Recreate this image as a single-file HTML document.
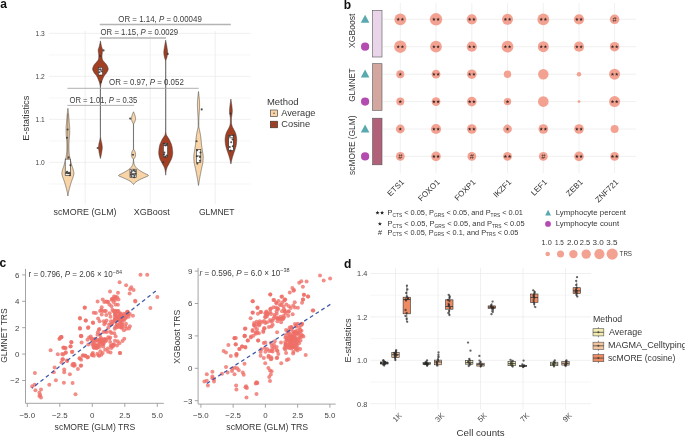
<!DOCTYPE html>
<html><head><meta charset="utf-8"><style>
html,body{margin:0;padding:0;background:#fff;}
svg{display:block;will-change:transform;}
text{font-family:"Liberation Sans", sans-serif;}
</style></head><body>
<svg width="685" height="437" viewBox="0 0 685 437">
<rect width="685" height="437" fill="#fff"/>
<line x1="49.00" y1="183.90" x2="250.50" y2="183.90" stroke="#f4f4f4" stroke-width="0.8"/>
<line x1="49.00" y1="162.40" x2="250.50" y2="162.40" stroke="#ececec" stroke-width="0.8"/>
<line x1="49.00" y1="140.90" x2="250.50" y2="140.90" stroke="#f4f4f4" stroke-width="0.8"/>
<line x1="49.00" y1="119.40" x2="250.50" y2="119.40" stroke="#ececec" stroke-width="0.8"/>
<line x1="49.00" y1="97.90" x2="250.50" y2="97.90" stroke="#f4f4f4" stroke-width="0.8"/>
<line x1="49.00" y1="76.40" x2="250.50" y2="76.40" stroke="#ececec" stroke-width="0.8"/>
<line x1="49.00" y1="54.90" x2="250.50" y2="54.90" stroke="#f4f4f4" stroke-width="0.8"/>
<line x1="49.00" y1="33.40" x2="250.50" y2="33.40" stroke="#ececec" stroke-width="0.8"/>
<line x1="85.20" y1="31.00" x2="85.20" y2="203.70" stroke="#ececec" stroke-width="0.8"/>
<line x1="150.20" y1="31.00" x2="150.20" y2="203.70" stroke="#ececec" stroke-width="0.8"/>
<line x1="215.20" y1="31.00" x2="215.20" y2="203.70" stroke="#ececec" stroke-width="0.8"/>
<text x="44.80" y="36.10" font-size="7.6" text-anchor="end" textLength="9.20" lengthAdjust="spacingAndGlyphs" fill="#444">1.3</text>
<text x="44.80" y="79.10" font-size="7.6" text-anchor="end" textLength="9.20" lengthAdjust="spacingAndGlyphs" fill="#444">1.2</text>
<text x="44.80" y="122.10" font-size="7.6" text-anchor="end" textLength="9.20" lengthAdjust="spacingAndGlyphs" fill="#444">1.1</text>
<text x="44.80" y="165.10" font-size="7.6" text-anchor="end" textLength="9.20" lengthAdjust="spacingAndGlyphs" fill="#444">1.0</text>
<text x="28.80" y="118.20" font-size="9.2" text-anchor="middle" textLength="45.00" lengthAdjust="spacingAndGlyphs" fill="#363636" transform="rotate(-90 28.80 118.20)">E-statistics</text>
<text x="85.00" y="214.70" font-size="9.8" text-anchor="middle" textLength="63.00" lengthAdjust="spacingAndGlyphs" fill="#363636">scMORE (GLM)</text>
<text x="151.80" y="214.70" font-size="9.8" text-anchor="middle" textLength="36.00" lengthAdjust="spacingAndGlyphs" fill="#363636">XGBoost</text>
<text x="216.70" y="214.70" font-size="9.8" text-anchor="middle" textLength="35.60" lengthAdjust="spacingAndGlyphs" fill="#363636">GLMNET</text>
<path d="M67.90,108.30 L67.95,108.63 L67.99,108.96 L68.04,109.30 L68.09,109.63 L68.14,109.96 L68.18,110.29 L68.23,110.63 L68.28,110.96 L68.32,111.29 L68.36,111.62 L68.40,111.95 L68.43,112.29 L68.46,112.62 L68.49,112.95 L68.52,113.28 L68.55,113.62 L68.58,113.95 L68.61,114.28 L68.64,114.61 L68.66,114.94 L68.69,115.28 L68.71,115.61 L68.74,115.94 L68.76,116.27 L68.79,116.60 L68.81,116.94 L68.84,117.27 L68.87,117.60 L68.89,117.93 L68.92,118.27 L68.95,118.60 L68.98,118.93 L69.01,119.26 L69.03,119.59 L69.06,119.93 L69.09,120.26 L69.12,120.59 L69.15,120.92 L69.18,121.26 L69.20,121.59 L69.23,121.92 L69.26,122.25 L69.29,122.58 L69.31,122.92 L69.34,123.25 L69.37,123.58 L69.39,123.91 L69.42,124.25 L69.45,124.58 L69.48,124.91 L69.52,125.24 L69.55,125.57 L69.58,125.91 L69.61,126.24 L69.64,126.57 L69.66,126.90 L69.68,127.24 L69.69,127.57 L69.70,127.90 L69.70,128.23 L69.70,128.56 L69.70,128.90 L69.70,129.23 L69.70,129.56 L69.70,129.89 L69.70,130.22 L69.70,130.56 L69.70,130.89 L69.70,131.22 L69.70,131.55 L69.70,131.89 L69.70,132.22 L69.70,132.55 L69.70,132.88 L69.70,133.21 L69.69,133.55 L69.68,133.88 L69.66,134.21 L69.63,134.54 L69.61,134.88 L69.58,135.21 L69.54,135.54 L69.51,135.87 L69.47,136.20 L69.43,136.54 L69.39,136.87 L69.36,137.20 L69.32,137.53 L69.29,137.87 L69.26,138.20 L69.23,138.53 L69.21,138.86 L69.19,139.19 L69.17,139.53 L69.15,139.86 L69.13,140.19 L69.11,140.52 L69.09,140.86 L69.07,141.19 L69.05,141.52 L69.03,141.85 L69.02,142.18 L69.00,142.52 L68.98,142.85 L68.97,143.18 L68.95,143.51 L68.94,143.85 L68.93,144.18 L68.92,144.51 L68.91,144.84 L68.91,145.17 L68.90,145.51 L68.90,145.84 L68.90,146.17 L68.90,146.50 L68.90,146.83 L68.91,147.17 L68.91,147.50 L68.92,147.83 L68.92,148.16 L68.93,148.50 L68.94,148.83 L68.94,149.16 L68.95,149.49 L68.96,149.82 L68.97,150.16 L68.98,150.49 L68.99,150.82 L69.01,151.15 L69.02,151.49 L69.04,151.82 L69.07,152.15 L69.10,152.48 L69.13,152.81 L69.17,153.15 L69.21,153.48 L69.25,153.81 L69.29,154.14 L69.33,154.48 L69.37,154.81 L69.42,155.14 L69.47,155.47 L69.52,155.80 L69.58,156.14 L69.64,156.47 L69.70,156.80 L69.77,157.13 L69.83,157.47 L69.90,157.80 L69.98,158.13 L70.05,158.46 L70.13,158.79 L70.20,159.13 L70.28,159.46 L70.35,159.79 L70.43,160.12 L70.50,160.45 L70.58,160.79 L70.66,161.12 L70.74,161.45 L70.83,161.78 L70.91,162.12 L71.00,162.45 L71.09,162.78 L71.17,163.11 L71.26,163.44 L71.36,163.78 L71.45,164.11 L71.54,164.44 L71.64,164.77 L71.73,165.11 L71.83,165.44 L71.94,165.77 L72.05,166.10 L72.16,166.43 L72.28,166.77 L72.40,167.10 L72.52,167.43 L72.63,167.76 L72.75,168.10 L72.86,168.43 L72.97,168.76 L73.07,169.09 L73.16,169.42 L73.24,169.76 L73.32,170.09 L73.40,170.42 L73.47,170.75 L73.55,171.09 L73.63,171.42 L73.70,171.75 L73.76,172.08 L73.81,172.41 L73.86,172.75 L73.89,173.08 L73.90,173.41 L73.89,173.74 L73.86,174.07 L73.82,174.41 L73.75,174.74 L73.67,175.07 L73.58,175.40 L73.48,175.74 L73.38,176.07 L73.28,176.40 L73.18,176.73 L73.08,177.06 L72.98,177.40 L72.87,177.73 L72.74,178.06 L72.62,178.39 L72.49,178.73 L72.35,179.06 L72.23,179.39 L72.10,179.72 L71.98,180.05 L71.87,180.39 L71.75,180.72 L71.64,181.05 L71.53,181.38 L71.42,181.72 L71.31,182.05 L71.20,182.38 L71.09,182.71 L70.99,183.04 L70.88,183.38 L70.78,183.71 L70.68,184.04 L70.58,184.37 L70.48,184.71 L70.38,185.04 L70.28,185.37 L70.18,185.70 L70.09,186.03 L70.00,186.37 L69.90,186.70 L69.81,187.03 L69.72,187.36 L69.63,187.70 L69.55,188.03 L69.46,188.36 L69.38,188.69 L69.29,189.02 L69.21,189.36 L69.13,189.69 L69.05,190.02 L68.97,190.35 L68.89,190.68 L68.82,191.02 L68.74,191.35 L68.67,191.68 L68.60,192.01 L68.53,192.35 L68.47,192.68 L68.40,193.01 L68.34,193.34 L68.29,193.67 L68.23,194.01 L68.17,194.34 L68.12,194.67 L68.07,195.00 L68.01,195.34 L67.96,195.67 L67.90,196.00 L67.90,196.00 L67.84,195.67 L67.79,195.34 L67.73,195.00 L67.68,194.67 L67.63,194.34 L67.57,194.01 L67.51,193.67 L67.46,193.34 L67.40,193.01 L67.33,192.68 L67.27,192.35 L67.20,192.01 L67.13,191.68 L67.06,191.35 L66.98,191.02 L66.91,190.68 L66.83,190.35 L66.75,190.02 L66.67,189.69 L66.59,189.36 L66.51,189.02 L66.42,188.69 L66.34,188.36 L66.25,188.03 L66.17,187.70 L66.08,187.36 L65.99,187.03 L65.90,186.70 L65.80,186.37 L65.71,186.03 L65.62,185.70 L65.52,185.37 L65.42,185.04 L65.32,184.71 L65.22,184.37 L65.12,184.04 L65.02,183.71 L64.92,183.38 L64.81,183.04 L64.71,182.71 L64.60,182.38 L64.49,182.05 L64.38,181.72 L64.27,181.38 L64.16,181.05 L64.05,180.72 L63.93,180.39 L63.82,180.05 L63.70,179.72 L63.57,179.39 L63.45,179.06 L63.31,178.73 L63.18,178.39 L63.06,178.06 L62.93,177.73 L62.82,177.40 L62.72,177.06 L62.62,176.73 L62.52,176.40 L62.42,176.07 L62.32,175.74 L62.22,175.40 L62.13,175.07 L62.05,174.74 L61.98,174.41 L61.94,174.07 L61.91,173.74 L61.90,173.41 L61.91,173.08 L61.94,172.75 L61.99,172.41 L62.04,172.08 L62.10,171.75 L62.17,171.42 L62.25,171.09 L62.33,170.75 L62.40,170.42 L62.48,170.09 L62.56,169.76 L62.64,169.42 L62.73,169.09 L62.83,168.76 L62.94,168.43 L63.05,168.10 L63.17,167.76 L63.28,167.43 L63.40,167.10 L63.52,166.77 L63.64,166.43 L63.75,166.10 L63.86,165.77 L63.97,165.44 L64.07,165.11 L64.16,164.77 L64.26,164.44 L64.35,164.11 L64.44,163.78 L64.54,163.44 L64.63,163.11 L64.71,162.78 L64.80,162.45 L64.89,162.12 L64.97,161.78 L65.06,161.45 L65.14,161.12 L65.22,160.79 L65.30,160.45 L65.37,160.12 L65.45,159.79 L65.52,159.46 L65.60,159.13 L65.67,158.79 L65.75,158.46 L65.82,158.13 L65.90,157.80 L65.97,157.47 L66.03,157.13 L66.10,156.80 L66.16,156.47 L66.22,156.14 L66.28,155.80 L66.33,155.47 L66.38,155.14 L66.43,154.81 L66.47,154.48 L66.51,154.14 L66.55,153.81 L66.59,153.48 L66.63,153.15 L66.67,152.81 L66.70,152.48 L66.73,152.15 L66.76,151.82 L66.78,151.49 L66.79,151.15 L66.81,150.82 L66.82,150.49 L66.83,150.16 L66.84,149.82 L66.85,149.49 L66.86,149.16 L66.86,148.83 L66.87,148.50 L66.88,148.16 L66.88,147.83 L66.89,147.50 L66.89,147.17 L66.90,146.83 L66.90,146.50 L66.90,146.17 L66.90,145.84 L66.90,145.51 L66.89,145.17 L66.89,144.84 L66.88,144.51 L66.87,144.18 L66.86,143.85 L66.85,143.51 L66.83,143.18 L66.82,142.85 L66.80,142.52 L66.78,142.18 L66.77,141.85 L66.75,141.52 L66.73,141.19 L66.71,140.86 L66.69,140.52 L66.67,140.19 L66.65,139.86 L66.63,139.53 L66.61,139.19 L66.59,138.86 L66.57,138.53 L66.54,138.20 L66.51,137.87 L66.48,137.53 L66.44,137.20 L66.41,136.87 L66.37,136.54 L66.33,136.20 L66.29,135.87 L66.26,135.54 L66.22,135.21 L66.19,134.88 L66.17,134.54 L66.14,134.21 L66.12,133.88 L66.11,133.55 L66.10,133.21 L66.10,132.88 L66.10,132.55 L66.10,132.22 L66.10,131.89 L66.10,131.55 L66.10,131.22 L66.10,130.89 L66.10,130.56 L66.10,130.22 L66.10,129.89 L66.10,129.56 L66.10,129.23 L66.10,128.90 L66.10,128.56 L66.10,128.23 L66.10,127.90 L66.11,127.57 L66.12,127.24 L66.14,126.90 L66.16,126.57 L66.19,126.24 L66.22,125.91 L66.25,125.57 L66.28,125.24 L66.32,124.91 L66.35,124.58 L66.38,124.25 L66.41,123.91 L66.43,123.58 L66.46,123.25 L66.49,122.92 L66.51,122.58 L66.54,122.25 L66.57,121.92 L66.60,121.59 L66.62,121.26 L66.65,120.92 L66.68,120.59 L66.71,120.26 L66.74,119.93 L66.77,119.59 L66.79,119.26 L66.82,118.93 L66.85,118.60 L66.88,118.27 L66.91,117.93 L66.93,117.60 L66.96,117.27 L66.99,116.94 L67.01,116.60 L67.04,116.27 L67.06,115.94 L67.09,115.61 L67.11,115.28 L67.14,114.94 L67.16,114.61 L67.19,114.28 L67.22,113.95 L67.25,113.62 L67.28,113.28 L67.31,112.95 L67.34,112.62 L67.37,112.29 L67.40,111.95 L67.44,111.62 L67.48,111.29 L67.52,110.96 L67.57,110.63 L67.62,110.29 L67.66,109.96 L67.71,109.63 L67.76,109.30 L67.81,108.96 L67.85,108.63 L67.90,108.30Z" fill="#f9d4a6" stroke="#333" stroke-width="0.5" stroke-linejoin="round"/>
<path d="M100.40,40.90 L100.46,41.23 L100.53,41.57 L100.59,41.90 L100.65,42.23 L100.71,42.57 L100.78,42.90 L100.84,43.23 L100.91,43.57 L100.98,43.90 L101.05,44.23 L101.12,44.56 L101.19,44.90 L101.27,45.23 L101.35,45.56 L101.42,45.90 L101.50,46.23 L101.59,46.56 L101.67,46.90 L101.77,47.23 L101.88,47.56 L102.01,47.90 L102.14,48.23 L102.27,48.56 L102.39,48.90 L102.49,49.23 L102.56,49.56 L102.60,49.89 L102.60,50.23 L102.58,50.56 L102.55,50.89 L102.52,51.23 L102.48,51.56 L102.44,51.89 L102.39,52.23 L102.35,52.56 L102.31,52.89 L102.28,53.23 L102.24,53.56 L102.19,53.89 L102.15,54.23 L102.11,54.56 L102.07,54.89 L102.03,55.23 L102.01,55.56 L102.00,55.89 L102.00,56.22 L102.01,56.56 L102.03,56.89 L102.06,57.22 L102.09,57.56 L102.13,57.89 L102.18,58.22 L102.23,58.56 L102.28,58.89 L102.35,59.22 L102.47,59.56 L102.62,59.89 L102.81,60.22 L103.01,60.56 L103.23,60.89 L103.46,61.22 L103.76,61.55 L104.09,61.89 L104.45,62.22 L104.79,62.55 L105.10,62.89 L105.38,63.22 L105.65,63.55 L105.92,63.89 L106.19,64.22 L106.44,64.55 L106.67,64.89 L106.89,65.22 L107.08,65.55 L107.25,65.89 L107.39,66.22 L107.53,66.55 L107.67,66.89 L107.81,67.22 L107.93,67.55 L108.03,67.88 L108.11,68.22 L108.17,68.55 L108.20,68.88 L108.19,69.22 L108.15,69.55 L108.07,69.88 L107.96,70.22 L107.82,70.55 L107.67,70.88 L107.50,71.22 L107.32,71.55 L107.14,71.88 L106.95,72.22 L106.77,72.55 L106.57,72.88 L106.34,73.22 L106.08,73.55 L105.80,73.88 L105.51,74.21 L105.22,74.55 L104.94,74.88 L104.67,75.21 L104.43,75.55 L104.21,75.88 L104.02,76.21 L103.84,76.55 L103.66,76.88 L103.50,77.21 L103.34,77.55 L103.18,77.88 L103.03,78.21 L102.89,78.55 L102.75,78.88 L102.61,79.21 L102.48,79.54 L102.35,79.88 L102.22,80.21 L102.09,80.54 L101.96,80.88 L101.84,81.21 L101.71,81.54 L101.59,81.88 L101.48,82.21 L101.37,82.54 L101.27,82.88 L101.18,83.21 L101.10,83.54 L101.02,83.88 L100.96,84.21 L100.90,84.54 L100.84,84.88 L100.78,85.21 L100.72,85.54 L100.67,85.87 L100.62,86.21 L100.58,86.54 L100.54,86.87 L100.51,87.21 L100.49,87.54 L100.48,87.87 L100.48,88.21 L100.48,88.54 L100.48,88.87 L100.48,89.21 L100.47,89.54 L100.47,89.87 L100.47,90.21 L100.47,90.54 L100.47,90.87 L100.47,91.20 L100.47,91.54 L100.47,91.87 L100.47,92.20 L100.47,92.54 L100.47,92.87 L100.47,93.20 L100.46,93.54 L100.46,93.87 L100.46,94.20 L100.46,94.54 L100.46,94.87 L100.46,95.20 L100.46,95.54 L100.46,95.87 L100.46,96.20 L100.46,96.54 L100.46,96.87 L100.46,97.20 L100.46,97.53 L100.46,97.87 L100.46,98.20 L100.46,98.53 L100.46,98.87 L100.46,99.20 L100.46,99.53 L100.46,99.87 L100.46,100.20 L100.46,100.53 L100.46,100.87 L100.46,101.20 L100.46,101.53 L100.46,101.87 L100.46,102.20 L100.46,102.53 L100.46,102.86 L100.46,103.20 L100.46,103.53 L100.46,103.86 L100.46,104.20 L100.46,104.53 L100.46,104.86 L100.46,105.20 L100.46,105.53 L100.46,105.86 L100.46,106.20 L100.46,106.53 L100.46,106.86 L100.46,107.20 L100.46,107.53 L100.46,107.86 L100.46,108.20 L100.46,108.53 L100.46,108.86 L100.46,109.19 L100.46,109.53 L100.46,109.86 L100.46,110.19 L100.46,110.53 L100.46,110.86 L100.46,111.19 L100.46,111.53 L100.46,111.86 L100.46,112.19 L100.46,112.53 L100.46,112.86 L100.46,113.19 L100.46,113.53 L100.46,113.86 L100.46,114.19 L100.46,114.52 L100.46,114.86 L100.46,115.19 L100.46,115.52 L100.46,115.86 L100.46,116.19 L100.46,116.52 L100.46,116.86 L100.46,117.19 L100.46,117.52 L100.46,117.86 L100.46,118.19 L100.46,118.52 L100.46,118.86 L100.46,119.19 L100.46,119.52 L100.46,119.86 L100.46,120.19 L100.46,120.52 L100.46,120.85 L100.46,121.19 L100.46,121.52 L100.46,121.85 L100.46,122.19 L100.46,122.52 L100.46,122.85 L100.46,123.19 L100.46,123.52 L100.46,123.85 L100.46,124.19 L100.46,124.52 L100.46,124.85 L100.46,125.19 L100.46,125.52 L100.46,125.85 L100.46,126.18 L100.46,126.52 L100.46,126.85 L100.46,127.18 L100.46,127.52 L100.46,127.85 L100.46,128.18 L100.46,128.52 L100.46,128.85 L100.47,129.18 L100.47,129.52 L100.47,129.85 L100.47,130.18 L100.47,130.52 L100.47,130.85 L100.47,131.18 L100.47,131.52 L100.47,131.85 L100.47,132.18 L100.47,132.51 L100.47,132.85 L100.47,133.18 L100.47,133.51 L100.47,133.85 L100.47,134.18 L100.48,134.51 L100.48,134.85 L100.48,135.18 L100.48,135.51 L100.48,135.85 L100.48,136.18 L100.50,136.51 L100.52,136.85 L100.55,137.18 L100.59,137.51 L100.64,137.85 L100.69,138.18 L100.74,138.51 L100.80,138.84 L100.86,139.18 L100.92,139.51 L100.97,139.84 L101.03,140.18 L101.10,140.51 L101.17,140.84 L101.25,141.18 L101.33,141.51 L101.42,141.84 L101.51,142.18 L101.59,142.51 L101.67,142.84 L101.75,143.18 L101.82,143.51 L101.88,143.84 L101.93,144.17 L101.98,144.51 L102.03,144.84 L102.07,145.17 L102.12,145.51 L102.17,145.84 L102.21,146.17 L102.24,146.51 L102.27,146.84 L102.29,147.17 L102.30,147.51 L102.30,147.84 L102.29,148.17 L102.26,148.51 L102.23,148.84 L102.18,149.17 L102.14,149.51 L102.08,149.84 L102.03,150.17 L101.98,150.50 L101.92,150.84 L101.88,151.17 L101.83,151.50 L101.77,151.84 L101.72,152.17 L101.66,152.50 L101.61,152.84 L101.55,153.17 L101.49,153.50 L101.43,153.84 L101.36,154.17 L101.30,154.50 L101.23,154.84 L101.17,155.17 L101.10,155.50 L101.02,155.83 L100.95,156.17 L100.87,156.50 L100.79,156.83 L100.71,157.17 L100.63,157.50 L100.56,157.83 L100.48,158.17 L100.40,158.50 L100.40,158.50 L100.32,158.17 L100.24,157.83 L100.17,157.50 L100.09,157.17 L100.01,156.83 L99.93,156.50 L99.85,156.17 L99.78,155.83 L99.70,155.50 L99.63,155.17 L99.57,154.84 L99.50,154.50 L99.44,154.17 L99.37,153.84 L99.31,153.50 L99.25,153.17 L99.19,152.84 L99.14,152.50 L99.08,152.17 L99.03,151.84 L98.97,151.50 L98.92,151.17 L98.88,150.84 L98.82,150.50 L98.77,150.17 L98.72,149.84 L98.66,149.51 L98.62,149.17 L98.57,148.84 L98.54,148.51 L98.51,148.17 L98.50,147.84 L98.50,147.51 L98.51,147.17 L98.53,146.84 L98.56,146.51 L98.59,146.17 L98.63,145.84 L98.68,145.51 L98.73,145.17 L98.77,144.84 L98.82,144.51 L98.87,144.17 L98.92,143.84 L98.98,143.51 L99.05,143.18 L99.13,142.84 L99.21,142.51 L99.29,142.18 L99.38,141.84 L99.47,141.51 L99.55,141.18 L99.63,140.84 L99.70,140.51 L99.77,140.18 L99.83,139.84 L99.88,139.51 L99.94,139.18 L100.00,138.84 L100.06,138.51 L100.11,138.18 L100.16,137.85 L100.21,137.51 L100.25,137.18 L100.28,136.85 L100.30,136.51 L100.32,136.18 L100.32,135.85 L100.32,135.51 L100.32,135.18 L100.32,134.85 L100.32,134.51 L100.33,134.18 L100.33,133.85 L100.33,133.51 L100.33,133.18 L100.33,132.85 L100.33,132.51 L100.33,132.18 L100.33,131.85 L100.33,131.52 L100.33,131.18 L100.33,130.85 L100.33,130.52 L100.33,130.18 L100.33,129.85 L100.33,129.52 L100.33,129.18 L100.34,128.85 L100.34,128.52 L100.34,128.18 L100.34,127.85 L100.34,127.52 L100.34,127.18 L100.34,126.85 L100.34,126.52 L100.34,126.18 L100.34,125.85 L100.34,125.52 L100.34,125.19 L100.34,124.85 L100.34,124.52 L100.34,124.19 L100.34,123.85 L100.34,123.52 L100.34,123.19 L100.34,122.85 L100.34,122.52 L100.34,122.19 L100.34,121.85 L100.34,121.52 L100.34,121.19 L100.34,120.85 L100.34,120.52 L100.34,120.19 L100.34,119.86 L100.34,119.52 L100.34,119.19 L100.34,118.86 L100.34,118.52 L100.34,118.19 L100.34,117.86 L100.34,117.52 L100.34,117.19 L100.34,116.86 L100.34,116.52 L100.34,116.19 L100.34,115.86 L100.34,115.52 L100.34,115.19 L100.34,114.86 L100.34,114.52 L100.34,114.19 L100.34,113.86 L100.34,113.53 L100.34,113.19 L100.34,112.86 L100.34,112.53 L100.34,112.19 L100.34,111.86 L100.34,111.53 L100.34,111.19 L100.34,110.86 L100.34,110.53 L100.34,110.19 L100.34,109.86 L100.34,109.53 L100.34,109.19 L100.34,108.86 L100.34,108.53 L100.34,108.20 L100.34,107.86 L100.34,107.53 L100.34,107.20 L100.34,106.86 L100.34,106.53 L100.34,106.20 L100.34,105.86 L100.34,105.53 L100.34,105.20 L100.34,104.86 L100.34,104.53 L100.34,104.20 L100.34,103.86 L100.34,103.53 L100.34,103.20 L100.34,102.86 L100.34,102.53 L100.34,102.20 L100.34,101.87 L100.34,101.53 L100.34,101.20 L100.34,100.87 L100.34,100.53 L100.34,100.20 L100.34,99.87 L100.34,99.53 L100.34,99.20 L100.34,98.87 L100.34,98.53 L100.34,98.20 L100.34,97.87 L100.34,97.53 L100.34,97.20 L100.34,96.87 L100.34,96.54 L100.34,96.20 L100.34,95.87 L100.34,95.54 L100.34,95.20 L100.34,94.87 L100.34,94.54 L100.34,94.20 L100.34,93.87 L100.34,93.54 L100.33,93.20 L100.33,92.87 L100.33,92.54 L100.33,92.20 L100.33,91.87 L100.33,91.54 L100.33,91.20 L100.33,90.87 L100.33,90.54 L100.33,90.21 L100.33,89.87 L100.33,89.54 L100.32,89.21 L100.32,88.87 L100.32,88.54 L100.32,88.21 L100.32,87.87 L100.31,87.54 L100.29,87.21 L100.26,86.87 L100.22,86.54 L100.18,86.21 L100.13,85.87 L100.08,85.54 L100.02,85.21 L99.96,84.88 L99.90,84.54 L99.84,84.21 L99.78,83.88 L99.70,83.54 L99.62,83.21 L99.53,82.88 L99.43,82.54 L99.32,82.21 L99.21,81.88 L99.09,81.54 L98.96,81.21 L98.84,80.88 L98.71,80.54 L98.58,80.21 L98.45,79.88 L98.32,79.54 L98.19,79.21 L98.05,78.88 L97.91,78.55 L97.77,78.21 L97.62,77.88 L97.46,77.55 L97.30,77.21 L97.14,76.88 L96.96,76.55 L96.78,76.21 L96.59,75.88 L96.37,75.55 L96.13,75.21 L95.86,74.88 L95.58,74.55 L95.29,74.21 L95.00,73.88 L94.72,73.55 L94.46,73.22 L94.23,72.88 L94.03,72.55 L93.85,72.22 L93.66,71.88 L93.48,71.55 L93.30,71.22 L93.13,70.88 L92.98,70.55 L92.84,70.22 L92.73,69.88 L92.65,69.55 L92.61,69.22 L92.60,68.88 L92.63,68.55 L92.69,68.22 L92.77,67.88 L92.87,67.55 L92.99,67.22 L93.13,66.89 L93.27,66.55 L93.41,66.22 L93.55,65.89 L93.72,65.55 L93.91,65.22 L94.13,64.89 L94.36,64.55 L94.61,64.22 L94.88,63.89 L95.15,63.55 L95.42,63.22 L95.70,62.89 L96.01,62.55 L96.35,62.22 L96.71,61.89 L97.04,61.55 L97.34,61.22 L97.57,60.89 L97.79,60.56 L97.99,60.22 L98.18,59.89 L98.33,59.56 L98.45,59.22 L98.52,58.89 L98.57,58.56 L98.62,58.22 L98.67,57.89 L98.71,57.56 L98.74,57.22 L98.77,56.89 L98.79,56.56 L98.80,56.22 L98.80,55.89 L98.79,55.56 L98.77,55.23 L98.73,54.89 L98.69,54.56 L98.65,54.23 L98.61,53.89 L98.56,53.56 L98.52,53.23 L98.49,52.89 L98.45,52.56 L98.41,52.23 L98.36,51.89 L98.32,51.56 L98.28,51.23 L98.25,50.89 L98.22,50.56 L98.20,50.23 L98.20,49.89 L98.24,49.56 L98.31,49.23 L98.41,48.90 L98.53,48.56 L98.66,48.23 L98.79,47.90 L98.92,47.56 L99.03,47.23 L99.13,46.90 L99.21,46.56 L99.30,46.23 L99.38,45.90 L99.45,45.56 L99.53,45.23 L99.61,44.90 L99.68,44.56 L99.75,44.23 L99.82,43.90 L99.89,43.57 L99.96,43.23 L100.02,42.90 L100.09,42.57 L100.15,42.23 L100.21,41.90 L100.27,41.57 L100.34,41.23 L100.40,40.90Z" fill="#a23f22" stroke="#333" stroke-width="0.5" stroke-linejoin="round"/>
<path d="M133.50,111.80 L133.64,112.13 L133.78,112.46 L133.93,112.80 L134.08,113.13 L134.22,113.46 L134.36,113.79 L134.50,114.12 L134.62,114.46 L134.74,114.79 L134.83,115.12 L134.93,115.45 L135.04,115.78 L135.14,116.12 L135.23,116.45 L135.32,116.78 L135.41,117.11 L135.48,117.44 L135.54,117.78 L135.58,118.11 L135.60,118.44 L135.60,118.77 L135.57,119.10 L135.51,119.44 L135.44,119.77 L135.35,120.10 L135.25,120.43 L135.14,120.76 L135.03,121.09 L134.92,121.43 L134.81,121.76 L134.65,122.09 L134.47,122.42 L134.28,122.75 L134.09,123.09 L133.91,123.42 L133.76,123.75 L133.66,124.08 L133.60,124.41 L133.60,124.75 L133.59,125.08 L133.59,125.41 L133.59,125.74 L133.59,126.07 L133.58,126.41 L133.58,126.74 L133.58,127.07 L133.58,127.40 L133.58,127.73 L133.57,128.07 L133.57,128.40 L133.57,128.73 L133.57,129.06 L133.57,129.39 L133.57,129.73 L133.57,130.06 L133.57,130.39 L133.56,130.72 L133.56,131.05 L133.56,131.39 L133.56,131.72 L133.56,132.05 L133.56,132.38 L133.56,132.71 L133.56,133.05 L133.56,133.38 L133.56,133.71 L133.56,134.04 L133.56,134.37 L133.56,134.71 L133.56,135.04 L133.56,135.37 L133.56,135.70 L133.56,136.03 L133.56,136.37 L133.56,136.70 L133.56,137.03 L133.56,137.36 L133.56,137.69 L133.56,138.03 L133.56,138.36 L133.56,138.69 L133.56,139.02 L133.56,139.35 L133.56,139.68 L133.56,140.02 L133.56,140.35 L133.56,140.68 L133.56,141.01 L133.57,141.34 L133.57,141.68 L133.57,142.01 L133.57,142.34 L133.57,142.67 L133.57,143.00 L133.57,143.34 L133.57,143.67 L133.57,144.00 L133.57,144.33 L133.58,144.66 L133.58,145.00 L133.58,145.33 L133.58,145.66 L133.58,145.99 L133.58,146.32 L133.59,146.66 L133.59,146.99 L133.59,147.32 L133.59,147.65 L133.59,147.98 L133.60,148.32 L133.60,148.65 L133.60,148.98 L133.65,149.31 L133.78,149.64 L133.97,149.98 L134.20,150.31 L134.43,150.64 L134.65,150.97 L134.83,151.30 L134.94,151.64 L135.05,151.97 L135.15,152.30 L135.25,152.63 L135.34,152.96 L135.42,153.30 L135.49,153.63 L135.55,153.96 L135.58,154.29 L135.60,154.62 L135.59,154.96 L135.56,155.29 L135.50,155.62 L135.42,155.95 L135.33,156.28 L135.22,156.62 L135.10,156.95 L134.98,157.28 L134.85,157.61 L134.64,157.94 L134.36,158.27 L134.06,158.61 L133.81,158.94 L133.64,159.27 L133.60,159.60 L133.61,159.93 L133.62,160.27 L133.63,160.60 L133.65,160.93 L133.68,161.26 L133.71,161.59 L133.74,161.93 L133.77,162.26 L133.81,162.59 L133.86,162.92 L133.93,163.25 L134.02,163.59 L134.11,163.92 L134.22,164.25 L134.34,164.58 L134.47,164.91 L134.60,165.25 L134.76,165.58 L134.94,165.91 L135.14,166.24 L135.36,166.57 L135.60,166.91 L135.86,167.24 L136.13,167.57 L136.41,167.90 L136.72,168.23 L137.07,168.57 L137.46,168.90 L137.89,169.23 L138.34,169.56 L138.82,169.89 L139.31,170.23 L139.82,170.56 L140.33,170.89 L140.85,171.22 L141.41,171.55 L142.01,171.89 L142.62,172.22 L143.25,172.55 L143.87,172.88 L144.49,173.21 L145.08,173.55 L145.75,173.88 L146.50,174.21 L147.22,174.54 L147.84,174.87 L148.26,175.21 L148.40,175.54 L148.17,175.87 L147.63,176.20 L146.89,176.53 L146.05,176.86 L145.20,177.20 L144.44,177.53 L143.71,177.86 L142.94,178.19 L142.16,178.52 L141.39,178.86 L140.64,179.19 L139.96,179.52 L139.31,179.85 L138.69,180.18 L138.08,180.52 L137.51,180.85 L136.97,181.18 L136.48,181.51 L136.03,181.84 L135.61,182.18 L135.21,182.51 L134.86,182.84 L134.54,183.17 L134.26,183.50 L134.00,183.84 L133.76,184.17 L133.50,184.50 L133.50,184.50 L133.24,184.17 L133.00,183.84 L132.74,183.50 L132.46,183.17 L132.14,182.84 L131.79,182.51 L131.39,182.18 L130.97,181.84 L130.52,181.51 L130.03,181.18 L129.49,180.85 L128.92,180.52 L128.31,180.18 L127.69,179.85 L127.04,179.52 L126.36,179.19 L125.61,178.86 L124.84,178.52 L124.06,178.19 L123.29,177.86 L122.56,177.53 L121.80,177.20 L120.95,176.86 L120.11,176.53 L119.37,176.20 L118.83,175.87 L118.60,175.54 L118.74,175.21 L119.16,174.87 L119.78,174.54 L120.50,174.21 L121.25,173.88 L121.92,173.55 L122.51,173.21 L123.13,172.88 L123.75,172.55 L124.38,172.22 L124.99,171.89 L125.59,171.55 L126.15,171.22 L126.67,170.89 L127.18,170.56 L127.69,170.23 L128.18,169.89 L128.66,169.56 L129.11,169.23 L129.54,168.90 L129.93,168.57 L130.28,168.23 L130.59,167.90 L130.87,167.57 L131.14,167.24 L131.40,166.91 L131.64,166.57 L131.86,166.24 L132.06,165.91 L132.24,165.58 L132.40,165.25 L132.53,164.91 L132.66,164.58 L132.78,164.25 L132.89,163.92 L132.98,163.59 L133.07,163.25 L133.14,162.92 L133.19,162.59 L133.23,162.26 L133.26,161.93 L133.29,161.59 L133.32,161.26 L133.35,160.93 L133.37,160.60 L133.38,160.27 L133.39,159.93 L133.40,159.60 L133.36,159.27 L133.19,158.94 L132.94,158.61 L132.64,158.27 L132.36,157.94 L132.15,157.61 L132.02,157.28 L131.90,156.95 L131.78,156.62 L131.67,156.28 L131.58,155.95 L131.50,155.62 L131.44,155.29 L131.41,154.96 L131.40,154.62 L131.42,154.29 L131.45,153.96 L131.51,153.63 L131.58,153.30 L131.66,152.96 L131.75,152.63 L131.85,152.30 L131.95,151.97 L132.06,151.64 L132.17,151.30 L132.35,150.97 L132.57,150.64 L132.80,150.31 L133.03,149.98 L133.22,149.64 L133.35,149.31 L133.40,148.98 L133.40,148.65 L133.40,148.32 L133.41,147.98 L133.41,147.65 L133.41,147.32 L133.41,146.99 L133.41,146.66 L133.42,146.32 L133.42,145.99 L133.42,145.66 L133.42,145.33 L133.42,145.00 L133.42,144.66 L133.43,144.33 L133.43,144.00 L133.43,143.67 L133.43,143.34 L133.43,143.00 L133.43,142.67 L133.43,142.34 L133.43,142.01 L133.43,141.68 L133.43,141.34 L133.44,141.01 L133.44,140.68 L133.44,140.35 L133.44,140.02 L133.44,139.68 L133.44,139.35 L133.44,139.02 L133.44,138.69 L133.44,138.36 L133.44,138.03 L133.44,137.69 L133.44,137.36 L133.44,137.03 L133.44,136.70 L133.44,136.37 L133.44,136.03 L133.44,135.70 L133.44,135.37 L133.44,135.04 L133.44,134.71 L133.44,134.37 L133.44,134.04 L133.44,133.71 L133.44,133.38 L133.44,133.05 L133.44,132.71 L133.44,132.38 L133.44,132.05 L133.44,131.72 L133.44,131.39 L133.44,131.05 L133.44,130.72 L133.43,130.39 L133.43,130.06 L133.43,129.73 L133.43,129.39 L133.43,129.06 L133.43,128.73 L133.43,128.40 L133.43,128.07 L133.42,127.73 L133.42,127.40 L133.42,127.07 L133.42,126.74 L133.42,126.41 L133.41,126.07 L133.41,125.74 L133.41,125.41 L133.41,125.08 L133.40,124.75 L133.40,124.41 L133.34,124.08 L133.24,123.75 L133.09,123.42 L132.91,123.09 L132.72,122.75 L132.53,122.42 L132.35,122.09 L132.19,121.76 L132.08,121.43 L131.97,121.09 L131.86,120.76 L131.75,120.43 L131.65,120.10 L131.56,119.77 L131.49,119.44 L131.43,119.10 L131.40,118.77 L131.40,118.44 L131.42,118.11 L131.46,117.78 L131.52,117.44 L131.59,117.11 L131.68,116.78 L131.77,116.45 L131.86,116.12 L131.96,115.78 L132.07,115.45 L132.17,115.12 L132.26,114.79 L132.38,114.46 L132.50,114.12 L132.64,113.79 L132.78,113.46 L132.92,113.13 L133.07,112.80 L133.22,112.46 L133.36,112.13 L133.50,111.80Z" fill="#f9d4a6" stroke="#333" stroke-width="0.5" stroke-linejoin="round"/>
<path d="M165.70,40.10 L165.76,40.43 L165.82,40.77 L165.88,41.10 L165.94,41.43 L166.00,41.76 L166.06,42.10 L166.12,42.43 L166.18,42.76 L166.24,43.09 L166.30,43.43 L166.36,43.76 L166.42,44.09 L166.48,44.43 L166.54,44.76 L166.60,45.09 L166.66,45.42 L166.73,45.76 L166.79,46.09 L166.85,46.42 L166.91,46.76 L166.96,47.09 L167.02,47.42 L167.07,47.75 L167.11,48.09 L167.16,48.42 L167.21,48.75 L167.26,49.08 L167.31,49.42 L167.36,49.75 L167.40,50.08 L167.45,50.42 L167.49,50.75 L167.52,51.08 L167.55,51.41 L167.58,51.75 L167.59,52.08 L167.60,52.41 L167.60,52.74 L167.58,53.08 L167.56,53.41 L167.53,53.74 L167.50,54.08 L167.45,54.41 L167.40,54.74 L167.35,55.07 L167.29,55.41 L167.23,55.74 L167.17,56.07 L167.11,56.41 L167.05,56.74 L166.99,57.07 L166.91,57.40 L166.82,57.74 L166.71,58.07 L166.60,58.40 L166.48,58.73 L166.35,59.07 L166.23,59.40 L166.12,59.73 L166.02,60.07 L165.93,60.40 L165.86,60.73 L165.82,61.06 L165.80,61.40 L165.80,61.73 L165.80,62.06 L165.79,62.39 L165.79,62.73 L165.79,63.06 L165.79,63.39 L165.79,63.73 L165.79,64.06 L165.79,64.39 L165.78,64.72 L165.78,65.06 L165.78,65.39 L165.78,65.72 L165.78,66.06 L165.78,66.39 L165.78,66.72 L165.78,67.05 L165.78,67.39 L165.77,67.72 L165.77,68.05 L165.77,68.38 L165.77,68.72 L165.77,69.05 L165.77,69.38 L165.77,69.72 L165.77,70.05 L165.77,70.38 L165.77,70.71 L165.77,71.05 L165.77,71.38 L165.77,71.71 L165.77,72.04 L165.76,72.38 L165.76,72.71 L165.76,73.04 L165.76,73.38 L165.76,73.71 L165.76,74.04 L165.76,74.37 L165.76,74.71 L165.76,75.04 L165.76,75.37 L165.76,75.71 L165.76,76.04 L165.76,76.37 L165.76,76.70 L165.76,77.04 L165.76,77.37 L165.76,77.70 L165.76,78.03 L165.76,78.37 L165.76,78.70 L165.76,79.03 L165.76,79.37 L165.76,79.70 L165.76,80.03 L165.76,80.36 L165.76,80.70 L165.76,81.03 L165.76,81.36 L165.76,81.69 L165.76,82.03 L165.76,82.36 L165.76,82.69 L165.76,83.03 L165.76,83.36 L165.76,83.69 L165.76,84.02 L165.76,84.36 L165.76,84.69 L165.76,85.02 L165.76,85.36 L165.76,85.69 L165.76,86.02 L165.76,86.35 L165.76,86.69 L165.76,87.02 L165.76,87.35 L165.76,87.68 L165.76,88.02 L165.76,88.35 L165.76,88.68 L165.76,89.02 L165.76,89.35 L165.76,89.68 L165.76,90.01 L165.76,90.35 L165.76,90.68 L165.76,91.01 L165.76,91.34 L165.76,91.68 L165.76,92.01 L165.76,92.34 L165.76,92.68 L165.76,93.01 L165.76,93.34 L165.76,93.67 L165.76,94.01 L165.76,94.34 L165.76,94.67 L165.76,95.01 L165.76,95.34 L165.76,95.67 L165.76,96.00 L165.76,96.34 L165.76,96.67 L165.76,97.00 L165.76,97.33 L165.76,97.67 L165.76,98.00 L165.76,98.33 L165.76,98.67 L165.76,99.00 L165.76,99.33 L165.76,99.66 L165.76,100.00 L165.76,100.33 L165.76,100.66 L165.76,100.99 L165.76,101.33 L165.76,101.66 L165.76,101.99 L165.76,102.33 L165.76,102.66 L165.76,102.99 L165.76,103.32 L165.76,103.66 L165.76,103.99 L165.76,104.32 L165.76,104.66 L165.76,104.99 L165.76,105.32 L165.76,105.65 L165.76,105.99 L165.76,106.32 L165.76,106.65 L165.76,106.98 L165.76,107.32 L165.76,107.65 L165.76,107.98 L165.76,108.32 L165.76,108.65 L165.76,108.98 L165.76,109.31 L165.76,109.65 L165.76,109.98 L165.76,110.31 L165.76,110.64 L165.76,110.98 L165.76,111.31 L165.76,111.64 L165.76,111.98 L165.76,112.31 L165.76,112.64 L165.76,112.97 L165.76,113.31 L165.76,113.64 L165.76,113.97 L165.76,114.31 L165.76,114.64 L165.76,114.97 L165.76,115.30 L165.76,115.64 L165.76,115.97 L165.76,116.30 L165.76,116.63 L165.76,116.97 L165.76,117.30 L165.76,117.63 L165.76,117.97 L165.76,118.30 L165.76,118.63 L165.76,118.96 L165.76,119.30 L165.76,119.63 L165.76,119.96 L165.76,120.29 L165.76,120.63 L165.76,120.96 L165.76,121.29 L165.76,121.63 L165.76,121.96 L165.76,122.29 L165.76,122.62 L165.76,122.96 L165.76,123.29 L165.76,123.62 L165.77,123.96 L165.77,124.29 L165.77,124.62 L165.77,124.95 L165.77,125.29 L165.77,125.62 L165.77,125.95 L165.77,126.28 L165.78,126.62 L165.78,126.95 L165.78,127.28 L165.78,127.62 L165.78,127.95 L165.79,128.28 L165.79,128.61 L165.79,128.95 L165.79,129.28 L165.80,129.61 L165.80,129.94 L165.80,130.28 L165.81,130.61 L165.83,130.94 L165.85,131.28 L165.87,131.61 L165.90,131.94 L165.94,132.27 L165.98,132.61 L166.02,132.94 L166.07,133.27 L166.12,133.61 L166.18,133.94 L166.24,134.27 L166.30,134.60 L166.40,134.94 L166.55,135.27 L166.75,135.60 L166.97,135.93 L167.20,136.27 L167.44,136.60 L167.66,136.93 L167.87,137.27 L168.08,137.60 L168.31,137.93 L168.53,138.26 L168.74,138.60 L168.95,138.93 L169.13,139.26 L169.31,139.59 L169.47,139.93 L169.63,140.26 L169.78,140.59 L169.93,140.93 L170.08,141.26 L170.22,141.59 L170.37,141.92 L170.51,142.26 L170.67,142.59 L170.82,142.92 L170.97,143.26 L171.12,143.59 L171.26,143.92 L171.39,144.25 L171.51,144.59 L171.61,144.92 L171.69,145.25 L171.78,145.58 L171.86,145.92 L171.93,146.25 L172.01,146.58 L172.08,146.92 L172.14,147.25 L172.20,147.58 L172.25,147.91 L172.30,148.25 L172.35,148.58 L172.39,148.91 L172.43,149.24 L172.46,149.58 L172.50,149.91 L172.54,150.24 L172.57,150.58 L172.60,150.91 L172.63,151.24 L172.65,151.57 L172.67,151.91 L172.69,152.24 L172.70,152.57 L172.70,152.91 L172.69,153.24 L172.67,153.57 L172.64,153.90 L172.60,154.24 L172.55,154.57 L172.50,154.90 L172.44,155.23 L172.38,155.57 L172.32,155.90 L172.26,156.23 L172.19,156.57 L172.11,156.90 L172.02,157.23 L171.93,157.56 L171.83,157.90 L171.72,158.23 L171.61,158.56 L171.49,158.89 L171.35,159.23 L171.20,159.56 L171.04,159.89 L170.87,160.23 L170.69,160.56 L170.51,160.89 L170.34,161.22 L170.17,161.56 L170.00,161.89 L169.84,162.22 L169.67,162.56 L169.50,162.89 L169.33,163.22 L169.15,163.55 L168.98,163.89 L168.80,164.22 L168.62,164.55 L168.42,164.88 L168.22,165.22 L168.02,165.55 L167.82,165.88 L167.64,166.22 L167.48,166.55 L167.33,166.88 L167.19,167.21 L167.05,167.55 L166.92,167.88 L166.81,168.21 L166.70,168.54 L166.61,168.88 L166.52,169.21 L166.44,169.54 L166.37,169.88 L166.30,170.21 L166.23,170.54 L166.17,170.87 L166.11,171.21 L166.06,171.54 L166.02,171.87 L165.97,172.21 L165.94,172.54 L165.90,172.87 L165.87,173.20 L165.84,173.54 L165.81,173.87 L165.79,174.20 L165.76,174.53 L165.73,174.87 L165.70,175.20 L165.70,175.20 L165.67,174.87 L165.64,174.53 L165.61,174.20 L165.59,173.87 L165.56,173.54 L165.53,173.20 L165.50,172.87 L165.46,172.54 L165.43,172.21 L165.38,171.87 L165.34,171.54 L165.29,171.21 L165.23,170.87 L165.17,170.54 L165.10,170.21 L165.03,169.88 L164.96,169.54 L164.88,169.21 L164.79,168.88 L164.70,168.54 L164.59,168.21 L164.48,167.88 L164.35,167.55 L164.21,167.21 L164.07,166.88 L163.92,166.55 L163.76,166.22 L163.58,165.88 L163.38,165.55 L163.18,165.22 L162.98,164.88 L162.78,164.55 L162.60,164.22 L162.42,163.89 L162.25,163.55 L162.07,163.22 L161.90,162.89 L161.73,162.56 L161.56,162.22 L161.40,161.89 L161.23,161.56 L161.06,161.22 L160.89,160.89 L160.71,160.56 L160.53,160.23 L160.36,159.89 L160.20,159.56 L160.05,159.23 L159.91,158.89 L159.79,158.56 L159.68,158.23 L159.57,157.90 L159.47,157.56 L159.38,157.23 L159.29,156.90 L159.21,156.57 L159.14,156.23 L159.08,155.90 L159.02,155.57 L158.96,155.23 L158.90,154.90 L158.85,154.57 L158.80,154.24 L158.76,153.90 L158.73,153.57 L158.71,153.24 L158.70,152.91 L158.70,152.57 L158.71,152.24 L158.73,151.91 L158.75,151.57 L158.77,151.24 L158.80,150.91 L158.83,150.58 L158.86,150.24 L158.90,149.91 L158.94,149.58 L158.97,149.24 L159.01,148.91 L159.05,148.58 L159.10,148.25 L159.15,147.91 L159.20,147.58 L159.26,147.25 L159.32,146.92 L159.39,146.58 L159.47,146.25 L159.54,145.92 L159.62,145.58 L159.71,145.25 L159.79,144.92 L159.89,144.59 L160.01,144.25 L160.14,143.92 L160.28,143.59 L160.43,143.26 L160.58,142.92 L160.73,142.59 L160.89,142.26 L161.03,141.92 L161.18,141.59 L161.32,141.26 L161.47,140.93 L161.62,140.59 L161.77,140.26 L161.93,139.93 L162.09,139.59 L162.27,139.26 L162.45,138.93 L162.66,138.60 L162.87,138.26 L163.09,137.93 L163.32,137.60 L163.53,137.27 L163.74,136.93 L163.96,136.60 L164.20,136.27 L164.43,135.93 L164.65,135.60 L164.85,135.27 L165.00,134.94 L165.10,134.60 L165.16,134.27 L165.22,133.94 L165.28,133.61 L165.33,133.27 L165.38,132.94 L165.42,132.61 L165.46,132.27 L165.50,131.94 L165.53,131.61 L165.55,131.28 L165.57,130.94 L165.59,130.61 L165.60,130.28 L165.60,129.94 L165.60,129.61 L165.61,129.28 L165.61,128.95 L165.61,128.61 L165.61,128.28 L165.62,127.95 L165.62,127.62 L165.62,127.28 L165.62,126.95 L165.62,126.62 L165.63,126.28 L165.63,125.95 L165.63,125.62 L165.63,125.29 L165.63,124.95 L165.63,124.62 L165.63,124.29 L165.63,123.96 L165.64,123.62 L165.64,123.29 L165.64,122.96 L165.64,122.62 L165.64,122.29 L165.64,121.96 L165.64,121.63 L165.64,121.29 L165.64,120.96 L165.64,120.63 L165.64,120.29 L165.64,119.96 L165.64,119.63 L165.64,119.30 L165.64,118.96 L165.64,118.63 L165.64,118.30 L165.64,117.97 L165.64,117.63 L165.64,117.30 L165.64,116.97 L165.64,116.63 L165.64,116.30 L165.64,115.97 L165.64,115.64 L165.64,115.30 L165.64,114.97 L165.64,114.64 L165.64,114.31 L165.64,113.97 L165.64,113.64 L165.64,113.31 L165.64,112.97 L165.64,112.64 L165.64,112.31 L165.64,111.98 L165.64,111.64 L165.64,111.31 L165.64,110.98 L165.64,110.64 L165.64,110.31 L165.64,109.98 L165.64,109.65 L165.64,109.31 L165.64,108.98 L165.64,108.65 L165.64,108.32 L165.64,107.98 L165.64,107.65 L165.64,107.32 L165.64,106.98 L165.64,106.65 L165.64,106.32 L165.64,105.99 L165.64,105.65 L165.64,105.32 L165.64,104.99 L165.64,104.66 L165.64,104.32 L165.64,103.99 L165.64,103.66 L165.64,103.32 L165.64,102.99 L165.64,102.66 L165.64,102.33 L165.64,101.99 L165.64,101.66 L165.64,101.33 L165.64,100.99 L165.64,100.66 L165.64,100.33 L165.64,100.00 L165.64,99.66 L165.64,99.33 L165.64,99.00 L165.64,98.67 L165.64,98.33 L165.64,98.00 L165.64,97.67 L165.64,97.33 L165.64,97.00 L165.64,96.67 L165.64,96.34 L165.64,96.00 L165.64,95.67 L165.64,95.34 L165.64,95.01 L165.64,94.67 L165.64,94.34 L165.64,94.01 L165.64,93.67 L165.64,93.34 L165.64,93.01 L165.64,92.68 L165.64,92.34 L165.64,92.01 L165.64,91.68 L165.64,91.34 L165.64,91.01 L165.64,90.68 L165.64,90.35 L165.64,90.01 L165.64,89.68 L165.64,89.35 L165.64,89.02 L165.64,88.68 L165.64,88.35 L165.64,88.02 L165.64,87.68 L165.64,87.35 L165.64,87.02 L165.64,86.69 L165.64,86.35 L165.64,86.02 L165.64,85.69 L165.64,85.36 L165.64,85.02 L165.64,84.69 L165.64,84.36 L165.64,84.02 L165.64,83.69 L165.64,83.36 L165.64,83.03 L165.64,82.69 L165.64,82.36 L165.64,82.03 L165.64,81.69 L165.64,81.36 L165.64,81.03 L165.64,80.70 L165.64,80.36 L165.64,80.03 L165.64,79.70 L165.64,79.37 L165.64,79.03 L165.64,78.70 L165.64,78.37 L165.64,78.03 L165.64,77.70 L165.64,77.37 L165.64,77.04 L165.64,76.70 L165.64,76.37 L165.64,76.04 L165.64,75.71 L165.64,75.37 L165.64,75.04 L165.64,74.71 L165.64,74.37 L165.64,74.04 L165.64,73.71 L165.64,73.38 L165.64,73.04 L165.64,72.71 L165.64,72.38 L165.63,72.04 L165.63,71.71 L165.63,71.38 L165.63,71.05 L165.63,70.71 L165.63,70.38 L165.63,70.05 L165.63,69.72 L165.63,69.38 L165.63,69.05 L165.63,68.72 L165.63,68.38 L165.63,68.05 L165.63,67.72 L165.62,67.39 L165.62,67.05 L165.62,66.72 L165.62,66.39 L165.62,66.06 L165.62,65.72 L165.62,65.39 L165.62,65.06 L165.62,64.72 L165.61,64.39 L165.61,64.06 L165.61,63.73 L165.61,63.39 L165.61,63.06 L165.61,62.73 L165.61,62.39 L165.60,62.06 L165.60,61.73 L165.60,61.40 L165.58,61.06 L165.54,60.73 L165.47,60.40 L165.38,60.07 L165.28,59.73 L165.17,59.40 L165.05,59.07 L164.92,58.73 L164.80,58.40 L164.69,58.07 L164.58,57.74 L164.49,57.40 L164.41,57.07 L164.35,56.74 L164.29,56.41 L164.23,56.07 L164.17,55.74 L164.11,55.41 L164.05,55.07 L164.00,54.74 L163.95,54.41 L163.90,54.08 L163.87,53.74 L163.84,53.41 L163.82,53.08 L163.80,52.74 L163.80,52.41 L163.81,52.08 L163.82,51.75 L163.85,51.41 L163.88,51.08 L163.91,50.75 L163.95,50.42 L164.00,50.08 L164.04,49.75 L164.09,49.42 L164.14,49.08 L164.19,48.75 L164.24,48.42 L164.29,48.09 L164.33,47.75 L164.38,47.42 L164.44,47.09 L164.49,46.76 L164.55,46.42 L164.61,46.09 L164.67,45.76 L164.74,45.42 L164.80,45.09 L164.86,44.76 L164.92,44.43 L164.98,44.09 L165.04,43.76 L165.10,43.43 L165.16,43.09 L165.22,42.76 L165.28,42.43 L165.34,42.10 L165.40,41.76 L165.46,41.43 L165.52,41.10 L165.58,40.77 L165.64,40.43 L165.70,40.10Z" fill="#a23f22" stroke="#333" stroke-width="0.5" stroke-linejoin="round"/>
<path d="M198.50,91.50 L198.54,91.83 L198.57,92.16 L198.61,92.50 L198.65,92.83 L198.69,93.16 L198.72,93.49 L198.76,93.83 L198.80,94.16 L198.84,94.49 L198.87,94.82 L198.91,95.15 L198.95,95.49 L198.98,95.82 L199.02,96.15 L199.05,96.48 L199.09,96.81 L199.13,97.15 L199.17,97.48 L199.20,97.81 L199.24,98.14 L199.27,98.48 L199.31,98.81 L199.34,99.14 L199.36,99.47 L199.39,99.80 L199.41,100.14 L199.43,100.47 L199.45,100.80 L199.47,101.13 L199.48,101.46 L199.50,101.80 L199.52,102.13 L199.53,102.46 L199.55,102.79 L199.56,103.13 L199.57,103.46 L199.58,103.79 L199.59,104.12 L199.60,104.45 L199.60,104.79 L199.60,105.12 L199.60,105.45 L199.59,105.78 L199.58,106.11 L199.57,106.45 L199.56,106.78 L199.55,107.11 L199.53,107.44 L199.52,107.78 L199.50,108.11 L199.48,108.44 L199.46,108.77 L199.45,109.10 L199.43,109.44 L199.41,109.77 L199.40,110.10 L199.38,110.43 L199.36,110.77 L199.34,111.10 L199.32,111.43 L199.30,111.76 L199.28,112.09 L199.26,112.43 L199.24,112.76 L199.22,113.09 L199.19,113.42 L199.17,113.75 L199.15,114.09 L199.13,114.42 L199.11,114.75 L199.10,115.08 L199.08,115.42 L199.06,115.75 L199.03,116.08 L199.01,116.41 L198.99,116.74 L198.97,117.08 L198.95,117.41 L198.93,117.74 L198.90,118.07 L198.88,118.40 L198.87,118.74 L198.85,119.07 L198.84,119.40 L198.82,119.73 L198.81,120.07 L198.81,120.40 L198.80,120.73 L198.80,121.06 L198.80,121.39 L198.80,121.73 L198.80,122.06 L198.80,122.39 L198.80,122.72 L198.80,123.05 L198.80,123.39 L198.80,123.72 L198.80,124.05 L198.80,124.38 L198.80,124.72 L198.80,125.05 L198.80,125.38 L198.80,125.71 L198.80,126.04 L198.81,126.38 L198.84,126.71 L198.88,127.04 L198.93,127.37 L199.00,127.70 L199.06,128.04 L199.14,128.37 L199.22,128.70 L199.29,129.03 L199.37,129.37 L199.44,129.70 L199.51,130.03 L199.57,130.36 L199.64,130.69 L199.71,131.03 L199.78,131.36 L199.85,131.69 L199.92,132.02 L199.99,132.36 L200.06,132.69 L200.12,133.02 L200.19,133.35 L200.25,133.68 L200.30,134.02 L200.36,134.35 L200.41,134.68 L200.46,135.01 L200.51,135.34 L200.56,135.68 L200.60,136.01 L200.65,136.34 L200.69,136.67 L200.74,137.01 L200.78,137.34 L200.82,137.67 L200.86,138.00 L200.90,138.33 L200.94,138.67 L200.98,139.00 L201.02,139.33 L201.06,139.66 L201.10,139.99 L201.14,140.33 L201.17,140.66 L201.21,140.99 L201.24,141.32 L201.27,141.66 L201.30,141.99 L201.33,142.32 L201.36,142.65 L201.39,142.98 L201.42,143.32 L201.45,143.65 L201.48,143.98 L201.52,144.31 L201.55,144.64 L201.58,144.98 L201.62,145.31 L201.66,145.64 L201.70,145.97 L201.74,146.31 L201.79,146.64 L201.84,146.97 L201.89,147.30 L201.94,147.63 L202.00,147.97 L202.06,148.30 L202.12,148.63 L202.17,148.96 L202.23,149.30 L202.29,149.63 L202.34,149.96 L202.40,150.29 L202.45,150.62 L202.49,150.96 L202.54,151.29 L202.59,151.62 L202.64,151.95 L202.69,152.28 L202.74,152.62 L202.79,152.95 L202.85,153.28 L202.90,153.61 L202.94,153.95 L202.99,154.28 L203.03,154.61 L203.07,154.94 L203.11,155.27 L203.14,155.61 L203.16,155.94 L203.18,156.27 L203.19,156.60 L203.20,156.93 L203.20,157.27 L203.19,157.60 L203.19,157.93 L203.17,158.26 L203.16,158.60 L203.14,158.93 L203.12,159.26 L203.10,159.59 L203.08,159.92 L203.05,160.26 L203.02,160.59 L203.00,160.92 L202.97,161.25 L202.94,161.58 L202.91,161.92 L202.88,162.25 L202.84,162.58 L202.79,162.91 L202.74,163.25 L202.68,163.58 L202.61,163.91 L202.55,164.24 L202.48,164.57 L202.40,164.91 L202.33,165.24 L202.25,165.57 L202.17,165.90 L202.09,166.23 L202.02,166.57 L201.94,166.90 L201.86,167.23 L201.79,167.56 L201.72,167.90 L201.65,168.23 L201.59,168.56 L201.52,168.89 L201.45,169.22 L201.39,169.56 L201.32,169.89 L201.25,170.22 L201.18,170.55 L201.12,170.89 L201.05,171.22 L200.98,171.55 L200.92,171.88 L200.85,172.21 L200.78,172.55 L200.72,172.88 L200.65,173.21 L200.58,173.54 L200.52,173.87 L200.45,174.21 L200.39,174.54 L200.32,174.87 L200.26,175.20 L200.20,175.54 L200.13,175.87 L200.07,176.20 L200.01,176.53 L199.95,176.86 L199.88,177.20 L199.82,177.53 L199.76,177.86 L199.70,178.19 L199.64,178.52 L199.58,178.86 L199.52,179.19 L199.46,179.52 L199.40,179.85 L199.34,180.19 L199.28,180.52 L199.23,180.85 L199.17,181.18 L199.12,181.51 L199.06,181.85 L199.01,182.18 L198.96,182.51 L198.91,182.84 L198.85,183.17 L198.80,183.51 L198.75,183.84 L198.70,184.17 L198.65,184.50 L198.60,184.84 L198.55,185.17 L198.50,185.50 L198.50,185.50 L198.45,185.17 L198.40,184.84 L198.35,184.50 L198.30,184.17 L198.25,183.84 L198.20,183.51 L198.15,183.17 L198.09,182.84 L198.04,182.51 L197.99,182.18 L197.94,181.85 L197.88,181.51 L197.83,181.18 L197.77,180.85 L197.72,180.52 L197.66,180.19 L197.60,179.85 L197.54,179.52 L197.48,179.19 L197.42,178.86 L197.36,178.52 L197.30,178.19 L197.24,177.86 L197.18,177.53 L197.12,177.20 L197.05,176.86 L196.99,176.53 L196.93,176.20 L196.87,175.87 L196.80,175.54 L196.74,175.20 L196.68,174.87 L196.61,174.54 L196.55,174.21 L196.48,173.87 L196.42,173.54 L196.35,173.21 L196.28,172.88 L196.22,172.55 L196.15,172.21 L196.08,171.88 L196.02,171.55 L195.95,171.22 L195.88,170.89 L195.82,170.55 L195.75,170.22 L195.68,169.89 L195.61,169.56 L195.55,169.22 L195.48,168.89 L195.41,168.56 L195.35,168.23 L195.28,167.90 L195.21,167.56 L195.14,167.23 L195.06,166.90 L194.98,166.57 L194.91,166.23 L194.83,165.90 L194.75,165.57 L194.67,165.24 L194.60,164.91 L194.52,164.57 L194.45,164.24 L194.39,163.91 L194.32,163.58 L194.26,163.25 L194.21,162.91 L194.16,162.58 L194.12,162.25 L194.09,161.92 L194.06,161.58 L194.03,161.25 L194.00,160.92 L193.98,160.59 L193.95,160.26 L193.92,159.92 L193.90,159.59 L193.88,159.26 L193.86,158.93 L193.84,158.60 L193.83,158.26 L193.81,157.93 L193.81,157.60 L193.80,157.27 L193.80,156.93 L193.81,156.60 L193.82,156.27 L193.84,155.94 L193.86,155.61 L193.89,155.27 L193.93,154.94 L193.97,154.61 L194.01,154.28 L194.06,153.95 L194.10,153.61 L194.15,153.28 L194.21,152.95 L194.26,152.62 L194.31,152.28 L194.36,151.95 L194.41,151.62 L194.46,151.29 L194.51,150.96 L194.55,150.62 L194.60,150.29 L194.66,149.96 L194.71,149.63 L194.77,149.30 L194.83,148.96 L194.88,148.63 L194.94,148.30 L195.00,147.97 L195.06,147.63 L195.11,147.30 L195.16,146.97 L195.21,146.64 L195.26,146.31 L195.30,145.97 L195.34,145.64 L195.38,145.31 L195.42,144.98 L195.45,144.64 L195.48,144.31 L195.52,143.98 L195.55,143.65 L195.58,143.32 L195.61,142.98 L195.64,142.65 L195.67,142.32 L195.70,141.99 L195.73,141.66 L195.76,141.32 L195.79,140.99 L195.83,140.66 L195.86,140.33 L195.90,139.99 L195.94,139.66 L195.98,139.33 L196.02,139.00 L196.06,138.67 L196.10,138.33 L196.14,138.00 L196.18,137.67 L196.22,137.34 L196.26,137.01 L196.31,136.67 L196.35,136.34 L196.40,136.01 L196.44,135.68 L196.49,135.34 L196.54,135.01 L196.59,134.68 L196.64,134.35 L196.70,134.02 L196.75,133.68 L196.81,133.35 L196.88,133.02 L196.94,132.69 L197.01,132.36 L197.08,132.02 L197.15,131.69 L197.22,131.36 L197.29,131.03 L197.36,130.69 L197.43,130.36 L197.49,130.03 L197.56,129.70 L197.63,129.37 L197.71,129.03 L197.78,128.70 L197.86,128.37 L197.94,128.04 L198.00,127.70 L198.07,127.37 L198.12,127.04 L198.16,126.71 L198.19,126.38 L198.20,126.04 L198.20,125.71 L198.20,125.38 L198.20,125.05 L198.20,124.72 L198.20,124.38 L198.20,124.05 L198.20,123.72 L198.20,123.39 L198.20,123.05 L198.20,122.72 L198.20,122.39 L198.20,122.06 L198.20,121.73 L198.20,121.39 L198.20,121.06 L198.20,120.73 L198.19,120.40 L198.19,120.07 L198.18,119.73 L198.16,119.40 L198.15,119.07 L198.13,118.74 L198.12,118.40 L198.10,118.07 L198.07,117.74 L198.05,117.41 L198.03,117.08 L198.01,116.74 L197.99,116.41 L197.97,116.08 L197.94,115.75 L197.92,115.42 L197.90,115.08 L197.89,114.75 L197.87,114.42 L197.85,114.09 L197.83,113.75 L197.81,113.42 L197.78,113.09 L197.76,112.76 L197.74,112.43 L197.72,112.09 L197.70,111.76 L197.68,111.43 L197.66,111.10 L197.64,110.77 L197.62,110.43 L197.60,110.10 L197.59,109.77 L197.57,109.44 L197.55,109.10 L197.54,108.77 L197.52,108.44 L197.50,108.11 L197.48,107.78 L197.47,107.44 L197.45,107.11 L197.44,106.78 L197.43,106.45 L197.42,106.11 L197.41,105.78 L197.40,105.45 L197.40,105.12 L197.40,104.79 L197.40,104.45 L197.41,104.12 L197.42,103.79 L197.43,103.46 L197.44,103.13 L197.45,102.79 L197.47,102.46 L197.48,102.13 L197.50,101.80 L197.52,101.46 L197.53,101.13 L197.55,100.80 L197.57,100.47 L197.59,100.14 L197.61,99.80 L197.64,99.47 L197.66,99.14 L197.69,98.81 L197.73,98.48 L197.76,98.14 L197.80,97.81 L197.83,97.48 L197.87,97.15 L197.91,96.81 L197.95,96.48 L197.98,96.15 L198.02,95.82 L198.05,95.49 L198.09,95.15 L198.13,94.82 L198.16,94.49 L198.20,94.16 L198.24,93.83 L198.28,93.49 L198.31,93.16 L198.35,92.83 L198.39,92.50 L198.43,92.16 L198.46,91.83 L198.50,91.50Z" fill="#f9d4a6" stroke="#333" stroke-width="0.5" stroke-linejoin="round"/>
<path d="M230.90,99.00 L230.95,99.33 L231.00,99.66 L231.05,99.99 L231.10,100.33 L231.15,100.66 L231.21,100.99 L231.26,101.32 L231.31,101.65 L231.36,101.98 L231.40,102.32 L231.45,102.65 L231.50,102.98 L231.54,103.31 L231.59,103.64 L231.63,103.97 L231.68,104.31 L231.72,104.64 L231.77,104.97 L231.81,105.30 L231.85,105.63 L231.89,105.96 L231.93,106.30 L231.96,106.63 L232.00,106.96 L232.03,107.29 L232.06,107.62 L232.09,107.95 L232.13,108.29 L232.16,108.62 L232.19,108.95 L232.22,109.28 L232.25,109.61 L232.27,109.94 L232.28,110.28 L232.30,110.61 L232.30,110.94 L232.30,111.27 L232.28,111.60 L232.26,111.93 L232.24,112.27 L232.20,112.60 L232.16,112.93 L232.12,113.26 L232.08,113.59 L232.04,113.92 L231.99,114.26 L231.95,114.59 L231.91,114.92 L231.87,115.25 L231.82,115.58 L231.77,115.91 L231.72,116.24 L231.66,116.58 L231.61,116.91 L231.56,117.24 L231.51,117.57 L231.47,117.90 L231.43,118.23 L231.41,118.57 L231.40,118.90 L231.40,119.23 L231.40,119.56 L231.41,119.89 L231.41,120.22 L231.42,120.56 L231.42,120.89 L231.43,121.22 L231.44,121.55 L231.45,121.88 L231.47,122.21 L231.48,122.55 L231.49,122.88 L231.51,123.21 L231.55,123.54 L231.59,123.87 L231.65,124.20 L231.72,124.54 L231.80,124.87 L231.88,125.20 L231.97,125.53 L232.06,125.86 L232.16,126.19 L232.28,126.53 L232.41,126.86 L232.57,127.19 L232.73,127.52 L232.90,127.85 L233.08,128.18 L233.25,128.52 L233.42,128.85 L233.59,129.18 L233.77,129.51 L233.95,129.84 L234.14,130.17 L234.34,130.51 L234.52,130.84 L234.70,131.17 L234.87,131.50 L235.03,131.83 L235.17,132.16 L235.30,132.49 L235.43,132.83 L235.56,133.16 L235.68,133.49 L235.79,133.82 L235.89,134.15 L235.98,134.48 L236.06,134.82 L236.13,135.15 L236.20,135.48 L236.26,135.81 L236.32,136.14 L236.39,136.47 L236.45,136.81 L236.50,137.14 L236.55,137.47 L236.59,137.80 L236.63,138.13 L236.66,138.46 L236.68,138.80 L236.70,139.13 L236.70,139.46 L236.70,139.79 L236.69,140.12 L236.68,140.45 L236.66,140.79 L236.65,141.12 L236.63,141.45 L236.60,141.78 L236.58,142.11 L236.55,142.44 L236.52,142.78 L236.49,143.11 L236.46,143.44 L236.42,143.77 L236.39,144.10 L236.35,144.43 L236.30,144.77 L236.24,145.10 L236.17,145.43 L236.10,145.76 L236.02,146.09 L235.93,146.42 L235.84,146.76 L235.75,147.09 L235.66,147.42 L235.56,147.75 L235.46,148.08 L235.37,148.41 L235.27,148.74 L235.18,149.08 L235.08,149.41 L234.98,149.74 L234.87,150.07 L234.76,150.40 L234.65,150.73 L234.53,151.07 L234.41,151.40 L234.29,151.73 L234.17,152.06 L234.05,152.39 L233.93,152.72 L233.82,153.06 L233.70,153.39 L233.59,153.72 L233.48,154.05 L233.38,154.38 L233.27,154.71 L233.17,155.05 L233.06,155.38 L232.96,155.71 L232.85,156.04 L232.75,156.37 L232.65,156.70 L232.55,157.04 L232.45,157.37 L232.35,157.70 L232.26,158.03 L232.17,158.36 L232.08,158.69 L231.99,159.03 L231.91,159.36 L231.83,159.69 L231.75,160.02 L231.68,160.35 L231.60,160.68 L231.53,161.02 L231.46,161.35 L231.39,161.68 L231.32,162.01 L231.25,162.34 L231.18,162.67 L231.11,163.01 L231.04,163.34 L230.97,163.67 L230.90,164.00 L230.90,164.00 L230.83,163.67 L230.76,163.34 L230.69,163.01 L230.62,162.67 L230.55,162.34 L230.48,162.01 L230.41,161.68 L230.34,161.35 L230.27,161.02 L230.20,160.68 L230.12,160.35 L230.05,160.02 L229.97,159.69 L229.89,159.36 L229.81,159.03 L229.72,158.69 L229.63,158.36 L229.54,158.03 L229.45,157.70 L229.35,157.37 L229.25,157.04 L229.15,156.70 L229.05,156.37 L228.95,156.04 L228.84,155.71 L228.74,155.38 L228.63,155.05 L228.53,154.71 L228.42,154.38 L228.32,154.05 L228.21,153.72 L228.10,153.39 L227.98,153.06 L227.87,152.72 L227.75,152.39 L227.63,152.06 L227.51,151.73 L227.39,151.40 L227.27,151.07 L227.15,150.73 L227.04,150.40 L226.93,150.07 L226.82,149.74 L226.72,149.41 L226.62,149.08 L226.53,148.74 L226.43,148.41 L226.34,148.08 L226.24,147.75 L226.14,147.42 L226.05,147.09 L225.96,146.76 L225.87,146.42 L225.78,146.09 L225.70,145.76 L225.63,145.43 L225.56,145.10 L225.50,144.77 L225.45,144.43 L225.41,144.10 L225.38,143.77 L225.34,143.44 L225.31,143.11 L225.28,142.78 L225.25,142.44 L225.22,142.11 L225.20,141.78 L225.17,141.45 L225.15,141.12 L225.14,140.79 L225.12,140.45 L225.11,140.12 L225.10,139.79 L225.10,139.46 L225.10,139.13 L225.12,138.80 L225.14,138.46 L225.17,138.13 L225.21,137.80 L225.25,137.47 L225.30,137.14 L225.35,136.81 L225.41,136.47 L225.48,136.14 L225.54,135.81 L225.60,135.48 L225.67,135.15 L225.74,134.82 L225.82,134.48 L225.91,134.15 L226.01,133.82 L226.12,133.49 L226.24,133.16 L226.37,132.83 L226.50,132.49 L226.63,132.16 L226.77,131.83 L226.93,131.50 L227.10,131.17 L227.28,130.84 L227.46,130.51 L227.66,130.17 L227.85,129.84 L228.03,129.51 L228.21,129.18 L228.38,128.85 L228.55,128.52 L228.72,128.18 L228.90,127.85 L229.07,127.52 L229.23,127.19 L229.39,126.86 L229.52,126.53 L229.64,126.19 L229.74,125.86 L229.83,125.53 L229.92,125.20 L230.00,124.87 L230.08,124.54 L230.15,124.20 L230.21,123.87 L230.25,123.54 L230.29,123.21 L230.31,122.88 L230.32,122.55 L230.33,122.21 L230.35,121.88 L230.36,121.55 L230.37,121.22 L230.38,120.89 L230.38,120.56 L230.39,120.22 L230.39,119.89 L230.40,119.56 L230.40,119.23 L230.40,118.90 L230.39,118.57 L230.37,118.23 L230.33,117.90 L230.29,117.57 L230.24,117.24 L230.19,116.91 L230.14,116.58 L230.08,116.24 L230.03,115.91 L229.98,115.58 L229.93,115.25 L229.89,114.92 L229.85,114.59 L229.81,114.26 L229.76,113.92 L229.72,113.59 L229.68,113.26 L229.64,112.93 L229.60,112.60 L229.56,112.27 L229.54,111.93 L229.52,111.60 L229.50,111.27 L229.50,110.94 L229.50,110.61 L229.52,110.28 L229.53,109.94 L229.55,109.61 L229.58,109.28 L229.61,108.95 L229.64,108.62 L229.67,108.29 L229.71,107.95 L229.74,107.62 L229.77,107.29 L229.80,106.96 L229.84,106.63 L229.87,106.30 L229.91,105.96 L229.95,105.63 L229.99,105.30 L230.03,104.97 L230.08,104.64 L230.12,104.31 L230.17,103.97 L230.21,103.64 L230.26,103.31 L230.30,102.98 L230.35,102.65 L230.40,102.32 L230.44,101.98 L230.49,101.65 L230.54,101.32 L230.59,100.99 L230.65,100.66 L230.70,100.33 L230.75,99.99 L230.80,99.66 L230.85,99.33 L230.90,99.00Z" fill="#a23f22" stroke="#333" stroke-width="0.5" stroke-linejoin="round"/>
<line x1="67.80" y1="113.50" x2="67.80" y2="159.10" stroke="#333" stroke-width="0.5"/>
<rect x="65.20" y="159.10" width="5.20" height="16.20" fill="#ffffff" stroke="#2a2a2a" stroke-width="0.6"/>
<line x1="65.20" y1="173.40" x2="70.40" y2="173.40" stroke="#2a2a2a" stroke-width="0.7"/>
<rect x="98.30" y="67.40" width="4.30" height="7.60" fill="#ffffff" stroke="#2a2a2a" stroke-width="0.6"/>
<line x1="98.30" y1="69.20" x2="102.60" y2="69.20" stroke="#2a2a2a" stroke-width="0.7"/>
<rect x="130.00" y="169.20" width="6.20" height="8.40" fill="#ffffff" stroke="#2a2a2a" stroke-width="0.6"/>
<line x1="130.00" y1="174.00" x2="136.20" y2="174.00" stroke="#2a2a2a" stroke-width="0.7"/>
<rect x="163.30" y="143.30" width="4.40" height="13.60" fill="#ffffff" stroke="#2a2a2a" stroke-width="0.6"/>
<line x1="163.30" y1="145.40" x2="167.70" y2="145.40" stroke="#2a2a2a" stroke-width="0.7"/>
<rect x="196.30" y="149.60" width="4.50" height="12.80" fill="#ffffff" stroke="#2a2a2a" stroke-width="0.6"/>
<line x1="196.30" y1="156.00" x2="200.80" y2="156.00" stroke="#2a2a2a" stroke-width="0.7"/>
<rect x="228.70" y="135.30" width="4.60" height="15.20" fill="#ffffff" stroke="#2a2a2a" stroke-width="0.6"/>
<line x1="228.70" y1="137.80" x2="233.30" y2="137.80" stroke="#2a2a2a" stroke-width="0.7"/>
<circle cx="67.60" cy="129.50" r="1.05" fill="#333" fill-opacity="0.85"/>
<circle cx="66.90" cy="137.80" r="1.05" fill="#333" fill-opacity="0.85"/>
<circle cx="68.60" cy="157.40" r="1.05" fill="#333" fill-opacity="0.85"/>
<circle cx="70.40" cy="165.20" r="1.05" fill="#333" fill-opacity="0.85"/>
<circle cx="66.50" cy="172.50" r="1.05" fill="#333" fill-opacity="0.85"/>
<circle cx="68.20" cy="173.30" r="1.05" fill="#333" fill-opacity="0.85"/>
<circle cx="69.50" cy="172.90" r="1.05" fill="#333" fill-opacity="0.85"/>
<circle cx="67.20" cy="171.80" r="1.05" fill="#333" fill-opacity="0.85"/>
<circle cx="70.00" cy="175.20" r="1.05" fill="#333" fill-opacity="0.85"/>
<circle cx="103.50" cy="50.40" r="1.05" fill="#333" fill-opacity="0.85"/>
<circle cx="99.90" cy="56.00" r="1.05" fill="#333" fill-opacity="0.85"/>
<circle cx="101.00" cy="82.00" r="1.05" fill="#333" fill-opacity="0.85"/>
<circle cx="100.20" cy="69.60" r="1.05" fill="#333" fill-opacity="0.85"/>
<circle cx="101.50" cy="71.20" r="1.05" fill="#333" fill-opacity="0.85"/>
<circle cx="99.40" cy="72.20" r="1.05" fill="#333" fill-opacity="0.85"/>
<circle cx="97.70" cy="148.00" r="1.05" fill="#333" fill-opacity="0.85"/>
<circle cx="130.20" cy="118.60" r="1.05" fill="#333" fill-opacity="0.85"/>
<circle cx="133.00" cy="154.70" r="1.05" fill="#333" fill-opacity="0.85"/>
<circle cx="131.20" cy="172.60" r="1.05" fill="#333" fill-opacity="0.85"/>
<circle cx="135.20" cy="171.20" r="1.05" fill="#333" fill-opacity="0.85"/>
<circle cx="134.50" cy="175.60" r="1.05" fill="#333" fill-opacity="0.85"/>
<circle cx="131.50" cy="176.20" r="1.05" fill="#333" fill-opacity="0.85"/>
<circle cx="133.00" cy="174.20" r="1.05" fill="#333" fill-opacity="0.85"/>
<circle cx="131.00" cy="174.80" r="1.05" fill="#333" fill-opacity="0.85"/>
<circle cx="135.40" cy="173.60" r="1.05" fill="#333" fill-opacity="0.85"/>
<circle cx="134.20" cy="177.20" r="1.05" fill="#333" fill-opacity="0.85"/>
<circle cx="131.90" cy="171.00" r="1.05" fill="#333" fill-opacity="0.85"/>
<circle cx="133.90" cy="170.40" r="1.05" fill="#333" fill-opacity="0.85"/>
<circle cx="167.70" cy="53.90" r="1.05" fill="#333" fill-opacity="0.85"/>
<circle cx="164.20" cy="143.80" r="1.05" fill="#333" fill-opacity="0.85"/>
<circle cx="166.80" cy="144.50" r="1.05" fill="#333" fill-opacity="0.85"/>
<circle cx="165.50" cy="145.40" r="1.05" fill="#333" fill-opacity="0.85"/>
<circle cx="164.00" cy="154.50" r="1.05" fill="#333" fill-opacity="0.85"/>
<circle cx="166.90" cy="155.50" r="1.05" fill="#333" fill-opacity="0.85"/>
<circle cx="165.20" cy="156.60" r="1.05" fill="#333" fill-opacity="0.85"/>
<circle cx="163.30" cy="162.20" r="1.05" fill="#333" fill-opacity="0.85"/>
<circle cx="164.40" cy="152.60" r="1.05" fill="#333" fill-opacity="0.85"/>
<circle cx="201.70" cy="109.40" r="1.05" fill="#333" fill-opacity="0.85"/>
<circle cx="196.60" cy="141.20" r="1.05" fill="#333" fill-opacity="0.85"/>
<circle cx="197.20" cy="150.30" r="1.05" fill="#333" fill-opacity="0.85"/>
<circle cx="200.50" cy="152.50" r="1.05" fill="#333" fill-opacity="0.85"/>
<circle cx="196.80" cy="156.20" r="1.05" fill="#333" fill-opacity="0.85"/>
<circle cx="199.90" cy="160.80" r="1.05" fill="#333" fill-opacity="0.85"/>
<circle cx="197.30" cy="163.60" r="1.05" fill="#333" fill-opacity="0.85"/>
<circle cx="200.00" cy="157.00" r="1.05" fill="#333" fill-opacity="0.85"/>
<circle cx="230.50" cy="113.50" r="1.05" fill="#333" fill-opacity="0.85"/>
<circle cx="229.80" cy="136.00" r="1.05" fill="#333" fill-opacity="0.85"/>
<circle cx="233.40" cy="135.40" r="1.05" fill="#333" fill-opacity="0.85"/>
<circle cx="231.20" cy="142.20" r="1.05" fill="#333" fill-opacity="0.85"/>
<circle cx="229.80" cy="147.00" r="1.05" fill="#333" fill-opacity="0.85"/>
<circle cx="232.80" cy="146.20" r="1.05" fill="#333" fill-opacity="0.85"/>
<circle cx="230.40" cy="150.60" r="1.05" fill="#333" fill-opacity="0.85"/>
<circle cx="232.60" cy="139.50" r="1.05" fill="#333" fill-opacity="0.85"/>
<line x1="99.80" y1="24.60" x2="230.80" y2="24.60" stroke="#b4b4b4" stroke-width="1.5"/>
<line x1="99.80" y1="38.00" x2="166.00" y2="38.00" stroke="#b4b4b4" stroke-width="1.5"/>
<line x1="67.40" y1="88.30" x2="198.70" y2="88.30" stroke="#a8a8a8" stroke-width="0.9"/>
<line x1="67.40" y1="105.40" x2="134.10" y2="105.40" stroke="#a8a8a8" stroke-width="0.9"/>
<text x="118.30" y="21.60" font-size="8.6" textLength="83.50" lengthAdjust="spacingAndGlyphs" fill="#3c3c3c">OR = 1.14, <tspan font-style="italic">P</tspan> = 0.00049</text>
<text x="100.60" y="35.30" font-size="8.6" textLength="77.60" lengthAdjust="spacingAndGlyphs" fill="#3c3c3c">OR = 1.15, <tspan font-style="italic">P</tspan> = 0.0029</text>
<text x="109.10" y="85.10" font-size="8.6" textLength="74.70" lengthAdjust="spacingAndGlyphs" fill="#3c3c3c">OR = 0.97, <tspan font-style="italic">P</tspan> = 0.052</text>
<text x="69.50" y="102.70" font-size="8.6" textLength="67.80" lengthAdjust="spacingAndGlyphs" fill="#3c3c3c">OR = 1.01, <tspan font-style="italic">P</tspan> = 0.35</text>
<text x="266.90" y="105.00" font-size="8.6" textLength="31.60" lengthAdjust="spacingAndGlyphs" fill="#363636">Method</text>
<rect x="270.30" y="110.00" width="7.40" height="6.60" fill="#f9d4a6" stroke="#333" stroke-width="0.6"/>
<circle cx="274.00" cy="113.30" r="0.80" fill="#555"/>
<rect x="270.30" y="121.20" width="7.40" height="6.60" fill="#a23f22" stroke="#333" stroke-width="0.6"/>
<circle cx="274.00" cy="124.50" r="0.80" fill="#555"/>
<text x="281.30" y="115.90" font-size="8.6" textLength="34.10" lengthAdjust="spacingAndGlyphs" fill="#363636">Average</text>
<text x="281.30" y="127.10" font-size="8.6" textLength="28.90" lengthAdjust="spacingAndGlyphs" fill="#363636">Cosine</text>
<text x="0.20" y="7.80" font-size="12" font-weight="bold" fill="#111">a</text>
<line x1="383.00" y1="19.30" x2="636.20" y2="19.30" stroke="#ececec" stroke-width="0.8"/>
<line x1="383.00" y1="46.70" x2="636.20" y2="46.70" stroke="#ececec" stroke-width="0.8"/>
<line x1="383.00" y1="74.20" x2="636.20" y2="74.20" stroke="#ececec" stroke-width="0.8"/>
<line x1="383.00" y1="101.60" x2="636.20" y2="101.60" stroke="#ececec" stroke-width="0.8"/>
<line x1="383.00" y1="129.00" x2="636.20" y2="129.00" stroke="#ececec" stroke-width="0.8"/>
<line x1="383.00" y1="156.40" x2="636.20" y2="156.40" stroke="#ececec" stroke-width="0.8"/>
<line x1="400.30" y1="3.00" x2="400.30" y2="173.10" stroke="#ececec" stroke-width="0.8"/>
<line x1="436.00" y1="3.00" x2="436.00" y2="173.10" stroke="#ececec" stroke-width="0.8"/>
<line x1="471.80" y1="3.00" x2="471.80" y2="173.10" stroke="#ececec" stroke-width="0.8"/>
<line x1="507.50" y1="3.00" x2="507.50" y2="173.10" stroke="#ececec" stroke-width="0.8"/>
<line x1="543.30" y1="3.00" x2="543.30" y2="173.10" stroke="#ececec" stroke-width="0.8"/>
<line x1="579.00" y1="3.00" x2="579.00" y2="173.10" stroke="#ececec" stroke-width="0.8"/>
<line x1="614.60" y1="3.00" x2="614.60" y2="173.10" stroke="#ececec" stroke-width="0.8"/>
<rect x="372.60" y="10.40" width="9.40" height="46.60" fill="#e9d4e9" stroke="#555" stroke-width="0.6"/>
<rect x="372.60" y="63.70" width="9.40" height="46.60" fill="#d3a69f" stroke="#555" stroke-width="0.6"/>
<rect x="372.60" y="118.20" width="9.40" height="46.60" fill="#b2617b" stroke="#555" stroke-width="0.6"/>
<path d="M365.1,14.70 L369.4,22.70 L360.8,22.70 Z" fill="#5aa9b0"/>
<circle cx="365.10" cy="46.70" r="4.10" fill="#b34bb0"/>
<path d="M365.1,69.60 L369.4,77.60 L360.8,77.60 Z" fill="#5aa9b0"/>
<circle cx="365.10" cy="101.60" r="4.10" fill="#b34bb0"/>
<path d="M365.1,124.40 L369.4,132.40 L360.8,132.40 Z" fill="#5aa9b0"/>
<circle cx="365.10" cy="156.40" r="4.10" fill="#b34bb0"/>
<text x="355.00" y="30.80" font-size="8.6" text-anchor="middle" textLength="34.20" lengthAdjust="spacingAndGlyphs" fill="#363636" transform="rotate(-90 355.00 30.80)">XGBoost</text>
<text x="355.00" y="85.00" font-size="8.6" text-anchor="middle" textLength="33.50" lengthAdjust="spacingAndGlyphs" fill="#363636" transform="rotate(-90 355.00 85.00)">GLMNET</text>
<text x="355.00" y="145.20" font-size="8.6" text-anchor="middle" textLength="59.40" lengthAdjust="spacingAndGlyphs" fill="#363636" transform="rotate(-90 355.00 145.20)">scMORE (GLM)</text>
<circle cx="400.30" cy="19.30" r="5.90" fill="#f3a191"/>
<polygon points="398.20,17.60 398.68,18.74 399.91,18.84 398.97,19.65 399.26,20.86 398.20,20.21 397.14,20.86 397.43,19.65 396.49,18.84 397.72,18.74" fill="#3a2a28"/>
<polygon points="402.40,17.60 402.88,18.74 404.11,18.84 403.17,19.65 403.46,20.86 402.40,20.21 401.34,20.86 401.63,19.65 400.69,18.84 401.92,18.74" fill="#3a2a28"/>
<circle cx="436.00" cy="19.30" r="6.20" fill="#f3a191"/>
<polygon points="433.90,17.60 434.38,18.74 435.61,18.84 434.67,19.65 434.96,20.86 433.90,20.21 432.84,20.86 433.13,19.65 432.19,18.84 433.42,18.74" fill="#3a2a28"/>
<polygon points="438.10,17.60 438.58,18.74 439.81,18.84 438.87,19.65 439.16,20.86 438.10,20.21 437.04,20.86 437.33,19.65 436.39,18.84 437.62,18.74" fill="#3a2a28"/>
<circle cx="471.80" cy="19.30" r="5.10" fill="#f3a191"/>
<polygon points="469.70,17.60 470.18,18.74 471.41,18.84 470.47,19.65 470.76,20.86 469.70,20.21 468.64,20.86 468.93,19.65 467.99,18.84 469.22,18.74" fill="#3a2a28"/>
<polygon points="473.90,17.60 474.38,18.74 475.61,18.84 474.67,19.65 474.96,20.86 473.90,20.21 472.84,20.86 473.13,19.65 472.19,18.84 473.42,18.74" fill="#3a2a28"/>
<circle cx="507.50" cy="19.30" r="5.50" fill="#f3a191"/>
<polygon points="505.40,17.60 505.88,18.74 507.11,18.84 506.17,19.65 506.46,20.86 505.40,20.21 504.34,20.86 504.63,19.65 503.69,18.84 504.92,18.74" fill="#3a2a28"/>
<polygon points="509.60,17.60 510.08,18.74 511.31,18.84 510.37,19.65 510.66,20.86 509.60,20.21 508.54,20.86 508.83,19.65 507.89,18.84 509.12,18.74" fill="#3a2a28"/>
<circle cx="543.30" cy="19.30" r="5.90" fill="#f3a191"/>
<polygon points="541.20,17.60 541.68,18.74 542.91,18.84 541.97,19.65 542.26,20.86 541.20,20.21 540.14,20.86 540.43,19.65 539.49,18.84 540.72,18.74" fill="#3a2a28"/>
<polygon points="545.40,17.60 545.88,18.74 547.11,18.84 546.17,19.65 546.46,20.86 545.40,20.21 544.34,20.86 544.63,19.65 543.69,18.84 544.92,18.74" fill="#3a2a28"/>
<circle cx="579.00" cy="19.30" r="5.10" fill="#f3a191"/>
<polygon points="576.90,17.60 577.38,18.74 578.61,18.84 577.67,19.65 577.96,20.86 576.90,20.21 575.84,20.86 576.13,19.65 575.19,18.84 576.42,18.74" fill="#3a2a28"/>
<polygon points="581.10,17.60 581.58,18.74 582.81,18.84 581.87,19.65 582.16,20.86 581.10,20.21 580.04,20.86 580.33,19.65 579.39,18.84 580.62,18.74" fill="#3a2a28"/>
<circle cx="614.60" cy="19.30" r="4.80" fill="#f3a191"/>
<text x="614.60" y="21.80" font-size="7.2" text-anchor="middle" font-style="italic" fill="#3a2a28">#</text>
<circle cx="400.30" cy="46.70" r="6.20" fill="#f3a191"/>
<polygon points="398.20,45.00 398.68,46.14 399.91,46.24 398.97,47.05 399.26,48.26 398.20,47.61 397.14,48.26 397.43,47.05 396.49,46.24 397.72,46.14" fill="#3a2a28"/>
<polygon points="402.40,45.00 402.88,46.14 404.11,46.24 403.17,47.05 403.46,48.26 402.40,47.61 401.34,48.26 401.63,47.05 400.69,46.24 401.92,46.14" fill="#3a2a28"/>
<circle cx="436.00" cy="46.70" r="5.90" fill="#f3a191"/>
<polygon points="433.90,45.00 434.38,46.14 435.61,46.24 434.67,47.05 434.96,48.26 433.90,47.61 432.84,48.26 433.13,47.05 432.19,46.24 433.42,46.14" fill="#3a2a28"/>
<polygon points="438.10,45.00 438.58,46.14 439.81,46.24 438.87,47.05 439.16,48.26 438.10,47.61 437.04,48.26 437.33,47.05 436.39,46.24 437.62,46.14" fill="#3a2a28"/>
<circle cx="471.80" cy="46.70" r="5.10" fill="#f3a191"/>
<polygon points="469.70,45.00 470.18,46.14 471.41,46.24 470.47,47.05 470.76,48.26 469.70,47.61 468.64,48.26 468.93,47.05 467.99,46.24 469.22,46.14" fill="#3a2a28"/>
<polygon points="473.90,45.00 474.38,46.14 475.61,46.24 474.67,47.05 474.96,48.26 473.90,47.61 472.84,48.26 473.13,47.05 472.19,46.24 473.42,46.14" fill="#3a2a28"/>
<circle cx="507.50" cy="46.70" r="5.90" fill="#f3a191"/>
<polygon points="505.40,45.00 505.88,46.14 507.11,46.24 506.17,47.05 506.46,48.26 505.40,47.61 504.34,48.26 504.63,47.05 503.69,46.24 504.92,46.14" fill="#3a2a28"/>
<polygon points="509.60,45.00 510.08,46.14 511.31,46.24 510.37,47.05 510.66,48.26 509.60,47.61 508.54,48.26 508.83,47.05 507.89,46.24 509.12,46.14" fill="#3a2a28"/>
<circle cx="543.30" cy="46.70" r="5.50" fill="#f3a191"/>
<polygon points="541.20,45.00 541.68,46.14 542.91,46.24 541.97,47.05 542.26,48.26 541.20,47.61 540.14,48.26 540.43,47.05 539.49,46.24 540.72,46.14" fill="#3a2a28"/>
<polygon points="545.40,45.00 545.88,46.14 547.11,46.24 546.17,47.05 546.46,48.26 545.40,47.61 544.34,48.26 544.63,47.05 543.69,46.24 544.92,46.14" fill="#3a2a28"/>
<circle cx="579.00" cy="46.70" r="5.10" fill="#f3a191"/>
<polygon points="576.90,45.00 577.38,46.14 578.61,46.24 577.67,47.05 577.96,48.26 576.90,47.61 575.84,48.26 576.13,47.05 575.19,46.24 576.42,46.14" fill="#3a2a28"/>
<polygon points="581.10,45.00 581.58,46.14 582.81,46.24 581.87,47.05 582.16,48.26 581.10,47.61 580.04,48.26 580.33,47.05 579.39,46.24 580.62,46.14" fill="#3a2a28"/>
<circle cx="614.60" cy="46.70" r="4.80" fill="#f3a191"/>
<polygon points="612.50,45.00 612.98,46.14 614.21,46.24 613.27,47.05 613.56,48.26 612.50,47.61 611.44,48.26 611.73,47.05 610.79,46.24 612.02,46.14" fill="#3a2a28"/>
<polygon points="616.70,45.00 617.18,46.14 618.41,46.24 617.47,47.05 617.76,48.26 616.70,47.61 615.64,48.26 615.93,47.05 614.99,46.24 616.22,46.14" fill="#3a2a28"/>
<circle cx="400.30" cy="74.20" r="4.00" fill="#f3a191"/>
<polygon points="400.30,72.50 400.78,73.64 402.01,73.74 401.07,74.55 401.36,75.76 400.30,75.11 399.24,75.76 399.53,74.55 398.59,73.74 399.82,73.64" fill="#3a2a28"/>
<circle cx="436.00" cy="74.20" r="4.40" fill="#f3a191"/>
<polygon points="433.90,72.50 434.38,73.64 435.61,73.74 434.67,74.55 434.96,75.76 433.90,75.11 432.84,75.76 433.13,74.55 432.19,73.74 433.42,73.64" fill="#3a2a28"/>
<polygon points="438.10,72.50 438.58,73.64 439.81,73.74 438.87,74.55 439.16,75.76 438.10,75.11 437.04,75.76 437.33,74.55 436.39,73.74 437.62,73.64" fill="#3a2a28"/>
<circle cx="471.80" cy="74.20" r="4.80" fill="#f3a191"/>
<polygon points="469.70,72.50 470.18,73.64 471.41,73.74 470.47,74.55 470.76,75.76 469.70,75.11 468.64,75.76 468.93,74.55 467.99,73.74 469.22,73.64" fill="#3a2a28"/>
<polygon points="473.90,72.50 474.38,73.64 475.61,73.74 474.67,74.55 474.96,75.76 473.90,75.11 472.84,75.76 473.13,74.55 472.19,73.74 473.42,73.64" fill="#3a2a28"/>
<circle cx="507.50" cy="74.20" r="3.70" fill="#f3a191"/>
<circle cx="543.30" cy="74.20" r="5.20" fill="#f3a191"/>
<circle cx="579.00" cy="74.20" r="2.20" fill="#f3a191"/>
<circle cx="614.60" cy="74.20" r="5.50" fill="#f3a191"/>
<polygon points="612.50,72.50 612.98,73.64 614.21,73.74 613.27,74.55 613.56,75.76 612.50,75.11 611.44,75.76 611.73,74.55 610.79,73.74 612.02,73.64" fill="#3a2a28"/>
<polygon points="616.70,72.50 617.18,73.64 618.41,73.74 617.47,74.55 617.76,75.76 616.70,75.11 615.64,75.76 615.93,74.55 614.99,73.74 616.22,73.64" fill="#3a2a28"/>
<circle cx="400.30" cy="101.60" r="4.00" fill="#f3a191"/>
<polygon points="400.30,99.90 400.78,101.04 402.01,101.14 401.07,101.95 401.36,103.16 400.30,102.51 399.24,103.16 399.53,101.95 398.59,101.14 399.82,101.04" fill="#3a2a28"/>
<circle cx="436.00" cy="101.60" r="4.40" fill="#f3a191"/>
<polygon points="433.90,99.90 434.38,101.04 435.61,101.14 434.67,101.95 434.96,103.16 433.90,102.51 432.84,103.16 433.13,101.95 432.19,101.14 433.42,101.04" fill="#3a2a28"/>
<polygon points="438.10,99.90 438.58,101.04 439.81,101.14 438.87,101.95 439.16,103.16 438.10,102.51 437.04,103.16 437.33,101.95 436.39,101.14 437.62,101.04" fill="#3a2a28"/>
<circle cx="471.80" cy="101.60" r="4.80" fill="#f3a191"/>
<polygon points="469.70,99.90 470.18,101.04 471.41,101.14 470.47,101.95 470.76,103.16 469.70,102.51 468.64,103.16 468.93,101.95 467.99,101.14 469.22,101.04" fill="#3a2a28"/>
<polygon points="473.90,99.90 474.38,101.04 475.61,101.14 474.67,101.95 474.96,103.16 473.90,102.51 472.84,103.16 473.13,101.95 472.19,101.14 473.42,101.04" fill="#3a2a28"/>
<circle cx="507.50" cy="101.60" r="3.70" fill="#f3a191"/>
<polygon points="507.50,99.90 507.98,101.04 509.21,101.14 508.27,101.95 508.56,103.16 507.50,102.51 506.44,103.16 506.73,101.95 505.79,101.14 507.02,101.04" fill="#3a2a28"/>
<circle cx="543.30" cy="101.60" r="5.30" fill="#f3a191"/>
<circle cx="579.00" cy="101.60" r="1.40" fill="#f3a191"/>
<circle cx="614.60" cy="101.60" r="5.50" fill="#f3a191"/>
<polygon points="612.50,99.90 612.98,101.04 614.21,101.14 613.27,101.95 613.56,103.16 612.50,102.51 611.44,103.16 611.73,101.95 610.79,101.14 612.02,101.04" fill="#3a2a28"/>
<polygon points="616.70,99.90 617.18,101.04 618.41,101.14 617.47,101.95 617.76,103.16 616.70,102.51 615.64,103.16 615.93,101.95 614.99,101.14 616.22,101.04" fill="#3a2a28"/>
<circle cx="400.30" cy="129.00" r="4.40" fill="#f3a191"/>
<polygon points="400.30,127.30 400.78,128.44 402.01,128.54 401.07,129.35 401.36,130.56 400.30,129.91 399.24,130.56 399.53,129.35 398.59,128.54 399.82,128.44" fill="#3a2a28"/>
<circle cx="436.00" cy="129.00" r="5.10" fill="#f3a191"/>
<polygon points="433.90,127.30 434.38,128.44 435.61,128.54 434.67,129.35 434.96,130.56 433.90,129.91 432.84,130.56 433.13,129.35 432.19,128.54 433.42,128.44" fill="#3a2a28"/>
<polygon points="438.10,127.30 438.58,128.44 439.81,128.54 438.87,129.35 439.16,130.56 438.10,129.91 437.04,130.56 437.33,129.35 436.39,128.54 437.62,128.44" fill="#3a2a28"/>
<circle cx="471.80" cy="129.00" r="4.80" fill="#f3a191"/>
<polygon points="469.70,127.30 470.18,128.44 471.41,128.54 470.47,129.35 470.76,130.56 469.70,129.91 468.64,130.56 468.93,129.35 467.99,128.54 469.22,128.44" fill="#3a2a28"/>
<polygon points="473.90,127.30 474.38,128.44 475.61,128.54 474.67,129.35 474.96,130.56 473.90,129.91 472.84,130.56 473.13,129.35 472.19,128.54 473.42,128.44" fill="#3a2a28"/>
<circle cx="507.50" cy="129.00" r="4.40" fill="#f3a191"/>
<polygon points="507.50,127.30 507.98,128.44 509.21,128.54 508.27,129.35 508.56,130.56 507.50,129.91 506.44,130.56 506.73,129.35 505.79,128.54 507.02,128.44" fill="#3a2a28"/>
<circle cx="543.30" cy="129.00" r="4.80" fill="#f3a191"/>
<polygon points="541.20,127.30 541.68,128.44 542.91,128.54 541.97,129.35 542.26,130.56 541.20,129.91 540.14,130.56 540.43,129.35 539.49,128.54 540.72,128.44" fill="#3a2a28"/>
<polygon points="545.40,127.30 545.88,128.44 547.11,128.54 546.17,129.35 546.46,130.56 545.40,129.91 544.34,130.56 544.63,129.35 543.69,128.54 544.92,128.44" fill="#3a2a28"/>
<circle cx="579.00" cy="129.00" r="4.80" fill="#f3a191"/>
<polygon points="576.90,127.30 577.38,128.44 578.61,128.54 577.67,129.35 577.96,130.56 576.90,129.91 575.84,130.56 576.13,129.35 575.19,128.54 576.42,128.44" fill="#3a2a28"/>
<polygon points="581.10,127.30 581.58,128.44 582.81,128.54 581.87,129.35 582.16,130.56 581.10,129.91 580.04,130.56 580.33,129.35 579.39,128.54 580.62,128.44" fill="#3a2a28"/>
<circle cx="614.60" cy="129.00" r="4.00" fill="#f3a191"/>
<circle cx="400.30" cy="156.40" r="4.40" fill="#f3a191"/>
<text x="400.30" y="158.90" font-size="7.2" text-anchor="middle" font-style="italic" fill="#3a2a28">#</text>
<circle cx="436.00" cy="156.40" r="4.80" fill="#f3a191"/>
<polygon points="433.90,154.70 434.38,155.84 435.61,155.94 434.67,156.75 434.96,157.96 433.90,157.31 432.84,157.96 433.13,156.75 432.19,155.94 433.42,155.84" fill="#3a2a28"/>
<polygon points="438.10,154.70 438.58,155.84 439.81,155.94 438.87,156.75 439.16,157.96 438.10,157.31 437.04,157.96 437.33,156.75 436.39,155.94 437.62,155.84" fill="#3a2a28"/>
<circle cx="471.80" cy="156.40" r="4.40" fill="#f3a191"/>
<text x="471.80" y="158.90" font-size="7.2" text-anchor="middle" font-style="italic" fill="#3a2a28">#</text>
<circle cx="507.50" cy="156.40" r="4.40" fill="#f3a191"/>
<polygon points="505.40,154.70 505.88,155.84 507.11,155.94 506.17,156.75 506.46,157.96 505.40,157.31 504.34,157.96 504.63,156.75 503.69,155.94 504.92,155.84" fill="#3a2a28"/>
<polygon points="509.60,154.70 510.08,155.84 511.31,155.94 510.37,156.75 510.66,157.96 509.60,157.31 508.54,157.96 508.83,156.75 507.89,155.94 509.12,155.84" fill="#3a2a28"/>
<circle cx="543.30" cy="156.40" r="4.40" fill="#f3a191"/>
<text x="543.30" y="158.90" font-size="7.2" text-anchor="middle" font-style="italic" fill="#3a2a28">#</text>
<circle cx="579.00" cy="156.40" r="4.80" fill="#f3a191"/>
<polygon points="576.90,154.70 577.38,155.84 578.61,155.94 577.67,156.75 577.96,157.96 576.90,157.31 575.84,157.96 576.13,156.75 575.19,155.94 576.42,155.84" fill="#3a2a28"/>
<polygon points="581.10,154.70 581.58,155.84 582.81,155.94 581.87,156.75 582.16,157.96 581.10,157.31 580.04,157.96 580.33,156.75 579.39,155.94 580.62,155.84" fill="#3a2a28"/>
<circle cx="614.60" cy="156.40" r="4.40" fill="#f3a191"/>
<polygon points="612.50,154.70 612.98,155.84 614.21,155.94 613.27,156.75 613.56,157.96 612.50,157.31 611.44,157.96 611.73,156.75 610.79,155.94 612.02,155.84" fill="#3a2a28"/>
<polygon points="616.70,154.70 617.18,155.84 618.41,155.94 617.47,156.75 617.76,157.96 616.70,157.31 615.64,157.96 615.93,156.75 614.99,155.94 616.22,155.84" fill="#3a2a28"/>
<text x="404.70" y="182.60" font-size="8.0" text-anchor="end" fill="#363636" transform="rotate(-45 404.70 182.60)">ETS1</text>
<text x="440.40" y="182.60" font-size="8.0" text-anchor="end" fill="#363636" transform="rotate(-45 440.40 182.60)">FOXO1</text>
<text x="476.20" y="182.60" font-size="8.0" text-anchor="end" fill="#363636" transform="rotate(-45 476.20 182.60)">FOXP1</text>
<text x="511.90" y="182.60" font-size="8.0" text-anchor="end" fill="#363636" transform="rotate(-45 511.90 182.60)">IKZF1</text>
<text x="547.70" y="182.60" font-size="8.0" text-anchor="end" fill="#363636" transform="rotate(-45 547.70 182.60)">LEF1</text>
<text x="583.40" y="182.60" font-size="8.0" text-anchor="end" fill="#363636" transform="rotate(-45 583.40 182.60)">ZEB1</text>
<text x="619.00" y="182.60" font-size="8.0" text-anchor="end" fill="#363636" transform="rotate(-45 619.00 182.60)">ZNF721</text>
<polygon points="377.50,210.70 378.06,212.04 379.50,212.15 378.40,213.09 378.73,214.50 377.50,213.75 376.27,214.50 376.60,213.09 375.50,212.15 376.94,212.04" fill="#222"/>
<polygon points="382.10,210.70 382.66,212.04 384.10,212.15 383.00,213.09 383.33,214.50 382.10,213.75 380.87,214.50 381.20,213.09 380.10,212.15 381.54,212.04" fill="#222"/>
<text x="387.60" y="215.30" font-size="7.1" textLength="135.40" lengthAdjust="spacingAndGlyphs" fill="#363636">P<tspan font-size="4.6" dy="1.3">CTS</tspan><tspan dy="-1.3"> &lt; 0.05, </tspan>P<tspan font-size="4.6" dy="1.3">GRS</tspan><tspan dy="-1.3"> &lt; 0.05, and </tspan>P<tspan font-size="4.6" dy="1.3">TRS</tspan><tspan dy="-1.3"> &lt; 0.01</tspan></text>
<polygon points="379.90,221.80 380.46,223.14 381.90,223.25 380.80,224.19 381.13,225.60 379.90,224.84 378.67,225.60 379.00,224.19 377.90,223.25 379.34,223.14" fill="#222"/>
<text x="387.60" y="226.40" font-size="7.1" textLength="137.10" lengthAdjust="spacingAndGlyphs" fill="#363636">P<tspan font-size="4.6" dy="1.3">CTS</tspan><tspan dy="-1.3"> &lt; 0.05, </tspan>P<tspan font-size="4.6" dy="1.3">GRS</tspan><tspan dy="-1.3"> &lt; 0.05, and </tspan>P<tspan font-size="4.6" dy="1.3">TRS</tspan><tspan dy="-1.3"> &lt; 0.05</tspan></text>
<text x="379.90" y="235.40" font-size="7.6" text-anchor="middle" font-style="italic" fill="#363636">#</text>
<text x="387.60" y="235.10" font-size="7.1" textLength="130.80" lengthAdjust="spacingAndGlyphs" fill="#363636">P<tspan font-size="4.6" dy="1.3">CTS</tspan><tspan dy="-1.3"> &lt; 0.05, </tspan>P<tspan font-size="4.6" dy="1.3">GRS</tspan><tspan dy="-1.3"> &lt; 0.1, and </tspan>P<tspan font-size="4.6" dy="1.3">TRS</tspan><tspan dy="-1.3"> &lt; 0.05</tspan></text>
<path d="M548.1,209.8 L551.0,215.6 L545.2,215.6 Z" fill="#5aa9b0"/>
<circle cx="548.00" cy="223.90" r="2.90" fill="#b34bb0"/>
<text x="555.70" y="214.60" font-size="7.6" textLength="70.30" lengthAdjust="spacingAndGlyphs" fill="#363636">Lymphocyte percent</text>
<text x="555.70" y="225.80" font-size="7.6" textLength="63.40" lengthAdjust="spacingAndGlyphs" fill="#363636">Lymphocyte count</text>
<text x="541.60" y="244.50" font-size="7.2" textLength="10.10" lengthAdjust="spacingAndGlyphs" fill="#363636">1.0</text>
<text x="554.90" y="244.50" font-size="7.2" textLength="8.80" lengthAdjust="spacingAndGlyphs" fill="#363636">1.5</text>
<text x="566.90" y="244.50" font-size="7.2" textLength="11.30" lengthAdjust="spacingAndGlyphs" fill="#363636">2.0</text>
<text x="579.80" y="244.50" font-size="7.2" textLength="10.40" lengthAdjust="spacingAndGlyphs" fill="#363636">2.5</text>
<text x="592.60" y="244.50" font-size="7.2" textLength="11.30" lengthAdjust="spacingAndGlyphs" fill="#363636">3.0</text>
<text x="606.30" y="244.50" font-size="7.2" textLength="11.20" lengthAdjust="spacingAndGlyphs" fill="#363636">3.5</text>
<circle cx="547.70" cy="254.10" r="2.25" fill="#f3a191"/>
<circle cx="560.50" cy="254.10" r="3.50" fill="#f3a191"/>
<circle cx="573.40" cy="254.10" r="4.20" fill="#f3a191"/>
<circle cx="586.20" cy="254.10" r="4.70" fill="#f3a191"/>
<circle cx="599.40" cy="254.10" r="5.10" fill="#f3a191"/>
<circle cx="612.20" cy="254.10" r="5.60" fill="#f3a191"/>
<text x="619.60" y="255.70" font-size="7.2" textLength="12.40" lengthAdjust="spacingAndGlyphs" fill="#363636">TRS</text>
<text x="343.80" y="8.90" font-size="12" font-weight="bold" fill="#111">b</text>
<line x1="25.50" y1="268.90" x2="25.50" y2="403.30" stroke="#9a9a9a" stroke-width="0.9"/>
<line x1="25.50" y1="403.30" x2="163.80" y2="403.30" stroke="#9a9a9a" stroke-width="0.9"/>
<line x1="22.20" y1="274.90" x2="25.50" y2="274.90" stroke="#9a9a9a" stroke-width="0.9"/>
<text x="19.30" y="277.70" font-size="7.9" text-anchor="end" fill="#444">6</text>
<line x1="22.20" y1="301.30" x2="25.50" y2="301.30" stroke="#9a9a9a" stroke-width="0.9"/>
<text x="19.30" y="304.10" font-size="7.9" text-anchor="end" fill="#444">4</text>
<line x1="22.20" y1="327.70" x2="25.50" y2="327.70" stroke="#9a9a9a" stroke-width="0.9"/>
<text x="19.30" y="330.50" font-size="7.9" text-anchor="end" fill="#444">2</text>
<line x1="22.20" y1="354.10" x2="25.50" y2="354.10" stroke="#9a9a9a" stroke-width="0.9"/>
<text x="19.30" y="356.90" font-size="7.9" text-anchor="end" fill="#444">0</text>
<line x1="22.20" y1="380.50" x2="25.50" y2="380.50" stroke="#9a9a9a" stroke-width="0.9"/>
<text x="19.30" y="383.30" font-size="7.9" text-anchor="end" fill="#444">−2</text>
<line x1="27.30" y1="403.30" x2="27.30" y2="406.90" stroke="#9a9a9a" stroke-width="0.9"/>
<text x="27.30" y="418.10" font-size="7.9" text-anchor="middle" fill="#444">−5.0</text>
<line x1="59.80" y1="403.30" x2="59.80" y2="406.90" stroke="#9a9a9a" stroke-width="0.9"/>
<text x="59.80" y="418.10" font-size="7.9" text-anchor="middle" fill="#444">−2.5</text>
<line x1="92.30" y1="403.30" x2="92.30" y2="406.90" stroke="#9a9a9a" stroke-width="0.9"/>
<text x="92.30" y="418.10" font-size="7.9" text-anchor="middle" fill="#444">0</text>
<line x1="124.80" y1="403.30" x2="124.80" y2="406.90" stroke="#9a9a9a" stroke-width="0.9"/>
<text x="124.80" y="418.10" font-size="7.9" text-anchor="middle" fill="#444">2.5</text>
<line x1="157.30" y1="403.30" x2="157.30" y2="406.90" stroke="#9a9a9a" stroke-width="0.9"/>
<text x="157.30" y="418.10" font-size="7.9" text-anchor="middle" fill="#444">5.0</text>
<text x="54.60" y="430.40" font-size="8.7" textLength="80.60" lengthAdjust="spacingAndGlyphs" fill="#363636">scMORE (GLM) TRS</text>
<text x="7.00" y="335.60" font-size="8.7" text-anchor="middle" textLength="54.40" lengthAdjust="spacingAndGlyphs" fill="#363636" transform="rotate(-90 7.00 335.60)">GLMNET TRS</text>
<circle cx="140.50" cy="274.80" r="2.00" fill="#ee6f67" fill-opacity="0.79"/>
<circle cx="147.20" cy="274.80" r="2.00" fill="#ee6f67" fill-opacity="0.79"/>
<circle cx="119.60" cy="282.30" r="2.00" fill="#ee6f67" fill-opacity="0.79"/>
<circle cx="126.10" cy="285.20" r="2.00" fill="#ee6f67" fill-opacity="0.79"/>
<circle cx="131.30" cy="287.30" r="2.00" fill="#ee6f67" fill-opacity="0.79"/>
<circle cx="133.60" cy="290.00" r="2.00" fill="#ee6f67" fill-opacity="0.79"/>
<circle cx="130.10" cy="289.20" r="2.00" fill="#ee6f67" fill-opacity="0.79"/>
<circle cx="129.60" cy="293.60" r="2.00" fill="#ee6f67" fill-opacity="0.79"/>
<circle cx="110.00" cy="291.60" r="2.00" fill="#ee6f67" fill-opacity="0.79"/>
<circle cx="118.00" cy="292.80" r="2.00" fill="#ee6f67" fill-opacity="0.79"/>
<circle cx="157.30" cy="296.90" r="2.00" fill="#ee6f67" fill-opacity="0.79"/>
<circle cx="135.20" cy="300.80" r="2.00" fill="#ee6f67" fill-opacity="0.79"/>
<circle cx="150.40" cy="308.10" r="2.00" fill="#ee6f67" fill-opacity="0.79"/>
<circle cx="114.00" cy="296.50" r="2.00" fill="#ee6f67" fill-opacity="0.79"/>
<circle cx="113.00" cy="299.00" r="2.00" fill="#ee6f67" fill-opacity="0.79"/>
<circle cx="115.60" cy="298.00" r="2.00" fill="#ee6f67" fill-opacity="0.79"/>
<circle cx="117.10" cy="297.30" r="2.00" fill="#ee6f67" fill-opacity="0.79"/>
<circle cx="118.50" cy="299.60" r="2.00" fill="#ee6f67" fill-opacity="0.79"/>
<circle cx="115.10" cy="300.10" r="2.00" fill="#ee6f67" fill-opacity="0.79"/>
<circle cx="112.00" cy="298.70" r="2.00" fill="#ee6f67" fill-opacity="0.79"/>
<circle cx="97.60" cy="301.40" r="2.00" fill="#ee6f67" fill-opacity="0.79"/>
<circle cx="102.70" cy="299.60" r="2.00" fill="#ee6f67" fill-opacity="0.79"/>
<circle cx="104.30" cy="302.10" r="2.00" fill="#ee6f67" fill-opacity="0.79"/>
<circle cx="106.30" cy="301.40" r="2.00" fill="#ee6f67" fill-opacity="0.79"/>
<circle cx="107.40" cy="302.10" r="2.00" fill="#ee6f67" fill-opacity="0.79"/>
<circle cx="117.90" cy="304.70" r="2.00" fill="#ee6f67" fill-opacity="0.79"/>
<circle cx="109.40" cy="304.50" r="2.00" fill="#ee6f67" fill-opacity="0.79"/>
<circle cx="111.50" cy="306.30" r="2.00" fill="#ee6f67" fill-opacity="0.79"/>
<circle cx="101.70" cy="307.30" r="2.00" fill="#ee6f67" fill-opacity="0.79"/>
<circle cx="101.20" cy="309.90" r="2.00" fill="#ee6f67" fill-opacity="0.79"/>
<circle cx="100.10" cy="310.90" r="2.00" fill="#ee6f67" fill-opacity="0.79"/>
<circle cx="102.70" cy="310.90" r="2.00" fill="#ee6f67" fill-opacity="0.79"/>
<circle cx="104.80" cy="310.90" r="2.00" fill="#ee6f67" fill-opacity="0.79"/>
<circle cx="105.80" cy="310.90" r="2.00" fill="#ee6f67" fill-opacity="0.79"/>
<circle cx="101.70" cy="314.50" r="2.00" fill="#ee6f67" fill-opacity="0.79"/>
<circle cx="95.80" cy="313.00" r="2.00" fill="#ee6f67" fill-opacity="0.79"/>
<circle cx="98.10" cy="318.60" r="2.00" fill="#ee6f67" fill-opacity="0.79"/>
<circle cx="99.60" cy="321.20" r="2.00" fill="#ee6f67" fill-opacity="0.79"/>
<circle cx="103.80" cy="321.20" r="2.00" fill="#ee6f67" fill-opacity="0.79"/>
<circle cx="105.30" cy="322.70" r="2.00" fill="#ee6f67" fill-opacity="0.79"/>
<circle cx="104.30" cy="324.30" r="2.00" fill="#ee6f67" fill-opacity="0.79"/>
<circle cx="84.70" cy="307.60" r="2.00" fill="#ee6f67" fill-opacity="0.79"/>
<circle cx="79.90" cy="318.00" r="2.00" fill="#ee6f67" fill-opacity="0.79"/>
<circle cx="85.90" cy="320.50" r="2.00" fill="#ee6f67" fill-opacity="0.79"/>
<circle cx="93.10" cy="322.90" r="2.00" fill="#ee6f67" fill-opacity="0.79"/>
<circle cx="79.90" cy="328.00" r="2.00" fill="#ee6f67" fill-opacity="0.79"/>
<circle cx="88.30" cy="327.30" r="2.00" fill="#ee6f67" fill-opacity="0.79"/>
<circle cx="81.10" cy="335.70" r="2.00" fill="#ee6f67" fill-opacity="0.79"/>
<circle cx="61.00" cy="337.00" r="2.00" fill="#ee6f67" fill-opacity="0.79"/>
<circle cx="59.40" cy="338.90" r="2.00" fill="#ee6f67" fill-opacity="0.79"/>
<circle cx="84.80" cy="307.70" r="2.00" fill="#ee6f67" fill-opacity="0.79"/>
<circle cx="93.70" cy="312.80" r="2.00" fill="#ee6f67" fill-opacity="0.79"/>
<circle cx="80.00" cy="318.40" r="2.00" fill="#ee6f67" fill-opacity="0.79"/>
<circle cx="85.60" cy="320.50" r="2.00" fill="#ee6f67" fill-opacity="0.79"/>
<circle cx="92.90" cy="322.40" r="2.00" fill="#ee6f67" fill-opacity="0.79"/>
<circle cx="80.00" cy="328.80" r="2.00" fill="#ee6f67" fill-opacity="0.79"/>
<circle cx="88.00" cy="328.00" r="2.00" fill="#ee6f67" fill-opacity="0.79"/>
<circle cx="80.80" cy="336.10" r="2.00" fill="#ee6f67" fill-opacity="0.79"/>
<circle cx="61.30" cy="337.20" r="2.00" fill="#ee6f67" fill-opacity="0.79"/>
<circle cx="71.20" cy="342.00" r="2.00" fill="#ee6f67" fill-opacity="0.79"/>
<circle cx="70.40" cy="346.50" r="2.00" fill="#ee6f67" fill-opacity="0.79"/>
<circle cx="63.20" cy="347.80" r="2.00" fill="#ee6f67" fill-opacity="0.79"/>
<circle cx="65.60" cy="348.10" r="2.00" fill="#ee6f67" fill-opacity="0.79"/>
<circle cx="72.00" cy="352.10" r="2.00" fill="#ee6f67" fill-opacity="0.79"/>
<circle cx="65.60" cy="352.90" r="2.00" fill="#ee6f67" fill-opacity="0.79"/>
<circle cx="63.20" cy="354.50" r="2.00" fill="#ee6f67" fill-opacity="0.79"/>
<circle cx="62.40" cy="359.30" r="2.00" fill="#ee6f67" fill-opacity="0.79"/>
<circle cx="67.20" cy="360.90" r="2.00" fill="#ee6f67" fill-opacity="0.79"/>
<circle cx="81.60" cy="342.50" r="2.00" fill="#ee6f67" fill-opacity="0.79"/>
<circle cx="83.20" cy="355.30" r="2.00" fill="#ee6f67" fill-opacity="0.79"/>
<circle cx="85.60" cy="356.10" r="2.00" fill="#ee6f67" fill-opacity="0.79"/>
<circle cx="88.00" cy="356.90" r="2.00" fill="#ee6f67" fill-opacity="0.79"/>
<circle cx="80.00" cy="358.50" r="2.00" fill="#ee6f67" fill-opacity="0.79"/>
<circle cx="92.00" cy="355.30" r="2.00" fill="#ee6f67" fill-opacity="0.79"/>
<circle cx="92.90" cy="352.90" r="2.00" fill="#ee6f67" fill-opacity="0.79"/>
<circle cx="98.50" cy="355.30" r="2.00" fill="#ee6f67" fill-opacity="0.79"/>
<circle cx="74.40" cy="364.10" r="2.00" fill="#ee6f67" fill-opacity="0.79"/>
<circle cx="73.60" cy="365.70" r="2.00" fill="#ee6f67" fill-opacity="0.79"/>
<circle cx="80.80" cy="365.70" r="2.00" fill="#ee6f67" fill-opacity="0.79"/>
<circle cx="120.10" cy="352.90" r="2.00" fill="#ee6f67" fill-opacity="0.79"/>
<circle cx="135.30" cy="301.60" r="2.00" fill="#ee6f67" fill-opacity="0.79"/>
<circle cx="111.30" cy="348.10" r="2.00" fill="#ee6f67" fill-opacity="0.79"/>
<circle cx="122.50" cy="340.90" r="2.00" fill="#ee6f67" fill-opacity="0.79"/>
<circle cx="59.90" cy="338.20" r="2.00" fill="#ee6f67" fill-opacity="0.79"/>
<circle cx="61.50" cy="336.90" r="2.00" fill="#ee6f67" fill-opacity="0.79"/>
<circle cx="81.40" cy="336.30" r="2.00" fill="#ee6f67" fill-opacity="0.79"/>
<circle cx="71.50" cy="342.20" r="2.00" fill="#ee6f67" fill-opacity="0.79"/>
<circle cx="70.70" cy="346.20" r="2.00" fill="#ee6f67" fill-opacity="0.79"/>
<circle cx="50.60" cy="350.20" r="2.00" fill="#ee6f67" fill-opacity="0.79"/>
<circle cx="63.90" cy="347.50" r="2.00" fill="#ee6f67" fill-opacity="0.79"/>
<circle cx="65.00" cy="348.10" r="2.00" fill="#ee6f67" fill-opacity="0.79"/>
<circle cx="57.80" cy="354.20" r="2.00" fill="#ee6f67" fill-opacity="0.79"/>
<circle cx="62.20" cy="353.90" r="2.00" fill="#ee6f67" fill-opacity="0.79"/>
<circle cx="65.80" cy="352.30" r="2.00" fill="#ee6f67" fill-opacity="0.79"/>
<circle cx="72.30" cy="351.80" r="2.00" fill="#ee6f67" fill-opacity="0.79"/>
<circle cx="63.00" cy="359.30" r="2.00" fill="#ee6f67" fill-opacity="0.79"/>
<circle cx="67.00" cy="360.60" r="2.00" fill="#ee6f67" fill-opacity="0.79"/>
<circle cx="61.50" cy="362.20" r="2.00" fill="#ee6f67" fill-opacity="0.79"/>
<circle cx="73.10" cy="363.80" r="2.00" fill="#ee6f67" fill-opacity="0.79"/>
<circle cx="74.70" cy="365.40" r="2.00" fill="#ee6f67" fill-opacity="0.79"/>
<circle cx="72.30" cy="365.10" r="2.00" fill="#ee6f67" fill-opacity="0.79"/>
<circle cx="81.10" cy="365.40" r="2.00" fill="#ee6f67" fill-opacity="0.79"/>
<circle cx="77.90" cy="369.00" r="2.00" fill="#ee6f67" fill-opacity="0.79"/>
<circle cx="54.60" cy="367.50" r="2.00" fill="#ee6f67" fill-opacity="0.79"/>
<circle cx="53.80" cy="372.20" r="2.00" fill="#ee6f67" fill-opacity="0.79"/>
<circle cx="64.20" cy="369.40" r="2.00" fill="#ee6f67" fill-opacity="0.79"/>
<circle cx="64.20" cy="372.20" r="2.00" fill="#ee6f67" fill-opacity="0.79"/>
<circle cx="69.90" cy="374.20" r="2.00" fill="#ee6f67" fill-opacity="0.79"/>
<circle cx="34.90" cy="373.00" r="2.00" fill="#ee6f67" fill-opacity="0.79"/>
<circle cx="55.90" cy="380.20" r="2.00" fill="#ee6f67" fill-opacity="0.79"/>
<circle cx="63.90" cy="382.70" r="2.00" fill="#ee6f67" fill-opacity="0.79"/>
<circle cx="72.60" cy="383.10" r="2.00" fill="#ee6f67" fill-opacity="0.79"/>
<circle cx="49.30" cy="384.70" r="2.00" fill="#ee6f67" fill-opacity="0.79"/>
<circle cx="32.20" cy="386.30" r="2.00" fill="#ee6f67" fill-opacity="0.79"/>
<circle cx="34.60" cy="384.70" r="2.00" fill="#ee6f67" fill-opacity="0.79"/>
<circle cx="35.40" cy="390.30" r="2.00" fill="#ee6f67" fill-opacity="0.79"/>
<circle cx="41.00" cy="389.50" r="2.00" fill="#ee6f67" fill-opacity="0.79"/>
<circle cx="39.40" cy="392.70" r="2.00" fill="#ee6f67" fill-opacity="0.79"/>
<circle cx="40.20" cy="395.10" r="2.00" fill="#ee6f67" fill-opacity="0.79"/>
<circle cx="41.00" cy="397.50" r="2.00" fill="#ee6f67" fill-opacity="0.79"/>
<circle cx="39.40" cy="395.90" r="2.00" fill="#ee6f67" fill-opacity="0.79"/>
<circle cx="75.50" cy="394.30" r="2.00" fill="#ee6f67" fill-opacity="0.79"/>
<circle cx="119.90" cy="352.90" r="2.00" fill="#ee6f67" fill-opacity="0.79"/>
<circle cx="92.40" cy="354.60" r="2.00" fill="#ee6f67" fill-opacity="0.79"/>
<circle cx="99.30" cy="355.80" r="2.00" fill="#ee6f67" fill-opacity="0.79"/>
<circle cx="87.50" cy="339.80" r="2.00" fill="#ee6f67" fill-opacity="0.79"/>
<circle cx="89.10" cy="337.40" r="2.00" fill="#ee6f67" fill-opacity="0.79"/>
<circle cx="90.70" cy="336.60" r="2.00" fill="#ee6f67" fill-opacity="0.79"/>
<circle cx="92.30" cy="339.00" r="2.00" fill="#ee6f67" fill-opacity="0.79"/>
<circle cx="88.30" cy="344.60" r="2.00" fill="#ee6f67" fill-opacity="0.79"/>
<circle cx="93.10" cy="345.40" r="2.00" fill="#ee6f67" fill-opacity="0.79"/>
<circle cx="79.50" cy="358.20" r="2.00" fill="#ee6f67" fill-opacity="0.79"/>
<circle cx="82.70" cy="355.80" r="2.00" fill="#ee6f67" fill-opacity="0.79"/>
<circle cx="85.10" cy="355.50" r="2.00" fill="#ee6f67" fill-opacity="0.79"/>
<circle cx="87.50" cy="357.40" r="2.00" fill="#ee6f67" fill-opacity="0.79"/>
<circle cx="81.10" cy="359.80" r="2.00" fill="#ee6f67" fill-opacity="0.79"/>
<circle cx="92.30" cy="354.20" r="2.00" fill="#ee6f67" fill-opacity="0.79"/>
<circle cx="93.90" cy="355.80" r="2.00" fill="#ee6f67" fill-opacity="0.79"/>
<circle cx="127.31" cy="311.81" r="2.00" fill="#ee6f67" fill-opacity="0.79"/>
<circle cx="119.95" cy="319.58" r="2.00" fill="#ee6f67" fill-opacity="0.79"/>
<circle cx="114.71" cy="320.01" r="2.00" fill="#ee6f67" fill-opacity="0.79"/>
<circle cx="115.66" cy="310.85" r="2.00" fill="#ee6f67" fill-opacity="0.79"/>
<circle cx="125.68" cy="317.87" r="2.00" fill="#ee6f67" fill-opacity="0.79"/>
<circle cx="115.27" cy="318.89" r="2.00" fill="#ee6f67" fill-opacity="0.79"/>
<circle cx="121.25" cy="315.65" r="2.00" fill="#ee6f67" fill-opacity="0.79"/>
<circle cx="114.92" cy="312.69" r="2.00" fill="#ee6f67" fill-opacity="0.79"/>
<circle cx="122.25" cy="317.10" r="2.00" fill="#ee6f67" fill-opacity="0.79"/>
<circle cx="117.59" cy="311.08" r="2.00" fill="#ee6f67" fill-opacity="0.79"/>
<circle cx="128.27" cy="314.44" r="2.00" fill="#ee6f67" fill-opacity="0.79"/>
<circle cx="120.75" cy="327.26" r="2.00" fill="#ee6f67" fill-opacity="0.79"/>
<circle cx="115.99" cy="312.20" r="2.00" fill="#ee6f67" fill-opacity="0.79"/>
<circle cx="112.44" cy="309.69" r="2.00" fill="#ee6f67" fill-opacity="0.79"/>
<circle cx="123.91" cy="313.64" r="2.00" fill="#ee6f67" fill-opacity="0.79"/>
<circle cx="117.00" cy="324.26" r="2.00" fill="#ee6f67" fill-opacity="0.79"/>
<circle cx="111.04" cy="324.37" r="2.00" fill="#ee6f67" fill-opacity="0.79"/>
<circle cx="106.51" cy="320.53" r="2.00" fill="#ee6f67" fill-opacity="0.79"/>
<circle cx="115.23" cy="327.02" r="2.00" fill="#ee6f67" fill-opacity="0.79"/>
<circle cx="127.98" cy="312.18" r="2.00" fill="#ee6f67" fill-opacity="0.79"/>
<circle cx="123.23" cy="315.13" r="2.00" fill="#ee6f67" fill-opacity="0.79"/>
<circle cx="120.66" cy="313.49" r="2.00" fill="#ee6f67" fill-opacity="0.79"/>
<circle cx="106.28" cy="314.98" r="2.00" fill="#ee6f67" fill-opacity="0.79"/>
<circle cx="125.36" cy="326.20" r="2.00" fill="#ee6f67" fill-opacity="0.79"/>
<circle cx="119.47" cy="315.18" r="2.00" fill="#ee6f67" fill-opacity="0.79"/>
<circle cx="129.85" cy="314.12" r="2.00" fill="#ee6f67" fill-opacity="0.79"/>
<circle cx="120.03" cy="318.77" r="2.00" fill="#ee6f67" fill-opacity="0.79"/>
<circle cx="117.69" cy="317.07" r="2.00" fill="#ee6f67" fill-opacity="0.79"/>
<circle cx="112.15" cy="323.68" r="2.00" fill="#ee6f67" fill-opacity="0.79"/>
<circle cx="120.75" cy="323.11" r="2.00" fill="#ee6f67" fill-opacity="0.79"/>
<circle cx="113.37" cy="311.16" r="2.00" fill="#ee6f67" fill-opacity="0.79"/>
<circle cx="121.69" cy="325.18" r="2.00" fill="#ee6f67" fill-opacity="0.79"/>
<circle cx="115.22" cy="315.34" r="2.00" fill="#ee6f67" fill-opacity="0.79"/>
<circle cx="110.51" cy="316.74" r="2.00" fill="#ee6f67" fill-opacity="0.79"/>
<circle cx="115.12" cy="313.95" r="2.00" fill="#ee6f67" fill-opacity="0.79"/>
<circle cx="126.61" cy="313.05" r="2.00" fill="#ee6f67" fill-opacity="0.79"/>
<circle cx="122.33" cy="323.59" r="2.00" fill="#ee6f67" fill-opacity="0.79"/>
<circle cx="126.77" cy="313.32" r="2.00" fill="#ee6f67" fill-opacity="0.79"/>
<circle cx="122.20" cy="320.16" r="2.00" fill="#ee6f67" fill-opacity="0.79"/>
<circle cx="114.57" cy="311.24" r="2.00" fill="#ee6f67" fill-opacity="0.79"/>
<circle cx="124.26" cy="319.99" r="2.00" fill="#ee6f67" fill-opacity="0.79"/>
<circle cx="119.50" cy="313.18" r="2.00" fill="#ee6f67" fill-opacity="0.79"/>
<circle cx="116.81" cy="316.09" r="2.00" fill="#ee6f67" fill-opacity="0.79"/>
<circle cx="119.84" cy="324.05" r="2.00" fill="#ee6f67" fill-opacity="0.79"/>
<circle cx="128.59" cy="316.85" r="2.00" fill="#ee6f67" fill-opacity="0.79"/>
<circle cx="123.27" cy="319.37" r="2.00" fill="#ee6f67" fill-opacity="0.79"/>
<circle cx="118.79" cy="317.72" r="2.00" fill="#ee6f67" fill-opacity="0.79"/>
<circle cx="115.23" cy="319.48" r="2.00" fill="#ee6f67" fill-opacity="0.79"/>
<circle cx="132.94" cy="315.81" r="2.00" fill="#ee6f67" fill-opacity="0.79"/>
<circle cx="116.24" cy="316.94" r="2.00" fill="#ee6f67" fill-opacity="0.79"/>
<circle cx="115.01" cy="321.72" r="2.00" fill="#ee6f67" fill-opacity="0.79"/>
<circle cx="118.38" cy="311.12" r="2.00" fill="#ee6f67" fill-opacity="0.79"/>
<circle cx="120.56" cy="314.44" r="2.00" fill="#ee6f67" fill-opacity="0.79"/>
<circle cx="127.06" cy="315.02" r="2.00" fill="#ee6f67" fill-opacity="0.79"/>
<circle cx="127.47" cy="311.78" r="2.00" fill="#ee6f67" fill-opacity="0.79"/>
<circle cx="118.00" cy="319.95" r="2.00" fill="#ee6f67" fill-opacity="0.79"/>
<circle cx="125.82" cy="317.63" r="2.00" fill="#ee6f67" fill-opacity="0.79"/>
<circle cx="112.64" cy="321.87" r="2.00" fill="#ee6f67" fill-opacity="0.79"/>
<circle cx="118.30" cy="316.19" r="2.00" fill="#ee6f67" fill-opacity="0.79"/>
<circle cx="118.80" cy="326.77" r="2.00" fill="#ee6f67" fill-opacity="0.79"/>
<circle cx="115.27" cy="315.54" r="2.00" fill="#ee6f67" fill-opacity="0.79"/>
<circle cx="122.71" cy="316.92" r="2.00" fill="#ee6f67" fill-opacity="0.79"/>
<circle cx="120.07" cy="321.38" r="2.00" fill="#ee6f67" fill-opacity="0.79"/>
<circle cx="122.35" cy="318.24" r="2.00" fill="#ee6f67" fill-opacity="0.79"/>
<circle cx="124.78" cy="316.71" r="2.00" fill="#ee6f67" fill-opacity="0.79"/>
<circle cx="114.96" cy="318.09" r="2.00" fill="#ee6f67" fill-opacity="0.79"/>
<circle cx="116.57" cy="320.18" r="2.00" fill="#ee6f67" fill-opacity="0.79"/>
<circle cx="109.65" cy="313.26" r="2.00" fill="#ee6f67" fill-opacity="0.79"/>
<circle cx="116.94" cy="312.33" r="2.00" fill="#ee6f67" fill-opacity="0.79"/>
<circle cx="109.10" cy="324.47" r="2.00" fill="#ee6f67" fill-opacity="0.79"/>
<circle cx="101.08" cy="341.37" r="2.00" fill="#ee6f67" fill-opacity="0.79"/>
<circle cx="97.50" cy="334.86" r="2.00" fill="#ee6f67" fill-opacity="0.79"/>
<circle cx="94.89" cy="340.62" r="2.00" fill="#ee6f67" fill-opacity="0.79"/>
<circle cx="99.94" cy="334.57" r="2.00" fill="#ee6f67" fill-opacity="0.79"/>
<circle cx="97.83" cy="332.15" r="2.00" fill="#ee6f67" fill-opacity="0.79"/>
<circle cx="98.90" cy="329.74" r="2.00" fill="#ee6f67" fill-opacity="0.79"/>
<circle cx="104.83" cy="339.40" r="2.00" fill="#ee6f67" fill-opacity="0.79"/>
<circle cx="115.65" cy="336.29" r="2.00" fill="#ee6f67" fill-opacity="0.79"/>
<circle cx="96.66" cy="346.62" r="2.00" fill="#ee6f67" fill-opacity="0.79"/>
<circle cx="114.23" cy="333.18" r="2.00" fill="#ee6f67" fill-opacity="0.79"/>
<circle cx="99.50" cy="342.20" r="2.00" fill="#ee6f67" fill-opacity="0.79"/>
<circle cx="111.07" cy="321.27" r="2.00" fill="#ee6f67" fill-opacity="0.79"/>
<circle cx="110.14" cy="337.38" r="2.00" fill="#ee6f67" fill-opacity="0.79"/>
<circle cx="101.42" cy="341.59" r="2.00" fill="#ee6f67" fill-opacity="0.79"/>
<circle cx="95.09" cy="338.71" r="2.00" fill="#ee6f67" fill-opacity="0.79"/>
<circle cx="99.55" cy="340.86" r="2.00" fill="#ee6f67" fill-opacity="0.79"/>
<circle cx="106.20" cy="339.76" r="2.00" fill="#ee6f67" fill-opacity="0.79"/>
<circle cx="97.86" cy="340.38" r="2.00" fill="#ee6f67" fill-opacity="0.79"/>
<circle cx="111.51" cy="332.99" r="2.00" fill="#ee6f67" fill-opacity="0.79"/>
<circle cx="97.81" cy="345.10" r="2.00" fill="#ee6f67" fill-opacity="0.79"/>
<circle cx="102.18" cy="339.79" r="2.00" fill="#ee6f67" fill-opacity="0.79"/>
<circle cx="109.37" cy="338.66" r="2.00" fill="#ee6f67" fill-opacity="0.79"/>
<circle cx="99.35" cy="329.01" r="2.00" fill="#ee6f67" fill-opacity="0.79"/>
<circle cx="97.72" cy="345.56" r="2.00" fill="#ee6f67" fill-opacity="0.79"/>
<circle cx="105.71" cy="341.25" r="2.00" fill="#ee6f67" fill-opacity="0.79"/>
<circle cx="103.51" cy="332.01" r="2.00" fill="#ee6f67" fill-opacity="0.79"/>
<circle cx="108.30" cy="327.65" r="2.00" fill="#ee6f67" fill-opacity="0.79"/>
<circle cx="97.39" cy="353.67" r="2.00" fill="#ee6f67" fill-opacity="0.79"/>
<circle cx="94.13" cy="348.02" r="2.00" fill="#ee6f67" fill-opacity="0.79"/>
<circle cx="110.18" cy="331.68" r="2.00" fill="#ee6f67" fill-opacity="0.79"/>
<circle cx="96.62" cy="348.16" r="2.00" fill="#ee6f67" fill-opacity="0.79"/>
<circle cx="91.28" cy="338.78" r="2.00" fill="#ee6f67" fill-opacity="0.79"/>
<circle cx="104.06" cy="340.58" r="2.00" fill="#ee6f67" fill-opacity="0.79"/>
<circle cx="108.18" cy="337.25" r="2.00" fill="#ee6f67" fill-opacity="0.79"/>
<circle cx="100.78" cy="337.69" r="2.00" fill="#ee6f67" fill-opacity="0.79"/>
<circle cx="96.11" cy="340.76" r="2.00" fill="#ee6f67" fill-opacity="0.79"/>
<circle cx="106.77" cy="331.92" r="2.00" fill="#ee6f67" fill-opacity="0.79"/>
<circle cx="105.26" cy="331.58" r="2.00" fill="#ee6f67" fill-opacity="0.79"/>
<circle cx="100.48" cy="339.18" r="2.00" fill="#ee6f67" fill-opacity="0.79"/>
<circle cx="104.52" cy="339.04" r="2.00" fill="#ee6f67" fill-opacity="0.79"/>
<circle cx="115.62" cy="304.60" r="2.00" fill="#ee6f67" fill-opacity="0.79"/>
<circle cx="111.74" cy="299.73" r="2.00" fill="#ee6f67" fill-opacity="0.79"/>
<circle cx="108.14" cy="301.84" r="2.00" fill="#ee6f67" fill-opacity="0.79"/>
<circle cx="115.45" cy="296.75" r="2.00" fill="#ee6f67" fill-opacity="0.79"/>
<circle cx="113.50" cy="302.11" r="2.00" fill="#ee6f67" fill-opacity="0.79"/>
<circle cx="94.56" cy="344.03" r="2.00" fill="#ee6f67" fill-opacity="0.79"/>
<circle cx="101.20" cy="342.33" r="2.00" fill="#ee6f67" fill-opacity="0.79"/>
<circle cx="99.82" cy="346.85" r="2.00" fill="#ee6f67" fill-opacity="0.79"/>
<circle cx="101.43" cy="340.66" r="2.00" fill="#ee6f67" fill-opacity="0.79"/>
<circle cx="93.70" cy="347.31" r="2.00" fill="#ee6f67" fill-opacity="0.79"/>
<circle cx="92.46" cy="340.46" r="2.00" fill="#ee6f67" fill-opacity="0.79"/>
<circle cx="102.66" cy="341.22" r="2.00" fill="#ee6f67" fill-opacity="0.79"/>
<circle cx="98.07" cy="339.74" r="2.00" fill="#ee6f67" fill-opacity="0.79"/>
<circle cx="101.81" cy="339.61" r="2.00" fill="#ee6f67" fill-opacity="0.79"/>
<circle cx="93.34" cy="341.68" r="2.00" fill="#ee6f67" fill-opacity="0.79"/>
<circle cx="94.79" cy="344.90" r="2.00" fill="#ee6f67" fill-opacity="0.79"/>
<circle cx="95.69" cy="346.70" r="2.00" fill="#ee6f67" fill-opacity="0.79"/>
<circle cx="97.78" cy="347.35" r="2.00" fill="#ee6f67" fill-opacity="0.79"/>
<circle cx="92.07" cy="343.82" r="2.00" fill="#ee6f67" fill-opacity="0.79"/>
<circle cx="96.84" cy="346.69" r="2.00" fill="#ee6f67" fill-opacity="0.79"/>
<circle cx="128.98" cy="328.44" r="2.00" fill="#ee6f67" fill-opacity="0.79"/>
<circle cx="116.94" cy="327.13" r="2.00" fill="#ee6f67" fill-opacity="0.79"/>
<circle cx="129.84" cy="326.19" r="2.00" fill="#ee6f67" fill-opacity="0.79"/>
<circle cx="121.94" cy="326.93" r="2.00" fill="#ee6f67" fill-opacity="0.79"/>
<circle cx="121.99" cy="327.92" r="2.00" fill="#ee6f67" fill-opacity="0.79"/>
<circle cx="123.95" cy="330.18" r="2.00" fill="#ee6f67" fill-opacity="0.79"/>
<circle cx="126.00" cy="323.83" r="2.00" fill="#ee6f67" fill-opacity="0.79"/>
<circle cx="126.42" cy="328.81" r="2.00" fill="#ee6f67" fill-opacity="0.79"/>
<circle cx="121.73" cy="324.72" r="2.00" fill="#ee6f67" fill-opacity="0.79"/>
<circle cx="114.78" cy="328.71" r="2.00" fill="#ee6f67" fill-opacity="0.79"/>
<circle cx="121.65" cy="319.63" r="2.00" fill="#ee6f67" fill-opacity="0.79"/>
<circle cx="116.92" cy="325.33" r="2.00" fill="#ee6f67" fill-opacity="0.79"/>
<circle cx="113.17" cy="345.10" r="2.00" fill="#ee6f67" fill-opacity="0.79"/>
<circle cx="110.15" cy="341.89" r="2.00" fill="#ee6f67" fill-opacity="0.79"/>
<circle cx="102.65" cy="353.08" r="2.00" fill="#ee6f67" fill-opacity="0.79"/>
<circle cx="111.73" cy="345.88" r="2.00" fill="#ee6f67" fill-opacity="0.79"/>
<circle cx="114.93" cy="340.79" r="2.00" fill="#ee6f67" fill-opacity="0.79"/>
<circle cx="108.03" cy="351.72" r="2.00" fill="#ee6f67" fill-opacity="0.79"/>
<circle cx="119.37" cy="343.26" r="2.00" fill="#ee6f67" fill-opacity="0.79"/>
<circle cx="117.65" cy="341.29" r="2.00" fill="#ee6f67" fill-opacity="0.79"/>
<circle cx="110.62" cy="345.67" r="2.00" fill="#ee6f67" fill-opacity="0.79"/>
<circle cx="100.40" cy="351.23" r="2.00" fill="#ee6f67" fill-opacity="0.79"/>
<circle cx="114.06" cy="344.53" r="2.00" fill="#ee6f67" fill-opacity="0.79"/>
<circle cx="110.51" cy="352.38" r="2.00" fill="#ee6f67" fill-opacity="0.79"/>
<circle cx="99.91" cy="343.94" r="2.00" fill="#ee6f67" fill-opacity="0.79"/>
<circle cx="103.68" cy="343.84" r="2.00" fill="#ee6f67" fill-opacity="0.79"/>
<circle cx="117.01" cy="345.40" r="2.00" fill="#ee6f67" fill-opacity="0.79"/>
<circle cx="103.29" cy="346.46" r="2.00" fill="#ee6f67" fill-opacity="0.79"/>
<circle cx="124.30" cy="338.84" r="2.00" fill="#ee6f67" fill-opacity="0.79"/>
<circle cx="105.12" cy="349.71" r="2.00" fill="#ee6f67" fill-opacity="0.79"/>
<circle cx="112.90" cy="346.52" r="2.00" fill="#ee6f67" fill-opacity="0.79"/>
<circle cx="102.29" cy="344.51" r="2.00" fill="#ee6f67" fill-opacity="0.79"/>
<circle cx="112.29" cy="345.57" r="2.00" fill="#ee6f67" fill-opacity="0.79"/>
<circle cx="101.35" cy="354.77" r="2.00" fill="#ee6f67" fill-opacity="0.79"/>
<circle cx="113.04" cy="344.50" r="2.00" fill="#ee6f67" fill-opacity="0.79"/>
<circle cx="107.85" cy="348.40" r="2.00" fill="#ee6f67" fill-opacity="0.79"/>
<circle cx="103.28" cy="343.34" r="2.00" fill="#ee6f67" fill-opacity="0.79"/>
<line x1="155.8" y1="291.0" x2="31.8" y2="388.3" stroke="#3e58a8" stroke-width="1.25" stroke-dasharray="3.8 3"/>
<text x="28.50" y="277.30" font-size="8.8" textLength="93.50" lengthAdjust="spacingAndGlyphs" fill="#404040">r = 0.796, <tspan font-style="italic">P</tspan> = 2.06 × 10<tspan font-size="6.0" dy="-3.6">−84</tspan></text>
<line x1="198.10" y1="268.00" x2="198.10" y2="404.10" stroke="#9a9a9a" stroke-width="0.9"/>
<line x1="198.10" y1="404.10" x2="335.70" y2="404.10" stroke="#9a9a9a" stroke-width="0.9"/>
<line x1="194.80" y1="271.10" x2="198.10" y2="271.10" stroke="#9a9a9a" stroke-width="0.9"/>
<text x="192.40" y="273.90" font-size="7.9" text-anchor="end" fill="#444">9</text>
<line x1="194.80" y1="303.50" x2="198.10" y2="303.50" stroke="#9a9a9a" stroke-width="0.9"/>
<text x="192.40" y="306.30" font-size="7.9" text-anchor="end" fill="#444">6</text>
<line x1="194.80" y1="335.90" x2="198.10" y2="335.90" stroke="#9a9a9a" stroke-width="0.9"/>
<text x="192.40" y="338.70" font-size="7.9" text-anchor="end" fill="#444">3</text>
<line x1="194.80" y1="368.30" x2="198.10" y2="368.30" stroke="#9a9a9a" stroke-width="0.9"/>
<text x="192.40" y="371.10" font-size="7.9" text-anchor="end" fill="#444">0</text>
<line x1="194.80" y1="400.70" x2="198.10" y2="400.70" stroke="#9a9a9a" stroke-width="0.9"/>
<text x="192.40" y="403.50" font-size="7.9" text-anchor="end" fill="#444">−3</text>
<line x1="200.90" y1="404.10" x2="200.90" y2="407.70" stroke="#9a9a9a" stroke-width="0.9"/>
<text x="200.90" y="418.10" font-size="7.9" text-anchor="middle" fill="#444">−5.0</text>
<line x1="233.15" y1="404.10" x2="233.15" y2="407.70" stroke="#9a9a9a" stroke-width="0.9"/>
<text x="233.15" y="418.10" font-size="7.9" text-anchor="middle" fill="#444">−2.5</text>
<line x1="265.40" y1="404.10" x2="265.40" y2="407.70" stroke="#9a9a9a" stroke-width="0.9"/>
<text x="265.40" y="418.10" font-size="7.9" text-anchor="middle" fill="#444">0</text>
<line x1="297.65" y1="404.10" x2="297.65" y2="407.70" stroke="#9a9a9a" stroke-width="0.9"/>
<text x="297.65" y="418.10" font-size="7.9" text-anchor="middle" fill="#444">2.5</text>
<line x1="329.90" y1="404.10" x2="329.90" y2="407.70" stroke="#9a9a9a" stroke-width="0.9"/>
<text x="329.90" y="418.10" font-size="7.9" text-anchor="middle" fill="#444">5.0</text>
<text x="226.30" y="430.40" font-size="8.7" textLength="81.80" lengthAdjust="spacingAndGlyphs" fill="#363636">scMORE (GLM) TRS</text>
<text x="179.80" y="336.70" font-size="8.7" text-anchor="middle" textLength="54.00" lengthAdjust="spacingAndGlyphs" fill="#363636" transform="rotate(-90 179.80 336.70)">XGBoost TRS</text>
<circle cx="252.80" cy="301.20" r="2.00" fill="#ee6f67" fill-opacity="0.79"/>
<circle cx="257.60" cy="308.00" r="2.00" fill="#ee6f67" fill-opacity="0.79"/>
<circle cx="252.80" cy="312.80" r="2.00" fill="#ee6f67" fill-opacity="0.79"/>
<circle cx="261.00" cy="312.10" r="2.00" fill="#ee6f67" fill-opacity="0.79"/>
<circle cx="265.30" cy="313.20" r="2.00" fill="#ee6f67" fill-opacity="0.79"/>
<circle cx="266.90" cy="316.50" r="2.00" fill="#ee6f67" fill-opacity="0.79"/>
<circle cx="254.10" cy="322.90" r="2.00" fill="#ee6f67" fill-opacity="0.79"/>
<circle cx="254.10" cy="325.30" r="2.00" fill="#ee6f67" fill-opacity="0.79"/>
<circle cx="258.90" cy="322.90" r="2.00" fill="#ee6f67" fill-opacity="0.79"/>
<circle cx="262.10" cy="322.10" r="2.00" fill="#ee6f67" fill-opacity="0.79"/>
<circle cx="265.30" cy="322.90" r="2.00" fill="#ee6f67" fill-opacity="0.79"/>
<circle cx="244.90" cy="328.80" r="2.00" fill="#ee6f67" fill-opacity="0.79"/>
<circle cx="252.50" cy="330.90" r="2.00" fill="#ee6f67" fill-opacity="0.79"/>
<circle cx="255.70" cy="332.50" r="2.00" fill="#ee6f67" fill-opacity="0.79"/>
<circle cx="258.90" cy="333.30" r="2.00" fill="#ee6f67" fill-opacity="0.79"/>
<circle cx="244.90" cy="335.70" r="2.00" fill="#ee6f67" fill-opacity="0.79"/>
<circle cx="234.50" cy="338.10" r="2.00" fill="#ee6f67" fill-opacity="0.79"/>
<circle cx="320.00" cy="275.60" r="2.00" fill="#ee6f67" fill-opacity="0.79"/>
<circle cx="330.10" cy="278.50" r="2.00" fill="#ee6f67" fill-opacity="0.79"/>
<circle cx="323.70" cy="280.40" r="2.00" fill="#ee6f67" fill-opacity="0.79"/>
<circle cx="299.20" cy="282.80" r="2.00" fill="#ee6f67" fill-opacity="0.79"/>
<circle cx="301.30" cy="281.20" r="2.00" fill="#ee6f67" fill-opacity="0.79"/>
<circle cx="306.60" cy="281.50" r="2.00" fill="#ee6f67" fill-opacity="0.79"/>
<circle cx="302.90" cy="286.80" r="2.00" fill="#ee6f67" fill-opacity="0.79"/>
<circle cx="292.40" cy="288.00" r="2.00" fill="#ee6f67" fill-opacity="0.79"/>
<circle cx="294.00" cy="290.00" r="2.00" fill="#ee6f67" fill-opacity="0.79"/>
<circle cx="270.30" cy="294.50" r="2.00" fill="#ee6f67" fill-opacity="0.79"/>
<circle cx="282.00" cy="296.40" r="2.00" fill="#ee6f67" fill-opacity="0.79"/>
<circle cx="285.20" cy="299.60" r="2.00" fill="#ee6f67" fill-opacity="0.79"/>
<circle cx="284.40" cy="300.40" r="2.00" fill="#ee6f67" fill-opacity="0.79"/>
<circle cx="304.00" cy="294.80" r="2.00" fill="#ee6f67" fill-opacity="0.79"/>
<circle cx="308.20" cy="296.40" r="2.00" fill="#ee6f67" fill-opacity="0.79"/>
<circle cx="302.90" cy="299.60" r="2.00" fill="#ee6f67" fill-opacity="0.79"/>
<circle cx="274.00" cy="300.10" r="2.00" fill="#ee6f67" fill-opacity="0.79"/>
<circle cx="276.40" cy="303.30" r="2.00" fill="#ee6f67" fill-opacity="0.79"/>
<circle cx="313.30" cy="310.50" r="2.00" fill="#ee6f67" fill-opacity="0.79"/>
<circle cx="270.80" cy="308.50" r="2.00" fill="#ee6f67" fill-opacity="0.79"/>
<circle cx="266.80" cy="312.50" r="2.00" fill="#ee6f67" fill-opacity="0.79"/>
<circle cx="265.20" cy="317.30" r="2.00" fill="#ee6f67" fill-opacity="0.79"/>
<circle cx="234.50" cy="338.20" r="2.00" fill="#ee6f67" fill-opacity="0.79"/>
<circle cx="244.50" cy="335.80" r="2.00" fill="#ee6f67" fill-opacity="0.79"/>
<circle cx="250.90" cy="337.40" r="2.00" fill="#ee6f67" fill-opacity="0.79"/>
<circle cx="253.30" cy="335.80" r="2.00" fill="#ee6f67" fill-opacity="0.79"/>
<circle cx="247.70" cy="340.60" r="2.00" fill="#ee6f67" fill-opacity="0.79"/>
<circle cx="258.10" cy="340.60" r="2.00" fill="#ee6f67" fill-opacity="0.79"/>
<circle cx="228.40" cy="344.90" r="2.00" fill="#ee6f67" fill-opacity="0.79"/>
<circle cx="235.60" cy="344.30" r="2.00" fill="#ee6f67" fill-opacity="0.79"/>
<circle cx="242.00" cy="346.50" r="2.00" fill="#ee6f67" fill-opacity="0.79"/>
<circle cx="245.30" cy="347.50" r="2.00" fill="#ee6f67" fill-opacity="0.79"/>
<circle cx="239.30" cy="349.10" r="2.00" fill="#ee6f67" fill-opacity="0.79"/>
<circle cx="223.60" cy="351.00" r="2.00" fill="#ee6f67" fill-opacity="0.79"/>
<circle cx="226.00" cy="352.60" r="2.00" fill="#ee6f67" fill-opacity="0.79"/>
<circle cx="236.40" cy="354.20" r="2.00" fill="#ee6f67" fill-opacity="0.79"/>
<circle cx="236.40" cy="355.80" r="2.00" fill="#ee6f67" fill-opacity="0.79"/>
<circle cx="230.80" cy="356.10" r="2.00" fill="#ee6f67" fill-opacity="0.79"/>
<circle cx="244.50" cy="363.80" r="2.00" fill="#ee6f67" fill-opacity="0.79"/>
<circle cx="226.00" cy="367.00" r="2.00" fill="#ee6f67" fill-opacity="0.79"/>
<circle cx="232.40" cy="368.60" r="2.00" fill="#ee6f67" fill-opacity="0.79"/>
<circle cx="234.80" cy="367.80" r="2.00" fill="#ee6f67" fill-opacity="0.79"/>
<circle cx="237.20" cy="368.30" r="2.00" fill="#ee6f67" fill-opacity="0.79"/>
<circle cx="238.80" cy="370.20" r="2.00" fill="#ee6f67" fill-opacity="0.79"/>
<circle cx="232.00" cy="371.00" r="2.00" fill="#ee6f67" fill-opacity="0.79"/>
<circle cx="234.50" cy="374.20" r="2.00" fill="#ee6f67" fill-opacity="0.79"/>
<circle cx="227.60" cy="372.60" r="2.00" fill="#ee6f67" fill-opacity="0.79"/>
<circle cx="222.00" cy="373.80" r="2.00" fill="#ee6f67" fill-opacity="0.79"/>
<circle cx="242.80" cy="372.60" r="2.00" fill="#ee6f67" fill-opacity="0.79"/>
<circle cx="243.70" cy="374.70" r="2.00" fill="#ee6f67" fill-opacity="0.79"/>
<circle cx="212.40" cy="371.80" r="2.00" fill="#ee6f67" fill-opacity="0.79"/>
<circle cx="206.80" cy="374.20" r="2.00" fill="#ee6f67" fill-opacity="0.79"/>
<circle cx="212.40" cy="376.60" r="2.00" fill="#ee6f67" fill-opacity="0.79"/>
<circle cx="214.00" cy="379.00" r="2.00" fill="#ee6f67" fill-opacity="0.79"/>
<circle cx="214.00" cy="381.50" r="2.00" fill="#ee6f67" fill-opacity="0.79"/>
<circle cx="212.40" cy="378.20" r="2.00" fill="#ee6f67" fill-opacity="0.79"/>
<circle cx="204.40" cy="381.50" r="2.00" fill="#ee6f67" fill-opacity="0.79"/>
<circle cx="206.80" cy="380.70" r="2.00" fill="#ee6f67" fill-opacity="0.79"/>
<circle cx="207.90" cy="385.50" r="2.00" fill="#ee6f67" fill-opacity="0.79"/>
<circle cx="236.10" cy="385.50" r="2.00" fill="#ee6f67" fill-opacity="0.79"/>
<circle cx="236.40" cy="389.50" r="2.00" fill="#ee6f67" fill-opacity="0.79"/>
<circle cx="246.10" cy="386.30" r="2.00" fill="#ee6f67" fill-opacity="0.79"/>
<circle cx="246.90" cy="387.90" r="2.00" fill="#ee6f67" fill-opacity="0.79"/>
<circle cx="245.50" cy="387.20" r="2.00" fill="#ee6f67" fill-opacity="0.79"/>
<circle cx="256.50" cy="382.30" r="2.00" fill="#ee6f67" fill-opacity="0.79"/>
<circle cx="257.30" cy="383.10" r="2.00" fill="#ee6f67" fill-opacity="0.79"/>
<circle cx="255.70" cy="383.50" r="2.00" fill="#ee6f67" fill-opacity="0.79"/>
<circle cx="256.80" cy="382.90" r="2.00" fill="#ee6f67" fill-opacity="0.79"/>
<circle cx="256.50" cy="393.90" r="2.00" fill="#ee6f67" fill-opacity="0.79"/>
<circle cx="246.50" cy="397.50" r="2.00" fill="#ee6f67" fill-opacity="0.79"/>
<circle cx="281.20" cy="363.30" r="2.00" fill="#ee6f67" fill-opacity="0.79"/>
<circle cx="286.80" cy="360.00" r="2.00" fill="#ee6f67" fill-opacity="0.79"/>
<circle cx="288.40" cy="359.30" r="2.00" fill="#ee6f67" fill-opacity="0.79"/>
<circle cx="277.20" cy="357.70" r="2.00" fill="#ee6f67" fill-opacity="0.79"/>
<circle cx="265.20" cy="363.30" r="2.00" fill="#ee6f67" fill-opacity="0.79"/>
<circle cx="268.40" cy="368.10" r="2.00" fill="#ee6f67" fill-opacity="0.79"/>
<circle cx="270.00" cy="370.50" r="2.00" fill="#ee6f67" fill-opacity="0.79"/>
<circle cx="271.60" cy="371.30" r="2.00" fill="#ee6f67" fill-opacity="0.79"/>
<circle cx="270.80" cy="374.50" r="2.00" fill="#ee6f67" fill-opacity="0.79"/>
<circle cx="269.20" cy="376.90" r="2.00" fill="#ee6f67" fill-opacity="0.79"/>
<circle cx="270.00" cy="380.90" r="2.00" fill="#ee6f67" fill-opacity="0.79"/>
<circle cx="268.40" cy="356.90" r="2.00" fill="#ee6f67" fill-opacity="0.79"/>
<circle cx="270.80" cy="359.30" r="2.00" fill="#ee6f67" fill-opacity="0.79"/>
<circle cx="270.30" cy="294.50" r="2.00" fill="#ee6f67" fill-opacity="0.79"/>
<circle cx="252.60" cy="301.20" r="2.00" fill="#ee6f67" fill-opacity="0.79"/>
<circle cx="257.40" cy="307.60" r="2.00" fill="#ee6f67" fill-opacity="0.79"/>
<circle cx="252.60" cy="312.40" r="2.00" fill="#ee6f67" fill-opacity="0.79"/>
<circle cx="260.60" cy="312.10" r="2.00" fill="#ee6f67" fill-opacity="0.79"/>
<circle cx="266.30" cy="311.60" r="2.00" fill="#ee6f67" fill-opacity="0.79"/>
<circle cx="267.90" cy="314.00" r="2.00" fill="#ee6f67" fill-opacity="0.79"/>
<circle cx="265.40" cy="316.40" r="2.00" fill="#ee6f67" fill-opacity="0.79"/>
<circle cx="281.50" cy="296.70" r="2.00" fill="#ee6f67" fill-opacity="0.79"/>
<circle cx="284.70" cy="299.60" r="2.00" fill="#ee6f67" fill-opacity="0.79"/>
<circle cx="273.50" cy="299.90" r="2.00" fill="#ee6f67" fill-opacity="0.79"/>
<circle cx="276.30" cy="302.50" r="2.00" fill="#ee6f67" fill-opacity="0.79"/>
<circle cx="303.90" cy="294.80" r="2.00" fill="#ee6f67" fill-opacity="0.79"/>
<circle cx="307.90" cy="296.40" r="2.00" fill="#ee6f67" fill-opacity="0.79"/>
<circle cx="303.10" cy="299.60" r="2.00" fill="#ee6f67" fill-opacity="0.79"/>
<circle cx="293.50" cy="290.80" r="2.00" fill="#ee6f67" fill-opacity="0.79"/>
<circle cx="312.70" cy="310.50" r="2.00" fill="#ee6f67" fill-opacity="0.79"/>
<circle cx="245.40" cy="328.50" r="2.00" fill="#ee6f67" fill-opacity="0.79"/>
<circle cx="244.60" cy="336.20" r="2.00" fill="#ee6f67" fill-opacity="0.79"/>
<circle cx="247.80" cy="340.50" r="2.00" fill="#ee6f67" fill-opacity="0.79"/>
<circle cx="235.80" cy="338.10" r="2.00" fill="#ee6f67" fill-opacity="0.79"/>
<circle cx="235.80" cy="344.50" r="2.00" fill="#ee6f67" fill-opacity="0.79"/>
<circle cx="242.20" cy="346.40" r="2.00" fill="#ee6f67" fill-opacity="0.79"/>
<circle cx="245.40" cy="346.90" r="2.00" fill="#ee6f67" fill-opacity="0.79"/>
<circle cx="239.50" cy="349.00" r="2.00" fill="#ee6f67" fill-opacity="0.79"/>
<circle cx="236.60" cy="354.10" r="2.00" fill="#ee6f67" fill-opacity="0.79"/>
<circle cx="252.60" cy="330.10" r="2.00" fill="#ee6f67" fill-opacity="0.79"/>
<circle cx="257.40" cy="332.50" r="2.00" fill="#ee6f67" fill-opacity="0.79"/>
<circle cx="251.00" cy="336.50" r="2.00" fill="#ee6f67" fill-opacity="0.79"/>
<circle cx="258.20" cy="340.50" r="2.00" fill="#ee6f67" fill-opacity="0.79"/>
<circle cx="263.80" cy="342.90" r="2.00" fill="#ee6f67" fill-opacity="0.79"/>
<circle cx="261.40" cy="349.30" r="2.00" fill="#ee6f67" fill-opacity="0.79"/>
<circle cx="265.40" cy="351.70" r="2.00" fill="#ee6f67" fill-opacity="0.79"/>
<circle cx="260.60" cy="355.70" r="2.00" fill="#ee6f67" fill-opacity="0.79"/>
<circle cx="268.70" cy="355.70" r="2.00" fill="#ee6f67" fill-opacity="0.79"/>
<circle cx="271.10" cy="357.30" r="2.00" fill="#ee6f67" fill-opacity="0.79"/>
<circle cx="263.80" cy="358.10" r="2.00" fill="#ee6f67" fill-opacity="0.79"/>
<circle cx="271.90" cy="346.10" r="2.00" fill="#ee6f67" fill-opacity="0.79"/>
<circle cx="274.30" cy="347.70" r="2.00" fill="#ee6f67" fill-opacity="0.79"/>
<circle cx="277.50" cy="350.90" r="2.00" fill="#ee6f67" fill-opacity="0.79"/>
<circle cx="278.30" cy="354.10" r="2.00" fill="#ee6f67" fill-opacity="0.79"/>
<circle cx="296.70" cy="345.30" r="2.00" fill="#ee6f67" fill-opacity="0.79"/>
<circle cx="293.50" cy="351.70" r="2.00" fill="#ee6f67" fill-opacity="0.79"/>
<circle cx="276.70" cy="358.10" r="2.00" fill="#ee6f67" fill-opacity="0.79"/>
<circle cx="294.11" cy="332.65" r="2.00" fill="#ee6f67" fill-opacity="0.79"/>
<circle cx="294.45" cy="332.63" r="2.00" fill="#ee6f67" fill-opacity="0.79"/>
<circle cx="292.00" cy="341.12" r="2.00" fill="#ee6f67" fill-opacity="0.79"/>
<circle cx="301.41" cy="335.08" r="2.00" fill="#ee6f67" fill-opacity="0.79"/>
<circle cx="285.43" cy="337.80" r="2.00" fill="#ee6f67" fill-opacity="0.79"/>
<circle cx="286.88" cy="338.17" r="2.00" fill="#ee6f67" fill-opacity="0.79"/>
<circle cx="294.60" cy="347.02" r="2.00" fill="#ee6f67" fill-opacity="0.79"/>
<circle cx="300.80" cy="337.21" r="2.00" fill="#ee6f67" fill-opacity="0.79"/>
<circle cx="305.69" cy="354.88" r="2.00" fill="#ee6f67" fill-opacity="0.79"/>
<circle cx="291.48" cy="327.11" r="2.00" fill="#ee6f67" fill-opacity="0.79"/>
<circle cx="292.08" cy="342.47" r="2.00" fill="#ee6f67" fill-opacity="0.79"/>
<circle cx="281.00" cy="342.48" r="2.00" fill="#ee6f67" fill-opacity="0.79"/>
<circle cx="291.50" cy="336.89" r="2.00" fill="#ee6f67" fill-opacity="0.79"/>
<circle cx="295.63" cy="348.53" r="2.00" fill="#ee6f67" fill-opacity="0.79"/>
<circle cx="290.07" cy="343.49" r="2.00" fill="#ee6f67" fill-opacity="0.79"/>
<circle cx="289.23" cy="336.89" r="2.00" fill="#ee6f67" fill-opacity="0.79"/>
<circle cx="292.90" cy="345.40" r="2.00" fill="#ee6f67" fill-opacity="0.79"/>
<circle cx="289.68" cy="327.61" r="2.00" fill="#ee6f67" fill-opacity="0.79"/>
<circle cx="295.43" cy="331.62" r="2.00" fill="#ee6f67" fill-opacity="0.79"/>
<circle cx="293.11" cy="353.56" r="2.00" fill="#ee6f67" fill-opacity="0.79"/>
<circle cx="292.42" cy="334.27" r="2.00" fill="#ee6f67" fill-opacity="0.79"/>
<circle cx="285.19" cy="349.61" r="2.00" fill="#ee6f67" fill-opacity="0.79"/>
<circle cx="292.42" cy="345.51" r="2.00" fill="#ee6f67" fill-opacity="0.79"/>
<circle cx="297.13" cy="341.68" r="2.00" fill="#ee6f67" fill-opacity="0.79"/>
<circle cx="290.96" cy="335.84" r="2.00" fill="#ee6f67" fill-opacity="0.79"/>
<circle cx="277.09" cy="332.13" r="2.00" fill="#ee6f67" fill-opacity="0.79"/>
<circle cx="292.15" cy="340.86" r="2.00" fill="#ee6f67" fill-opacity="0.79"/>
<circle cx="294.52" cy="341.18" r="2.00" fill="#ee6f67" fill-opacity="0.79"/>
<circle cx="293.30" cy="347.12" r="2.00" fill="#ee6f67" fill-opacity="0.79"/>
<circle cx="288.07" cy="340.13" r="2.00" fill="#ee6f67" fill-opacity="0.79"/>
<circle cx="284.46" cy="348.32" r="2.00" fill="#ee6f67" fill-opacity="0.79"/>
<circle cx="292.69" cy="345.18" r="2.00" fill="#ee6f67" fill-opacity="0.79"/>
<circle cx="300.21" cy="349.02" r="2.00" fill="#ee6f67" fill-opacity="0.79"/>
<circle cx="292.20" cy="347.12" r="2.00" fill="#ee6f67" fill-opacity="0.79"/>
<circle cx="285.34" cy="344.82" r="2.00" fill="#ee6f67" fill-opacity="0.79"/>
<circle cx="293.19" cy="331.48" r="2.00" fill="#ee6f67" fill-opacity="0.79"/>
<circle cx="299.19" cy="337.42" r="2.00" fill="#ee6f67" fill-opacity="0.79"/>
<circle cx="295.92" cy="339.27" r="2.00" fill="#ee6f67" fill-opacity="0.79"/>
<circle cx="297.47" cy="350.53" r="2.00" fill="#ee6f67" fill-opacity="0.79"/>
<circle cx="288.35" cy="332.05" r="2.00" fill="#ee6f67" fill-opacity="0.79"/>
<circle cx="291.84" cy="347.52" r="2.00" fill="#ee6f67" fill-opacity="0.79"/>
<circle cx="290.64" cy="338.01" r="2.00" fill="#ee6f67" fill-opacity="0.79"/>
<circle cx="294.94" cy="324.05" r="2.00" fill="#ee6f67" fill-opacity="0.79"/>
<circle cx="289.18" cy="333.01" r="2.00" fill="#ee6f67" fill-opacity="0.79"/>
<circle cx="293.97" cy="337.21" r="2.00" fill="#ee6f67" fill-opacity="0.79"/>
<circle cx="286.92" cy="339.70" r="2.00" fill="#ee6f67" fill-opacity="0.79"/>
<circle cx="285.16" cy="341.91" r="2.00" fill="#ee6f67" fill-opacity="0.79"/>
<circle cx="289.09" cy="339.55" r="2.00" fill="#ee6f67" fill-opacity="0.79"/>
<circle cx="288.91" cy="347.93" r="2.00" fill="#ee6f67" fill-opacity="0.79"/>
<circle cx="291.96" cy="345.41" r="2.00" fill="#ee6f67" fill-opacity="0.79"/>
<circle cx="294.90" cy="336.76" r="2.00" fill="#ee6f67" fill-opacity="0.79"/>
<circle cx="295.35" cy="344.27" r="2.00" fill="#ee6f67" fill-opacity="0.79"/>
<circle cx="294.07" cy="339.41" r="2.00" fill="#ee6f67" fill-opacity="0.79"/>
<circle cx="290.37" cy="347.11" r="2.00" fill="#ee6f67" fill-opacity="0.79"/>
<circle cx="303.41" cy="336.60" r="2.00" fill="#ee6f67" fill-opacity="0.79"/>
<circle cx="295.17" cy="339.62" r="2.00" fill="#ee6f67" fill-opacity="0.79"/>
<circle cx="296.42" cy="344.85" r="2.00" fill="#ee6f67" fill-opacity="0.79"/>
<circle cx="297.80" cy="323.83" r="2.00" fill="#ee6f67" fill-opacity="0.79"/>
<circle cx="289.49" cy="335.58" r="2.00" fill="#ee6f67" fill-opacity="0.79"/>
<circle cx="291.96" cy="337.29" r="2.00" fill="#ee6f67" fill-opacity="0.79"/>
<circle cx="289.30" cy="346.43" r="2.00" fill="#ee6f67" fill-opacity="0.79"/>
<circle cx="302.01" cy="323.65" r="2.00" fill="#ee6f67" fill-opacity="0.79"/>
<circle cx="290.95" cy="344.03" r="2.00" fill="#ee6f67" fill-opacity="0.79"/>
<circle cx="292.52" cy="339.76" r="2.00" fill="#ee6f67" fill-opacity="0.79"/>
<circle cx="285.73" cy="335.87" r="2.00" fill="#ee6f67" fill-opacity="0.79"/>
<circle cx="296.12" cy="348.99" r="2.00" fill="#ee6f67" fill-opacity="0.79"/>
<circle cx="292.98" cy="336.56" r="2.00" fill="#ee6f67" fill-opacity="0.79"/>
<circle cx="292.98" cy="340.44" r="2.00" fill="#ee6f67" fill-opacity="0.79"/>
<circle cx="295.23" cy="342.77" r="2.00" fill="#ee6f67" fill-opacity="0.79"/>
<circle cx="289.39" cy="343.24" r="2.00" fill="#ee6f67" fill-opacity="0.79"/>
<circle cx="286.60" cy="347.33" r="2.00" fill="#ee6f67" fill-opacity="0.79"/>
<circle cx="298.41" cy="334.34" r="2.00" fill="#ee6f67" fill-opacity="0.79"/>
<circle cx="294.61" cy="335.56" r="2.00" fill="#ee6f67" fill-opacity="0.79"/>
<circle cx="297.86" cy="347.88" r="2.00" fill="#ee6f67" fill-opacity="0.79"/>
<circle cx="291.35" cy="348.47" r="2.00" fill="#ee6f67" fill-opacity="0.79"/>
<circle cx="290.34" cy="337.82" r="2.00" fill="#ee6f67" fill-opacity="0.79"/>
<circle cx="289.66" cy="341.08" r="2.00" fill="#ee6f67" fill-opacity="0.79"/>
<circle cx="290.88" cy="343.00" r="2.00" fill="#ee6f67" fill-opacity="0.79"/>
<circle cx="289.42" cy="346.97" r="2.00" fill="#ee6f67" fill-opacity="0.79"/>
<circle cx="297.60" cy="338.78" r="2.00" fill="#ee6f67" fill-opacity="0.79"/>
<circle cx="285.36" cy="346.71" r="2.00" fill="#ee6f67" fill-opacity="0.79"/>
<circle cx="298.19" cy="340.94" r="2.00" fill="#ee6f67" fill-opacity="0.79"/>
<circle cx="286.07" cy="343.73" r="2.00" fill="#ee6f67" fill-opacity="0.79"/>
<circle cx="300.12" cy="329.80" r="2.00" fill="#ee6f67" fill-opacity="0.79"/>
<circle cx="294.89" cy="339.96" r="2.00" fill="#ee6f67" fill-opacity="0.79"/>
<circle cx="288.22" cy="345.24" r="2.00" fill="#ee6f67" fill-opacity="0.79"/>
<circle cx="286.01" cy="343.93" r="2.00" fill="#ee6f67" fill-opacity="0.79"/>
<circle cx="299.07" cy="343.15" r="2.00" fill="#ee6f67" fill-opacity="0.79"/>
<circle cx="288.12" cy="330.43" r="2.00" fill="#ee6f67" fill-opacity="0.79"/>
<circle cx="286.09" cy="330.03" r="2.00" fill="#ee6f67" fill-opacity="0.79"/>
<circle cx="300.50" cy="340.38" r="2.00" fill="#ee6f67" fill-opacity="0.79"/>
<circle cx="287.27" cy="333.56" r="2.00" fill="#ee6f67" fill-opacity="0.79"/>
<circle cx="287.16" cy="339.82" r="2.00" fill="#ee6f67" fill-opacity="0.79"/>
<circle cx="286.09" cy="352.90" r="2.00" fill="#ee6f67" fill-opacity="0.79"/>
<circle cx="288.76" cy="336.91" r="2.00" fill="#ee6f67" fill-opacity="0.79"/>
<circle cx="271.54" cy="358.70" r="2.00" fill="#ee6f67" fill-opacity="0.79"/>
<circle cx="276.62" cy="347.07" r="2.00" fill="#ee6f67" fill-opacity="0.79"/>
<circle cx="271.28" cy="350.90" r="2.00" fill="#ee6f67" fill-opacity="0.79"/>
<circle cx="272.65" cy="351.53" r="2.00" fill="#ee6f67" fill-opacity="0.79"/>
<circle cx="265.28" cy="342.44" r="2.00" fill="#ee6f67" fill-opacity="0.79"/>
<circle cx="270.88" cy="342.90" r="2.00" fill="#ee6f67" fill-opacity="0.79"/>
<circle cx="276.82" cy="350.24" r="2.00" fill="#ee6f67" fill-opacity="0.79"/>
<circle cx="264.87" cy="348.07" r="2.00" fill="#ee6f67" fill-opacity="0.79"/>
<circle cx="267.46" cy="349.21" r="2.00" fill="#ee6f67" fill-opacity="0.79"/>
<circle cx="274.73" cy="341.33" r="2.00" fill="#ee6f67" fill-opacity="0.79"/>
<circle cx="260.66" cy="352.03" r="2.00" fill="#ee6f67" fill-opacity="0.79"/>
<circle cx="269.11" cy="350.98" r="2.00" fill="#ee6f67" fill-opacity="0.79"/>
<circle cx="272.22" cy="348.91" r="2.00" fill="#ee6f67" fill-opacity="0.79"/>
<circle cx="274.00" cy="344.64" r="2.00" fill="#ee6f67" fill-opacity="0.79"/>
<circle cx="277.27" cy="308.72" r="2.00" fill="#ee6f67" fill-opacity="0.79"/>
<circle cx="270.91" cy="321.58" r="2.00" fill="#ee6f67" fill-opacity="0.79"/>
<circle cx="278.59" cy="300.90" r="2.00" fill="#ee6f67" fill-opacity="0.79"/>
<circle cx="270.09" cy="320.00" r="2.00" fill="#ee6f67" fill-opacity="0.79"/>
<circle cx="286.44" cy="304.48" r="2.00" fill="#ee6f67" fill-opacity="0.79"/>
<circle cx="273.52" cy="307.19" r="2.00" fill="#ee6f67" fill-opacity="0.79"/>
<circle cx="302.05" cy="302.71" r="2.00" fill="#ee6f67" fill-opacity="0.79"/>
<circle cx="288.56" cy="311.66" r="2.00" fill="#ee6f67" fill-opacity="0.79"/>
<circle cx="288.75" cy="311.23" r="2.00" fill="#ee6f67" fill-opacity="0.79"/>
<circle cx="278.14" cy="318.22" r="2.00" fill="#ee6f67" fill-opacity="0.79"/>
<circle cx="283.25" cy="318.78" r="2.00" fill="#ee6f67" fill-opacity="0.79"/>
<circle cx="271.14" cy="314.10" r="2.00" fill="#ee6f67" fill-opacity="0.79"/>
<circle cx="288.24" cy="315.79" r="2.00" fill="#ee6f67" fill-opacity="0.79"/>
<circle cx="278.30" cy="308.88" r="2.00" fill="#ee6f67" fill-opacity="0.79"/>
<circle cx="276.60" cy="311.22" r="2.00" fill="#ee6f67" fill-opacity="0.79"/>
<circle cx="297.90" cy="307.80" r="2.00" fill="#ee6f67" fill-opacity="0.79"/>
<circle cx="290.78" cy="308.11" r="2.00" fill="#ee6f67" fill-opacity="0.79"/>
<circle cx="277.42" cy="321.36" r="2.00" fill="#ee6f67" fill-opacity="0.79"/>
<circle cx="294.92" cy="307.50" r="2.00" fill="#ee6f67" fill-opacity="0.79"/>
<circle cx="281.76" cy="318.27" r="2.00" fill="#ee6f67" fill-opacity="0.79"/>
<circle cx="277.89" cy="318.50" r="2.00" fill="#ee6f67" fill-opacity="0.79"/>
<circle cx="270.17" cy="311.94" r="2.00" fill="#ee6f67" fill-opacity="0.79"/>
<circle cx="284.83" cy="311.78" r="2.00" fill="#ee6f67" fill-opacity="0.79"/>
<circle cx="294.72" cy="302.14" r="2.00" fill="#ee6f67" fill-opacity="0.79"/>
<circle cx="276.07" cy="307.45" r="2.00" fill="#ee6f67" fill-opacity="0.79"/>
<circle cx="257.91" cy="313.86" r="2.00" fill="#ee6f67" fill-opacity="0.79"/>
<circle cx="279.77" cy="305.08" r="2.00" fill="#ee6f67" fill-opacity="0.79"/>
<circle cx="292.67" cy="314.14" r="2.00" fill="#ee6f67" fill-opacity="0.79"/>
<circle cx="281.09" cy="322.33" r="2.00" fill="#ee6f67" fill-opacity="0.79"/>
<circle cx="284.06" cy="317.22" r="2.00" fill="#ee6f67" fill-opacity="0.79"/>
<circle cx="279.68" cy="318.70" r="2.00" fill="#ee6f67" fill-opacity="0.79"/>
<circle cx="272.54" cy="320.68" r="2.00" fill="#ee6f67" fill-opacity="0.79"/>
<circle cx="274.66" cy="314.67" r="2.00" fill="#ee6f67" fill-opacity="0.79"/>
<circle cx="284.95" cy="310.66" r="2.00" fill="#ee6f67" fill-opacity="0.79"/>
<circle cx="280.36" cy="316.84" r="2.00" fill="#ee6f67" fill-opacity="0.79"/>
<circle cx="282.15" cy="302.39" r="2.00" fill="#ee6f67" fill-opacity="0.79"/>
<circle cx="285.69" cy="313.40" r="2.00" fill="#ee6f67" fill-opacity="0.79"/>
<circle cx="273.55" cy="318.60" r="2.00" fill="#ee6f67" fill-opacity="0.79"/>
<circle cx="271.49" cy="326.48" r="2.00" fill="#ee6f67" fill-opacity="0.79"/>
<circle cx="276.73" cy="313.81" r="2.00" fill="#ee6f67" fill-opacity="0.79"/>
<circle cx="288.98" cy="306.33" r="2.00" fill="#ee6f67" fill-opacity="0.79"/>
<circle cx="281.31" cy="305.02" r="2.00" fill="#ee6f67" fill-opacity="0.79"/>
<circle cx="270.24" cy="309.22" r="2.00" fill="#ee6f67" fill-opacity="0.79"/>
<circle cx="280.03" cy="318.95" r="2.00" fill="#ee6f67" fill-opacity="0.79"/>
<circle cx="283.37" cy="316.09" r="2.00" fill="#ee6f67" fill-opacity="0.79"/>
<circle cx="267.68" cy="313.92" r="2.00" fill="#ee6f67" fill-opacity="0.79"/>
<circle cx="276.54" cy="318.05" r="2.00" fill="#ee6f67" fill-opacity="0.79"/>
<circle cx="282.04" cy="311.15" r="2.00" fill="#ee6f67" fill-opacity="0.79"/>
<circle cx="283.98" cy="309.17" r="2.00" fill="#ee6f67" fill-opacity="0.79"/>
<circle cx="282.40" cy="319.32" r="2.00" fill="#ee6f67" fill-opacity="0.79"/>
<circle cx="274.43" cy="316.80" r="2.00" fill="#ee6f67" fill-opacity="0.79"/>
<circle cx="293.24" cy="305.43" r="2.00" fill="#ee6f67" fill-opacity="0.79"/>
<circle cx="283.45" cy="306.58" r="2.00" fill="#ee6f67" fill-opacity="0.79"/>
<circle cx="289.76" cy="292.50" r="2.00" fill="#ee6f67" fill-opacity="0.79"/>
<circle cx="266.28" cy="313.65" r="2.00" fill="#ee6f67" fill-opacity="0.79"/>
<circle cx="272.70" cy="324.86" r="2.00" fill="#ee6f67" fill-opacity="0.79"/>
<circle cx="257.21" cy="324.37" r="2.00" fill="#ee6f67" fill-opacity="0.79"/>
<circle cx="264.49" cy="328.22" r="2.00" fill="#ee6f67" fill-opacity="0.79"/>
<circle cx="254.07" cy="324.97" r="2.00" fill="#ee6f67" fill-opacity="0.79"/>
<circle cx="255.85" cy="333.78" r="2.00" fill="#ee6f67" fill-opacity="0.79"/>
<circle cx="264.07" cy="328.23" r="2.00" fill="#ee6f67" fill-opacity="0.79"/>
<circle cx="256.66" cy="321.87" r="2.00" fill="#ee6f67" fill-opacity="0.79"/>
<circle cx="259.71" cy="324.36" r="2.00" fill="#ee6f67" fill-opacity="0.79"/>
<circle cx="263.42" cy="330.87" r="2.00" fill="#ee6f67" fill-opacity="0.79"/>
<circle cx="255.35" cy="326.94" r="2.00" fill="#ee6f67" fill-opacity="0.79"/>
<circle cx="268.90" cy="327.05" r="2.00" fill="#ee6f67" fill-opacity="0.79"/>
<circle cx="250.64" cy="318.24" r="2.00" fill="#ee6f67" fill-opacity="0.79"/>
<circle cx="263.28" cy="331.90" r="2.00" fill="#ee6f67" fill-opacity="0.79"/>
<circle cx="267.10" cy="322.14" r="2.00" fill="#ee6f67" fill-opacity="0.79"/>
<circle cx="256.99" cy="329.33" r="2.00" fill="#ee6f67" fill-opacity="0.79"/>
<circle cx="264.14" cy="320.98" r="2.00" fill="#ee6f67" fill-opacity="0.79"/>
<circle cx="259.00" cy="325.39" r="2.00" fill="#ee6f67" fill-opacity="0.79"/>
<circle cx="259.74" cy="321.33" r="2.00" fill="#ee6f67" fill-opacity="0.79"/>
<circle cx="299.32" cy="327.51" r="2.00" fill="#ee6f67" fill-opacity="0.79"/>
<circle cx="297.22" cy="330.58" r="2.00" fill="#ee6f67" fill-opacity="0.79"/>
<circle cx="302.00" cy="323.91" r="2.00" fill="#ee6f67" fill-opacity="0.79"/>
<circle cx="301.51" cy="330.67" r="2.00" fill="#ee6f67" fill-opacity="0.79"/>
<circle cx="296.97" cy="333.21" r="2.00" fill="#ee6f67" fill-opacity="0.79"/>
<circle cx="298.66" cy="332.88" r="2.00" fill="#ee6f67" fill-opacity="0.79"/>
<circle cx="295.93" cy="326.40" r="2.00" fill="#ee6f67" fill-opacity="0.79"/>
<circle cx="302.29" cy="335.49" r="2.00" fill="#ee6f67" fill-opacity="0.79"/>
<circle cx="300.22" cy="331.67" r="2.00" fill="#ee6f67" fill-opacity="0.79"/>
<circle cx="296.34" cy="325.02" r="2.00" fill="#ee6f67" fill-opacity="0.79"/>
<circle cx="297.21" cy="333.50" r="2.00" fill="#ee6f67" fill-opacity="0.79"/>
<circle cx="291.49" cy="327.51" r="2.00" fill="#ee6f67" fill-opacity="0.79"/>
<circle cx="291.30" cy="329.32" r="2.00" fill="#ee6f67" fill-opacity="0.79"/>
<circle cx="301.06" cy="325.27" r="2.00" fill="#ee6f67" fill-opacity="0.79"/>
<circle cx="296.57" cy="332.98" r="2.00" fill="#ee6f67" fill-opacity="0.79"/>
<line x1="330.3" y1="304.4" x2="204.6" y2="384.9" stroke="#3e58a8" stroke-width="1.25" stroke-dasharray="3.8 3"/>
<text x="199.50" y="275.80" font-size="8.8" textLength="90.20" lengthAdjust="spacingAndGlyphs" fill="#404040"><tspan font-style="italic">r</tspan> = 0.596, <tspan font-style="italic">P</tspan> = 6.0 × 10<tspan font-size="6.0" dy="-3.6">−38</tspan></text>
<text x="-0.60" y="267.20" font-size="12" font-weight="bold" fill="#111">c</text>
<line x1="370.20" y1="403.70" x2="591.10" y2="403.70" stroke="#ececec" stroke-width="0.8"/>
<line x1="370.20" y1="382.00" x2="591.10" y2="382.00" stroke="#f4f4f4" stroke-width="0.8"/>
<line x1="370.20" y1="360.30" x2="591.10" y2="360.30" stroke="#ececec" stroke-width="0.8"/>
<line x1="370.20" y1="338.60" x2="591.10" y2="338.60" stroke="#f4f4f4" stroke-width="0.8"/>
<line x1="370.20" y1="316.90" x2="591.10" y2="316.90" stroke="#ececec" stroke-width="0.8"/>
<line x1="370.20" y1="295.20" x2="591.10" y2="295.20" stroke="#f4f4f4" stroke-width="0.8"/>
<line x1="370.20" y1="273.50" x2="591.10" y2="273.50" stroke="#ececec" stroke-width="0.8"/>
<line x1="395.50" y1="268.00" x2="395.50" y2="409.60" stroke="#ececec" stroke-width="0.8"/>
<line x1="438.00" y1="268.00" x2="438.00" y2="409.60" stroke="#ececec" stroke-width="0.8"/>
<line x1="480.50" y1="268.00" x2="480.50" y2="409.60" stroke="#ececec" stroke-width="0.8"/>
<line x1="523.00" y1="268.00" x2="523.00" y2="409.60" stroke="#ececec" stroke-width="0.8"/>
<line x1="565.50" y1="268.00" x2="565.50" y2="409.60" stroke="#ececec" stroke-width="0.8"/>
<text x="367.30" y="276.30" font-size="7.7" text-anchor="end" textLength="10.20" lengthAdjust="spacingAndGlyphs" fill="#444">1.4</text>
<text x="367.30" y="319.70" font-size="7.7" text-anchor="end" textLength="10.20" lengthAdjust="spacingAndGlyphs" fill="#444">1.2</text>
<text x="367.30" y="363.10" font-size="7.7" text-anchor="end" textLength="10.20" lengthAdjust="spacingAndGlyphs" fill="#444">1.0</text>
<text x="367.30" y="406.50" font-size="7.7" text-anchor="end" textLength="10.20" lengthAdjust="spacingAndGlyphs" fill="#444">0.8</text>
<text x="351.20" y="340.50" font-size="9.0" text-anchor="middle" textLength="44.10" lengthAdjust="spacingAndGlyphs" fill="#363636" transform="rotate(-90 351.20 340.50)">E-statistics</text>
<text x="402.30" y="416.00" font-size="7.6" text-anchor="end" fill="#444" transform="rotate(-45 402.30 416.00)">1K</text>
<text x="444.80" y="416.00" font-size="7.6" text-anchor="end" fill="#444" transform="rotate(-45 444.80 416.00)">3K</text>
<text x="487.30" y="416.00" font-size="7.6" text-anchor="end" fill="#444" transform="rotate(-45 487.30 416.00)">5K</text>
<text x="529.80" y="416.00" font-size="7.6" text-anchor="end" fill="#444" transform="rotate(-45 529.80 416.00)">7K</text>
<text x="572.30" y="416.00" font-size="7.6" text-anchor="end" fill="#444" transform="rotate(-45 572.30 416.00)">9K</text>
<text x="456.60" y="435.80" font-size="9.0" textLength="48.00" lengthAdjust="spacingAndGlyphs" fill="#363636">Cell counts</text>
<text x="343.90" y="267.70" font-size="12" font-weight="bold" fill="#111">d</text>
<line x1="406.80" y1="285.70" x2="406.80" y2="321.80" stroke="#333" stroke-width="0.6"/>
<rect x="403.10" y="297.20" width="7.40" height="16.60" fill="#ef8b62" stroke="#333" stroke-width="0.6"/>
<line x1="403.10" y1="299.50" x2="410.50" y2="299.50" stroke="#333" stroke-width="0.8"/>
<line x1="449.30" y1="294.80" x2="449.30" y2="315.00" stroke="#333" stroke-width="0.6"/>
<rect x="445.60" y="299.80" width="7.40" height="9.40" fill="#ef8b62" stroke="#333" stroke-width="0.6"/>
<line x1="445.60" y1="306.50" x2="453.00" y2="306.50" stroke="#333" stroke-width="0.8"/>
<line x1="491.80" y1="303.00" x2="491.80" y2="312.00" stroke="#333" stroke-width="0.6"/>
<rect x="488.10" y="305.90" width="7.40" height="2.50" fill="#ef8b62" stroke="#333" stroke-width="0.6"/>
<line x1="488.10" y1="307.20" x2="495.50" y2="307.20" stroke="#333" stroke-width="0.8"/>
<line x1="534.30" y1="290.30" x2="534.30" y2="307.10" stroke="#333" stroke-width="0.6"/>
<rect x="530.60" y="294.00" width="7.40" height="8.40" fill="#ef8b62" stroke="#333" stroke-width="0.6"/>
<line x1="530.60" y1="297.50" x2="538.00" y2="297.50" stroke="#333" stroke-width="0.8"/>
<line x1="576.80" y1="282.50" x2="576.80" y2="296.60" stroke="#333" stroke-width="0.6"/>
<rect x="573.10" y="287.70" width="7.40" height="5.80" fill="#ef8b62" stroke="#333" stroke-width="0.6"/>
<line x1="573.10" y1="290.80" x2="580.50" y2="290.80" stroke="#333" stroke-width="0.8"/>
<line x1="395.50" y1="350.10" x2="395.50" y2="360.40" stroke="#333" stroke-width="0.6"/>
<rect x="391.80" y="352.40" width="7.40" height="5.30" fill="#f3c59e" stroke="#333" stroke-width="0.6"/>
<line x1="391.80" y1="354.70" x2="399.20" y2="354.70" stroke="#333" stroke-width="0.8"/>
<line x1="438.00" y1="356.00" x2="438.00" y2="366.50" stroke="#333" stroke-width="0.6"/>
<rect x="434.30" y="360.10" width="7.40" height="4.70" fill="#f3c59e" stroke="#333" stroke-width="0.6"/>
<line x1="434.30" y1="362.00" x2="441.70" y2="362.00" stroke="#333" stroke-width="0.8"/>
<line x1="480.50" y1="361.50" x2="480.50" y2="367.20" stroke="#333" stroke-width="0.6"/>
<rect x="476.80" y="363.20" width="7.40" height="2.90" fill="#f3c59e" stroke="#333" stroke-width="0.6"/>
<line x1="476.80" y1="364.60" x2="484.20" y2="364.60" stroke="#333" stroke-width="0.8"/>
<line x1="523.00" y1="364.50" x2="523.00" y2="367.40" stroke="#333" stroke-width="0.6"/>
<rect x="519.30" y="365.30" width="7.40" height="1.40" fill="#f3c59e" stroke="#333" stroke-width="0.6"/>
<line x1="519.30" y1="366.00" x2="526.70" y2="366.00" stroke="#333" stroke-width="0.8"/>
<line x1="565.50" y1="360.20" x2="565.50" y2="366.20" stroke="#333" stroke-width="0.6"/>
<rect x="561.80" y="361.60" width="7.40" height="3.50" fill="#f3c59e" stroke="#333" stroke-width="0.6"/>
<line x1="561.80" y1="363.30" x2="569.20" y2="363.30" stroke="#333" stroke-width="0.8"/>
<line x1="384.20" y1="360.20" x2="384.20" y2="365.50" stroke="#333" stroke-width="0.6"/>
<rect x="380.50" y="362.00" width="7.40" height="2.00" fill="#f1ebae" stroke="#333" stroke-width="0.6"/>
<line x1="380.50" y1="363.00" x2="387.90" y2="363.00" stroke="#333" stroke-width="0.8"/>
<line x1="426.70" y1="360.50" x2="426.70" y2="365.80" stroke="#333" stroke-width="0.6"/>
<rect x="423.00" y="362.60" width="7.40" height="2.00" fill="#f1ebae" stroke="#333" stroke-width="0.6"/>
<line x1="423.00" y1="363.60" x2="430.40" y2="363.60" stroke="#333" stroke-width="0.8"/>
<line x1="469.20" y1="358.50" x2="469.20" y2="366.00" stroke="#333" stroke-width="0.6"/>
<rect x="465.50" y="360.60" width="7.40" height="3.60" fill="#f1ebae" stroke="#333" stroke-width="0.6"/>
<line x1="465.50" y1="362.60" x2="472.90" y2="362.60" stroke="#333" stroke-width="0.8"/>
<line x1="511.70" y1="359.80" x2="511.70" y2="366.60" stroke="#333" stroke-width="0.6"/>
<rect x="508.00" y="361.60" width="7.40" height="4.10" fill="#f1ebae" stroke="#333" stroke-width="0.6"/>
<line x1="508.00" y1="363.60" x2="515.40" y2="363.60" stroke="#333" stroke-width="0.8"/>
<line x1="554.20" y1="360.50" x2="554.20" y2="366.40" stroke="#333" stroke-width="0.6"/>
<rect x="550.50" y="362.20" width="7.40" height="3.50" fill="#f1ebae" stroke="#333" stroke-width="0.6"/>
<line x1="550.50" y1="364.00" x2="557.90" y2="364.00" stroke="#333" stroke-width="0.8"/>
<circle cx="406.94" cy="285.70" r="1.15" fill="#2b2b2b" fill-opacity="0.72"/>
<circle cx="407.38" cy="289.50" r="1.15" fill="#2b2b2b" fill-opacity="0.72"/>
<circle cx="406.21" cy="293.00" r="1.15" fill="#2b2b2b" fill-opacity="0.72"/>
<circle cx="406.83" cy="296.50" r="1.15" fill="#2b2b2b" fill-opacity="0.72"/>
<circle cx="407.90" cy="298.00" r="1.15" fill="#2b2b2b" fill-opacity="0.72"/>
<circle cx="407.91" cy="299.00" r="1.15" fill="#2b2b2b" fill-opacity="0.72"/>
<circle cx="405.75" cy="299.50" r="1.15" fill="#2b2b2b" fill-opacity="0.72"/>
<circle cx="405.98" cy="300.50" r="1.15" fill="#2b2b2b" fill-opacity="0.72"/>
<circle cx="405.54" cy="310.00" r="1.15" fill="#2b2b2b" fill-opacity="0.72"/>
<circle cx="406.63" cy="313.00" r="1.15" fill="#2b2b2b" fill-opacity="0.72"/>
<circle cx="405.48" cy="316.00" r="1.15" fill="#2b2b2b" fill-opacity="0.72"/>
<circle cx="406.68" cy="319.00" r="1.15" fill="#2b2b2b" fill-opacity="0.72"/>
<circle cx="407.22" cy="321.80" r="1.15" fill="#2b2b2b" fill-opacity="0.72"/>
<circle cx="448.68" cy="294.80" r="1.15" fill="#2b2b2b" fill-opacity="0.72"/>
<circle cx="449.79" cy="296.50" r="1.15" fill="#2b2b2b" fill-opacity="0.72"/>
<circle cx="449.55" cy="298.00" r="1.15" fill="#2b2b2b" fill-opacity="0.72"/>
<circle cx="447.97" cy="300.00" r="1.15" fill="#2b2b2b" fill-opacity="0.72"/>
<circle cx="449.46" cy="301.00" r="1.15" fill="#2b2b2b" fill-opacity="0.72"/>
<circle cx="448.63" cy="304.00" r="1.15" fill="#2b2b2b" fill-opacity="0.72"/>
<circle cx="449.06" cy="305.00" r="1.15" fill="#2b2b2b" fill-opacity="0.72"/>
<circle cx="448.69" cy="306.00" r="1.15" fill="#2b2b2b" fill-opacity="0.72"/>
<circle cx="449.84" cy="308.00" r="1.15" fill="#2b2b2b" fill-opacity="0.72"/>
<circle cx="449.13" cy="311.00" r="1.15" fill="#2b2b2b" fill-opacity="0.72"/>
<circle cx="448.34" cy="313.00" r="1.15" fill="#2b2b2b" fill-opacity="0.72"/>
<circle cx="449.43" cy="315.00" r="1.15" fill="#2b2b2b" fill-opacity="0.72"/>
<circle cx="492.58" cy="301.60" r="1.15" fill="#2b2b2b" fill-opacity="0.72"/>
<circle cx="491.26" cy="305.00" r="1.15" fill="#2b2b2b" fill-opacity="0.72"/>
<circle cx="491.02" cy="306.50" r="1.15" fill="#2b2b2b" fill-opacity="0.72"/>
<circle cx="491.49" cy="307.00" r="1.15" fill="#2b2b2b" fill-opacity="0.72"/>
<circle cx="493.02" cy="307.50" r="1.15" fill="#2b2b2b" fill-opacity="0.72"/>
<circle cx="493.13" cy="308.00" r="1.15" fill="#2b2b2b" fill-opacity="0.72"/>
<circle cx="492.28" cy="308.20" r="1.15" fill="#2b2b2b" fill-opacity="0.72"/>
<circle cx="492.93" cy="310.00" r="1.15" fill="#2b2b2b" fill-opacity="0.72"/>
<circle cx="492.77" cy="312.00" r="1.15" fill="#2b2b2b" fill-opacity="0.72"/>
<circle cx="491.46" cy="314.20" r="1.15" fill="#2b2b2b" fill-opacity="0.72"/>
<circle cx="533.16" cy="290.30" r="1.15" fill="#2b2b2b" fill-opacity="0.72"/>
<circle cx="534.73" cy="292.00" r="1.15" fill="#2b2b2b" fill-opacity="0.72"/>
<circle cx="534.46" cy="293.50" r="1.15" fill="#2b2b2b" fill-opacity="0.72"/>
<circle cx="533.91" cy="295.00" r="1.15" fill="#2b2b2b" fill-opacity="0.72"/>
<circle cx="533.53" cy="296.00" r="1.15" fill="#2b2b2b" fill-opacity="0.72"/>
<circle cx="534.04" cy="297.00" r="1.15" fill="#2b2b2b" fill-opacity="0.72"/>
<circle cx="534.21" cy="298.00" r="1.15" fill="#2b2b2b" fill-opacity="0.72"/>
<circle cx="533.65" cy="300.00" r="1.15" fill="#2b2b2b" fill-opacity="0.72"/>
<circle cx="533.72" cy="302.00" r="1.15" fill="#2b2b2b" fill-opacity="0.72"/>
<circle cx="534.18" cy="304.00" r="1.15" fill="#2b2b2b" fill-opacity="0.72"/>
<circle cx="535.31" cy="307.10" r="1.15" fill="#2b2b2b" fill-opacity="0.72"/>
<circle cx="577.04" cy="277.20" r="1.15" fill="#2b2b2b" fill-opacity="0.72"/>
<circle cx="576.19" cy="281.00" r="1.15" fill="#2b2b2b" fill-opacity="0.72"/>
<circle cx="576.18" cy="285.00" r="1.15" fill="#2b2b2b" fill-opacity="0.72"/>
<circle cx="576.67" cy="288.00" r="1.15" fill="#2b2b2b" fill-opacity="0.72"/>
<circle cx="575.98" cy="289.50" r="1.15" fill="#2b2b2b" fill-opacity="0.72"/>
<circle cx="575.96" cy="290.50" r="1.15" fill="#2b2b2b" fill-opacity="0.72"/>
<circle cx="576.84" cy="291.00" r="1.15" fill="#2b2b2b" fill-opacity="0.72"/>
<circle cx="575.64" cy="292.00" r="1.15" fill="#2b2b2b" fill-opacity="0.72"/>
<circle cx="576.75" cy="293.00" r="1.15" fill="#2b2b2b" fill-opacity="0.72"/>
<circle cx="576.41" cy="295.00" r="1.15" fill="#2b2b2b" fill-opacity="0.72"/>
<circle cx="577.38" cy="296.60" r="1.15" fill="#2b2b2b" fill-opacity="0.72"/>
<circle cx="396.19" cy="350.20" r="1.15" fill="#2b2b2b" fill-opacity="0.72"/>
<circle cx="396.04" cy="351.50" r="1.15" fill="#2b2b2b" fill-opacity="0.72"/>
<circle cx="396.03" cy="352.50" r="1.15" fill="#2b2b2b" fill-opacity="0.72"/>
<circle cx="395.15" cy="353.50" r="1.15" fill="#2b2b2b" fill-opacity="0.72"/>
<circle cx="395.97" cy="354.50" r="1.15" fill="#2b2b2b" fill-opacity="0.72"/>
<circle cx="395.05" cy="355.50" r="1.15" fill="#2b2b2b" fill-opacity="0.72"/>
<circle cx="395.70" cy="356.50" r="1.15" fill="#2b2b2b" fill-opacity="0.72"/>
<circle cx="395.01" cy="358.00" r="1.15" fill="#2b2b2b" fill-opacity="0.72"/>
<circle cx="395.35" cy="360.00" r="1.15" fill="#2b2b2b" fill-opacity="0.72"/>
<circle cx="394.27" cy="353.00" r="1.15" fill="#2b2b2b" fill-opacity="0.72"/>
<circle cx="394.78" cy="354.00" r="1.15" fill="#2b2b2b" fill-opacity="0.72"/>
<circle cx="396.82" cy="355.00" r="1.15" fill="#2b2b2b" fill-opacity="0.72"/>
<circle cx="394.75" cy="356.00" r="1.15" fill="#2b2b2b" fill-opacity="0.72"/>
<circle cx="438.54" cy="352.50" r="1.15" fill="#2b2b2b" fill-opacity="0.72"/>
<circle cx="438.42" cy="355.00" r="1.15" fill="#2b2b2b" fill-opacity="0.72"/>
<circle cx="438.63" cy="357.00" r="1.15" fill="#2b2b2b" fill-opacity="0.72"/>
<circle cx="437.93" cy="359.50" r="1.15" fill="#2b2b2b" fill-opacity="0.72"/>
<circle cx="438.27" cy="361.00" r="1.15" fill="#2b2b2b" fill-opacity="0.72"/>
<circle cx="436.79" cy="362.00" r="1.15" fill="#2b2b2b" fill-opacity="0.72"/>
<circle cx="436.80" cy="363.00" r="1.15" fill="#2b2b2b" fill-opacity="0.72"/>
<circle cx="437.16" cy="364.00" r="1.15" fill="#2b2b2b" fill-opacity="0.72"/>
<circle cx="437.03" cy="365.50" r="1.15" fill="#2b2b2b" fill-opacity="0.72"/>
<circle cx="479.38" cy="355.90" r="1.15" fill="#2b2b2b" fill-opacity="0.72"/>
<circle cx="479.46" cy="360.60" r="1.15" fill="#2b2b2b" fill-opacity="0.72"/>
<circle cx="480.65" cy="362.00" r="1.15" fill="#2b2b2b" fill-opacity="0.72"/>
<circle cx="479.63" cy="363.50" r="1.15" fill="#2b2b2b" fill-opacity="0.72"/>
<circle cx="481.77" cy="364.50" r="1.15" fill="#2b2b2b" fill-opacity="0.72"/>
<circle cx="481.01" cy="365.50" r="1.15" fill="#2b2b2b" fill-opacity="0.72"/>
<circle cx="480.61" cy="366.50" r="1.15" fill="#2b2b2b" fill-opacity="0.72"/>
<circle cx="523.58" cy="360.60" r="1.15" fill="#2b2b2b" fill-opacity="0.72"/>
<circle cx="522.34" cy="364.50" r="1.15" fill="#2b2b2b" fill-opacity="0.72"/>
<circle cx="524.19" cy="365.50" r="1.15" fill="#2b2b2b" fill-opacity="0.72"/>
<circle cx="523.95" cy="366.00" r="1.15" fill="#2b2b2b" fill-opacity="0.72"/>
<circle cx="523.63" cy="366.50" r="1.15" fill="#2b2b2b" fill-opacity="0.72"/>
<circle cx="522.94" cy="367.00" r="1.15" fill="#2b2b2b" fill-opacity="0.72"/>
<circle cx="566.46" cy="360.50" r="1.15" fill="#2b2b2b" fill-opacity="0.72"/>
<circle cx="566.19" cy="361.50" r="1.15" fill="#2b2b2b" fill-opacity="0.72"/>
<circle cx="565.95" cy="362.50" r="1.15" fill="#2b2b2b" fill-opacity="0.72"/>
<circle cx="566.66" cy="363.50" r="1.15" fill="#2b2b2b" fill-opacity="0.72"/>
<circle cx="565.87" cy="364.50" r="1.15" fill="#2b2b2b" fill-opacity="0.72"/>
<circle cx="565.12" cy="365.00" r="1.15" fill="#2b2b2b" fill-opacity="0.72"/>
<circle cx="565.65" cy="366.00" r="1.15" fill="#2b2b2b" fill-opacity="0.72"/>
<circle cx="383.35" cy="360.20" r="1.15" fill="#2b2b2b" fill-opacity="0.72"/>
<circle cx="383.34" cy="361.00" r="1.15" fill="#2b2b2b" fill-opacity="0.72"/>
<circle cx="384.83" cy="362.00" r="1.15" fill="#2b2b2b" fill-opacity="0.72"/>
<circle cx="385.00" cy="362.50" r="1.15" fill="#2b2b2b" fill-opacity="0.72"/>
<circle cx="385.52" cy="363.00" r="1.15" fill="#2b2b2b" fill-opacity="0.72"/>
<circle cx="385.18" cy="363.50" r="1.15" fill="#2b2b2b" fill-opacity="0.72"/>
<circle cx="384.32" cy="364.00" r="1.15" fill="#2b2b2b" fill-opacity="0.72"/>
<circle cx="383.05" cy="364.50" r="1.15" fill="#2b2b2b" fill-opacity="0.72"/>
<circle cx="384.17" cy="365.50" r="1.15" fill="#2b2b2b" fill-opacity="0.72"/>
<circle cx="385.40" cy="362.80" r="1.15" fill="#2b2b2b" fill-opacity="0.72"/>
<circle cx="385.01" cy="363.20" r="1.15" fill="#2b2b2b" fill-opacity="0.72"/>
<circle cx="384.16" cy="363.80" r="1.15" fill="#2b2b2b" fill-opacity="0.72"/>
<circle cx="384.07" cy="362.20" r="1.15" fill="#2b2b2b" fill-opacity="0.72"/>
<circle cx="381.21" cy="362.80" r="1.15" fill="#2b2b2b" fill-opacity="0.72"/>
<circle cx="381.10" cy="363.20" r="1.15" fill="#2b2b2b" fill-opacity="0.72"/>
<circle cx="385.21" cy="362.80" r="1.15" fill="#2b2b2b" fill-opacity="0.72"/>
<circle cx="387.50" cy="363.20" r="1.15" fill="#2b2b2b" fill-opacity="0.72"/>
<circle cx="427.09" cy="360.50" r="1.15" fill="#2b2b2b" fill-opacity="0.72"/>
<circle cx="425.70" cy="362.00" r="1.15" fill="#2b2b2b" fill-opacity="0.72"/>
<circle cx="426.46" cy="363.00" r="1.15" fill="#2b2b2b" fill-opacity="0.72"/>
<circle cx="425.44" cy="363.50" r="1.15" fill="#2b2b2b" fill-opacity="0.72"/>
<circle cx="425.89" cy="364.00" r="1.15" fill="#2b2b2b" fill-opacity="0.72"/>
<circle cx="427.35" cy="365.00" r="1.15" fill="#2b2b2b" fill-opacity="0.72"/>
<circle cx="427.12" cy="365.80" r="1.15" fill="#2b2b2b" fill-opacity="0.72"/>
<circle cx="426.64" cy="363.30" r="1.15" fill="#2b2b2b" fill-opacity="0.72"/>
<circle cx="426.07" cy="363.80" r="1.15" fill="#2b2b2b" fill-opacity="0.72"/>
<circle cx="427.13" cy="364.20" r="1.15" fill="#2b2b2b" fill-opacity="0.72"/>
<circle cx="425.78" cy="363.60" r="1.15" fill="#2b2b2b" fill-opacity="0.72"/>
<circle cx="424.32" cy="364.00" r="1.15" fill="#2b2b2b" fill-opacity="0.72"/>
<circle cx="427.70" cy="363.60" r="1.15" fill="#2b2b2b" fill-opacity="0.72"/>
<circle cx="427.66" cy="364.00" r="1.15" fill="#2b2b2b" fill-opacity="0.72"/>
<circle cx="468.03" cy="342.60" r="1.15" fill="#2b2b2b" fill-opacity="0.72"/>
<circle cx="470.49" cy="350.70" r="1.15" fill="#2b2b2b" fill-opacity="0.72"/>
<circle cx="469.31" cy="359.00" r="1.15" fill="#2b2b2b" fill-opacity="0.72"/>
<circle cx="470.14" cy="360.60" r="1.15" fill="#2b2b2b" fill-opacity="0.72"/>
<circle cx="468.28" cy="361.50" r="1.15" fill="#2b2b2b" fill-opacity="0.72"/>
<circle cx="468.53" cy="362.50" r="1.15" fill="#2b2b2b" fill-opacity="0.72"/>
<circle cx="469.74" cy="363.50" r="1.15" fill="#2b2b2b" fill-opacity="0.72"/>
<circle cx="470.31" cy="364.50" r="1.15" fill="#2b2b2b" fill-opacity="0.72"/>
<circle cx="468.75" cy="366.00" r="1.15" fill="#2b2b2b" fill-opacity="0.72"/>
<circle cx="510.48" cy="359.80" r="1.15" fill="#2b2b2b" fill-opacity="0.72"/>
<circle cx="512.72" cy="361.00" r="1.15" fill="#2b2b2b" fill-opacity="0.72"/>
<circle cx="511.11" cy="362.50" r="1.15" fill="#2b2b2b" fill-opacity="0.72"/>
<circle cx="512.38" cy="363.50" r="1.15" fill="#2b2b2b" fill-opacity="0.72"/>
<circle cx="510.74" cy="364.50" r="1.15" fill="#2b2b2b" fill-opacity="0.72"/>
<circle cx="512.25" cy="365.50" r="1.15" fill="#2b2b2b" fill-opacity="0.72"/>
<circle cx="512.66" cy="366.60" r="1.15" fill="#2b2b2b" fill-opacity="0.72"/>
<circle cx="554.84" cy="360.50" r="1.15" fill="#2b2b2b" fill-opacity="0.72"/>
<circle cx="553.81" cy="362.00" r="1.15" fill="#2b2b2b" fill-opacity="0.72"/>
<circle cx="554.83" cy="363.00" r="1.15" fill="#2b2b2b" fill-opacity="0.72"/>
<circle cx="553.19" cy="364.00" r="1.15" fill="#2b2b2b" fill-opacity="0.72"/>
<circle cx="553.68" cy="365.00" r="1.15" fill="#2b2b2b" fill-opacity="0.72"/>
<circle cx="553.97" cy="366.40" r="1.15" fill="#2b2b2b" fill-opacity="0.72"/>
<text x="593.00" y="322.30" font-size="8.6" textLength="29.20" lengthAdjust="spacingAndGlyphs" fill="#363636">Method</text>
<line x1="598.40" y1="327.20" x2="598.40" y2="337.30" stroke="#333" stroke-width="0.6"/>
<rect x="593.00" y="328.70" width="10.80" height="7.20" fill="#f1ebae" stroke="#555" stroke-width="0.6"/>
<line x1="593.00" y1="332.30" x2="603.80" y2="332.30" stroke="#333" stroke-width="0.7"/>
<circle cx="598.40" cy="332.30" r="1.00" fill="#444"/>
<text x="609.10" y="334.80" font-size="8.6" textLength="33.00" lengthAdjust="spacingAndGlyphs" fill="#363636">Average</text>
<line x1="598.40" y1="340.70" x2="598.40" y2="350.80" stroke="#333" stroke-width="0.6"/>
<rect x="593.00" y="342.20" width="10.80" height="7.20" fill="#f3c59e" stroke="#555" stroke-width="0.6"/>
<line x1="593.00" y1="345.80" x2="603.80" y2="345.80" stroke="#333" stroke-width="0.7"/>
<circle cx="598.40" cy="345.80" r="1.00" fill="#444"/>
<text x="607.90" y="348.30" font-size="8.6" textLength="79.00" lengthAdjust="spacingAndGlyphs" fill="#363636">MAGMA_Celltyping</text>
<line x1="598.40" y1="353.00" x2="598.40" y2="363.10" stroke="#333" stroke-width="0.6"/>
<rect x="593.00" y="354.50" width="10.80" height="7.20" fill="#ef8b62" stroke="#555" stroke-width="0.6"/>
<line x1="593.00" y1="358.10" x2="603.80" y2="358.10" stroke="#333" stroke-width="0.7"/>
<circle cx="598.40" cy="358.10" r="1.00" fill="#444"/>
<text x="607.90" y="360.60" font-size="8.6" textLength="67.50" lengthAdjust="spacingAndGlyphs" fill="#363636">scMORE (cosine)</text>
</svg>
</body></html>
